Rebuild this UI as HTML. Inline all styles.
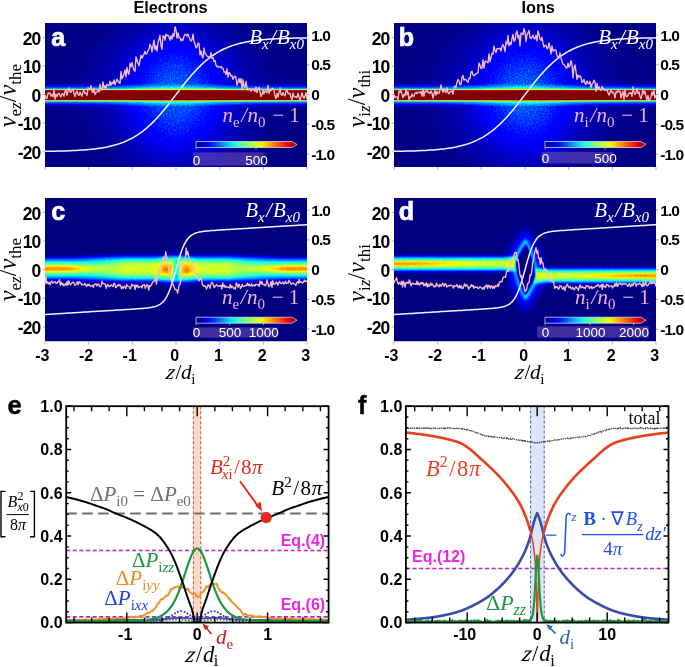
<!DOCTYPE html>
<html><head><meta charset="utf-8"><style>
html,body{margin:0;padding:0;background:#fff;width:685px;height:667px;overflow:hidden}
svg{display:block;will-change:transform}
</style></head><body>
<svg width="685" height="667" viewBox="0 0 685 667">
<defs><linearGradient id="jet" x1="0" x2="1" y1="0" y2="0"><stop offset="0.000" stop-color="#000080"/><stop offset="0.050" stop-color="#0000b9"/><stop offset="0.100" stop-color="#0000f3"/><stop offset="0.150" stop-color="#001aff"/><stop offset="0.200" stop-color="#004dff"/><stop offset="0.250" stop-color="#0080ff"/><stop offset="0.300" stop-color="#00b3ff"/><stop offset="0.350" stop-color="#00e6f7"/><stop offset="0.400" stop-color="#29ffce"/><stop offset="0.450" stop-color="#52ffa5"/><stop offset="0.500" stop-color="#7bff7b"/><stop offset="0.550" stop-color="#a5ff52"/><stop offset="0.600" stop-color="#ceff29"/><stop offset="0.650" stop-color="#f7f600"/><stop offset="0.700" stop-color="#ffc600"/><stop offset="0.750" stop-color="#ff9700"/><stop offset="0.800" stop-color="#ff6800"/><stop offset="0.850" stop-color="#ff3900"/><stop offset="0.900" stop-color="#f30900"/><stop offset="0.950" stop-color="#b90000"/><stop offset="1.000" stop-color="#800000"/></linearGradient>
<linearGradient id="bandA" x1="0" x2="0" y1="0" y2="1"><stop offset="0.000" stop-color="#0002ff"/><stop offset="0.013" stop-color="#000eff"/><stop offset="0.025" stop-color="#0019ff"/><stop offset="0.037" stop-color="#0024ff"/><stop offset="0.050" stop-color="#0030ff"/><stop offset="0.062" stop-color="#003bff"/><stop offset="0.075" stop-color="#0047ff"/><stop offset="0.088" stop-color="#0052ff"/><stop offset="0.100" stop-color="#005eff"/><stop offset="0.112" stop-color="#0069ff"/><stop offset="0.125" stop-color="#0075ff"/><stop offset="0.138" stop-color="#0080ff"/><stop offset="0.150" stop-color="#008cff"/><stop offset="0.162" stop-color="#0097ff"/><stop offset="0.175" stop-color="#00c9ff"/><stop offset="0.188" stop-color="#40ffb6"/><stop offset="0.200" stop-color="#97ff5f"/><stop offset="0.213" stop-color="#efff08"/><stop offset="0.225" stop-color="#ff9b00"/><stop offset="0.238" stop-color="#ff3700"/><stop offset="0.250" stop-color="#b10000"/><stop offset="0.263" stop-color="#800000"/><stop offset="0.275" stop-color="#800000"/><stop offset="0.288" stop-color="#800000"/><stop offset="0.300" stop-color="#800000"/><stop offset="0.312" stop-color="#800000"/><stop offset="0.325" stop-color="#800000"/><stop offset="0.338" stop-color="#800000"/><stop offset="0.350" stop-color="#800000"/><stop offset="0.363" stop-color="#800000"/><stop offset="0.375" stop-color="#800000"/><stop offset="0.388" stop-color="#800000"/><stop offset="0.400" stop-color="#800000"/><stop offset="0.413" stop-color="#800000"/><stop offset="0.425" stop-color="#800000"/><stop offset="0.438" stop-color="#800000"/><stop offset="0.450" stop-color="#800000"/><stop offset="0.463" stop-color="#800000"/><stop offset="0.475" stop-color="#800000"/><stop offset="0.488" stop-color="#800000"/><stop offset="0.500" stop-color="#800000"/><stop offset="0.513" stop-color="#800000"/><stop offset="0.525" stop-color="#800000"/><stop offset="0.537" stop-color="#800000"/><stop offset="0.550" stop-color="#800000"/><stop offset="0.562" stop-color="#800000"/><stop offset="0.575" stop-color="#800000"/><stop offset="0.588" stop-color="#800000"/><stop offset="0.600" stop-color="#800000"/><stop offset="0.613" stop-color="#800000"/><stop offset="0.625" stop-color="#800000"/><stop offset="0.638" stop-color="#800000"/><stop offset="0.650" stop-color="#800000"/><stop offset="0.663" stop-color="#800000"/><stop offset="0.675" stop-color="#800000"/><stop offset="0.688" stop-color="#800000"/><stop offset="0.700" stop-color="#800000"/><stop offset="0.713" stop-color="#800000"/><stop offset="0.725" stop-color="#800000"/><stop offset="0.738" stop-color="#800000"/><stop offset="0.750" stop-color="#b10000"/><stop offset="0.763" stop-color="#ff3700"/><stop offset="0.775" stop-color="#ff9b00"/><stop offset="0.788" stop-color="#efff08"/><stop offset="0.800" stop-color="#97ff5f"/><stop offset="0.812" stop-color="#40ffb6"/><stop offset="0.825" stop-color="#00c9ff"/><stop offset="0.838" stop-color="#0097ff"/><stop offset="0.850" stop-color="#008cff"/><stop offset="0.863" stop-color="#0080ff"/><stop offset="0.875" stop-color="#0075ff"/><stop offset="0.888" stop-color="#0069ff"/><stop offset="0.900" stop-color="#005eff"/><stop offset="0.913" stop-color="#0052ff"/><stop offset="0.925" stop-color="#0047ff"/><stop offset="0.938" stop-color="#003bff"/><stop offset="0.950" stop-color="#0030ff"/><stop offset="0.963" stop-color="#0024ff"/><stop offset="0.975" stop-color="#0019ff"/><stop offset="0.988" stop-color="#000eff"/><stop offset="1.000" stop-color="#0002ff"/></linearGradient>
<linearGradient id="bandC" x1="0" x2="0" y1="0" y2="1"><stop offset="0.000" stop-color="#0000ff" stop-opacity="0.036"/><stop offset="0.017" stop-color="#0000ff" stop-opacity="0.051"/><stop offset="0.033" stop-color="#0000ff" stop-opacity="0.073"/><stop offset="0.050" stop-color="#0000ff" stop-opacity="0.101"/><stop offset="0.067" stop-color="#0000ff" stop-opacity="0.139"/><stop offset="0.083" stop-color="#0000ff" stop-opacity="0.188"/><stop offset="0.100" stop-color="#0000ff" stop-opacity="0.252"/><stop offset="0.117" stop-color="#0000ff" stop-opacity="0.331"/><stop offset="0.133" stop-color="#0000ff" stop-opacity="0.430"/><stop offset="0.150" stop-color="#0000ff" stop-opacity="0.550"/><stop offset="0.167" stop-color="#0000ff" stop-opacity="0.695"/><stop offset="0.183" stop-color="#0000ff" stop-opacity="0.866"/><stop offset="0.200" stop-color="#0000ff"/><stop offset="0.217" stop-color="#0011ff"/><stop offset="0.233" stop-color="#002eff"/><stop offset="0.250" stop-color="#004dff"/><stop offset="0.267" stop-color="#0070ff"/><stop offset="0.283" stop-color="#0094ff"/><stop offset="0.300" stop-color="#00baff"/><stop offset="0.317" stop-color="#00e1fb"/><stop offset="0.333" stop-color="#1bffdb"/><stop offset="0.350" stop-color="#3affbd"/><stop offset="0.367" stop-color="#57ffa0"/><stop offset="0.383" stop-color="#72ff84"/><stop offset="0.400" stop-color="#8bff6c"/><stop offset="0.417" stop-color="#a0ff57"/><stop offset="0.433" stop-color="#b1ff46"/><stop offset="0.450" stop-color="#beff39"/><stop offset="0.467" stop-color="#c7ff30"/><stop offset="0.483" stop-color="#ccff2b"/><stop offset="0.500" stop-color="#ceff29"/><stop offset="0.517" stop-color="#ccff2b"/><stop offset="0.533" stop-color="#c7ff30"/><stop offset="0.550" stop-color="#beff39"/><stop offset="0.567" stop-color="#b1ff46"/><stop offset="0.583" stop-color="#a0ff57"/><stop offset="0.600" stop-color="#8bff6c"/><stop offset="0.617" stop-color="#72ff84"/><stop offset="0.633" stop-color="#57ffa0"/><stop offset="0.650" stop-color="#3affbd"/><stop offset="0.667" stop-color="#1bffdb"/><stop offset="0.683" stop-color="#00e1fb"/><stop offset="0.700" stop-color="#00baff"/><stop offset="0.717" stop-color="#0094ff"/><stop offset="0.733" stop-color="#0070ff"/><stop offset="0.750" stop-color="#004dff"/><stop offset="0.767" stop-color="#002eff"/><stop offset="0.783" stop-color="#0011ff"/><stop offset="0.800" stop-color="#0000ff"/><stop offset="0.817" stop-color="#0000ff" stop-opacity="0.866"/><stop offset="0.833" stop-color="#0000ff" stop-opacity="0.695"/><stop offset="0.850" stop-color="#0000ff" stop-opacity="0.550"/><stop offset="0.867" stop-color="#0000ff" stop-opacity="0.430"/><stop offset="0.883" stop-color="#0000ff" stop-opacity="0.331"/><stop offset="0.900" stop-color="#0000ff" stop-opacity="0.252"/><stop offset="0.917" stop-color="#0000ff" stop-opacity="0.188"/><stop offset="0.933" stop-color="#0000ff" stop-opacity="0.139"/><stop offset="0.950" stop-color="#0000ff" stop-opacity="0.101"/><stop offset="0.967" stop-color="#0000ff" stop-opacity="0.073"/><stop offset="0.983" stop-color="#0000ff" stop-opacity="0.051"/><stop offset="1.000" stop-color="#0000ff" stop-opacity="0.036"/></linearGradient>
<linearGradient id="bandD" x1="0" x2="0" y1="0" y2="1"><stop offset="0.000" stop-color="#0000ff" stop-opacity="0.036"/><stop offset="0.025" stop-color="#0000ff" stop-opacity="0.059"/><stop offset="0.050" stop-color="#0000ff" stop-opacity="0.093"/><stop offset="0.075" stop-color="#0000ff" stop-opacity="0.144"/><stop offset="0.100" stop-color="#0000ff" stop-opacity="0.216"/><stop offset="0.125" stop-color="#0000ff" stop-opacity="0.317"/><stop offset="0.150" stop-color="#0000ff" stop-opacity="0.453"/><stop offset="0.175" stop-color="#0000ff" stop-opacity="0.632"/><stop offset="0.200" stop-color="#0000ff" stop-opacity="0.860"/><stop offset="0.225" stop-color="#0001ff"/><stop offset="0.250" stop-color="#0027ff"/><stop offset="0.275" stop-color="#0053ff"/><stop offset="0.300" stop-color="#0084ff"/><stop offset="0.325" stop-color="#00b8ff"/><stop offset="0.350" stop-color="#07efef"/><stop offset="0.375" stop-color="#32ffc4"/><stop offset="0.400" stop-color="#5aff9d"/><stop offset="0.425" stop-color="#7cff7a"/><stop offset="0.450" stop-color="#97ff60"/><stop offset="0.475" stop-color="#a7ff50"/><stop offset="0.500" stop-color="#adff4a"/><stop offset="0.525" stop-color="#a7ff50"/><stop offset="0.550" stop-color="#97ff60"/><stop offset="0.575" stop-color="#7cff7a"/><stop offset="0.600" stop-color="#5aff9d"/><stop offset="0.625" stop-color="#32ffc4"/><stop offset="0.650" stop-color="#07efef"/><stop offset="0.675" stop-color="#00b8ff"/><stop offset="0.700" stop-color="#0084ff"/><stop offset="0.725" stop-color="#0053ff"/><stop offset="0.750" stop-color="#0027ff"/><stop offset="0.775" stop-color="#0001ff"/><stop offset="0.800" stop-color="#0000ff" stop-opacity="0.860"/><stop offset="0.825" stop-color="#0000ff" stop-opacity="0.632"/><stop offset="0.850" stop-color="#0000ff" stop-opacity="0.453"/><stop offset="0.875" stop-color="#0000ff" stop-opacity="0.317"/><stop offset="0.900" stop-color="#0000ff" stop-opacity="0.216"/><stop offset="0.925" stop-color="#0000ff" stop-opacity="0.144"/><stop offset="0.950" stop-color="#0000ff" stop-opacity="0.093"/><stop offset="0.975" stop-color="#0000ff" stop-opacity="0.059"/><stop offset="1.000" stop-color="#0000ff" stop-opacity="0.036"/></linearGradient>
<linearGradient id="coreC" x1="0" x2="0" y1="0" y2="1"><stop offset="0.000" stop-color="#ceff29" stop-opacity="0.009"/><stop offset="0.042" stop-color="#cfff28" stop-opacity="0.019"/><stop offset="0.083" stop-color="#d0ff27" stop-opacity="0.038"/><stop offset="0.125" stop-color="#d3ff24" stop-opacity="0.070"/><stop offset="0.167" stop-color="#d8ff1f" stop-opacity="0.122"/><stop offset="0.208" stop-color="#e1ff16" stop-opacity="0.200"/><stop offset="0.250" stop-color="#f0fd07" stop-opacity="0.307"/><stop offset="0.292" stop-color="#ffe500" stop-opacity="0.440"/><stop offset="0.333" stop-color="#ffc600" stop-opacity="0.591"/><stop offset="0.375" stop-color="#ffa500" stop-opacity="0.744"/><stop offset="0.417" stop-color="#ff8600" stop-opacity="0.877"/><stop offset="0.458" stop-color="#ff7000" stop-opacity="0.968"/><stop offset="0.500" stop-color="#ff6800" stop-opacity="1.000"/><stop offset="0.542" stop-color="#ff7000" stop-opacity="0.968"/><stop offset="0.583" stop-color="#ff8600" stop-opacity="0.877"/><stop offset="0.625" stop-color="#ffa500" stop-opacity="0.744"/><stop offset="0.667" stop-color="#ffc600" stop-opacity="0.591"/><stop offset="0.708" stop-color="#ffe500" stop-opacity="0.440"/><stop offset="0.750" stop-color="#f0fd07" stop-opacity="0.307"/><stop offset="0.792" stop-color="#e1ff16" stop-opacity="0.200"/><stop offset="0.833" stop-color="#d8ff1f" stop-opacity="0.122"/><stop offset="0.875" stop-color="#d3ff24" stop-opacity="0.070"/><stop offset="0.917" stop-color="#d0ff27" stop-opacity="0.038"/><stop offset="0.958" stop-color="#cfff28" stop-opacity="0.019"/><stop offset="1.000" stop-color="#ceff29" stop-opacity="0.009"/></linearGradient>
<linearGradient id="coreD" x1="0" x2="0" y1="0" y2="1"><stop offset="0.000" stop-color="#ceff29" stop-opacity="0.009"/><stop offset="0.042" stop-color="#ceff28" stop-opacity="0.019"/><stop offset="0.083" stop-color="#cfff27" stop-opacity="0.038"/><stop offset="0.125" stop-color="#d2ff25" stop-opacity="0.070"/><stop offset="0.167" stop-color="#d6ff21" stop-opacity="0.122"/><stop offset="0.208" stop-color="#ddff19" stop-opacity="0.200"/><stop offset="0.250" stop-color="#e9ff0e" stop-opacity="0.307"/><stop offset="0.292" stop-color="#faf200" stop-opacity="0.440"/><stop offset="0.333" stop-color="#ffd900" stop-opacity="0.591"/><stop offset="0.375" stop-color="#ffbf00" stop-opacity="0.744"/><stop offset="0.417" stop-color="#ffa600" stop-opacity="0.877"/><stop offset="0.458" stop-color="#ff9400" stop-opacity="0.968"/><stop offset="0.500" stop-color="#ff8e00" stop-opacity="1.000"/><stop offset="0.542" stop-color="#ff9400" stop-opacity="0.968"/><stop offset="0.583" stop-color="#ffa600" stop-opacity="0.877"/><stop offset="0.625" stop-color="#ffbf00" stop-opacity="0.744"/><stop offset="0.667" stop-color="#ffd900" stop-opacity="0.591"/><stop offset="0.708" stop-color="#faf200" stop-opacity="0.440"/><stop offset="0.750" stop-color="#e9ff0e" stop-opacity="0.307"/><stop offset="0.792" stop-color="#ddff19" stop-opacity="0.200"/><stop offset="0.833" stop-color="#d6ff21" stop-opacity="0.122"/><stop offset="0.875" stop-color="#d2ff25" stop-opacity="0.070"/><stop offset="0.917" stop-color="#cfff27" stop-opacity="0.038"/><stop offset="0.958" stop-color="#ceff28" stop-opacity="0.019"/><stop offset="1.000" stop-color="#ceff29" stop-opacity="0.009"/></linearGradient>
<linearGradient id="edgeG" x1="0" x2="1" y1="0" y2="0"><stop offset="0" stop-color="#fff"/><stop offset="0.12" stop-color="#fff" stop-opacity="0.85"/><stop offset="0.3" stop-color="#fff" stop-opacity="0"/><stop offset="0.7" stop-color="#fff" stop-opacity="0"/><stop offset="0.88" stop-color="#fff" stop-opacity="0.85"/><stop offset="1" stop-color="#fff"/></linearGradient>
<radialGradient id="glow" cx="0.5" cy="0.5" r="0.5"><stop offset="0.000" stop-color="#0066ff"/><stop offset="0.071" stop-color="#0061ff"/><stop offset="0.143" stop-color="#0054ff"/><stop offset="0.214" stop-color="#003fff"/><stop offset="0.286" stop-color="#0026ff"/><stop offset="0.357" stop-color="#000aff"/><stop offset="0.429" stop-color="#0000ff" stop-opacity="0.981"/><stop offset="0.500" stop-color="#0000ff" stop-opacity="0.752"/><stop offset="0.571" stop-color="#0000ff" stop-opacity="0.554"/><stop offset="0.643" stop-color="#0000ff" stop-opacity="0.392"/><stop offset="0.714" stop-color="#0000ff" stop-opacity="0.266"/><stop offset="0.786" stop-color="#0000ff" stop-opacity="0.173"/><stop offset="0.857" stop-color="#0000ff" stop-opacity="0.108"/><stop offset="0.929" stop-color="#0000ff" stop-opacity="0.065"/><stop offset="1.000" stop-color="#0000ff" stop-opacity="0.037"/></radialGradient>
<radialGradient id="blob" cx="0.5" cy="0.5" r="0.5"><stop offset="0.000" stop-color="#ff6800" stop-opacity="1.00"/><stop offset="0.100" stop-color="#ff7d00" stop-opacity="0.99"/><stop offset="0.200" stop-color="#ff9100" stop-opacity="0.97"/><stop offset="0.300" stop-color="#ffa600" stop-opacity="0.93"/><stop offset="0.400" stop-color="#ffbb00" stop-opacity="0.87"/><stop offset="0.500" stop-color="#ffd000" stop-opacity="0.78"/><stop offset="0.600" stop-color="#ffe500" stop-opacity="0.67"/><stop offset="0.700" stop-color="#f3f903" stop-opacity="0.54"/><stop offset="0.800" stop-color="#e1ff15" stop-opacity="0.39"/><stop offset="0.900" stop-color="#cfff27" stop-opacity="0.21"/><stop offset="1.000" stop-color="#bdff3a" stop-opacity="0.00"/></radialGradient>
<radialGradient id="wide" cx="0.5" cy="0.5" r="0.5"><stop offset="0.000" stop-color="#00dbff"/><stop offset="0.083" stop-color="#00d2ff"/><stop offset="0.167" stop-color="#00b7ff"/><stop offset="0.250" stop-color="#008fff"/><stop offset="0.333" stop-color="#005fff"/><stop offset="0.417" stop-color="#002eff"/><stop offset="0.500" stop-color="#0000ff"/><stop offset="0.583" stop-color="#0000ff" stop-opacity="0.792"/><stop offset="0.667" stop-color="#0000ff" stop-opacity="0.522"/><stop offset="0.750" stop-color="#0000ff" stop-opacity="0.326"/><stop offset="0.833" stop-color="#0000ff" stop-opacity="0.192"/><stop offset="0.917" stop-color="#0000ff" stop-opacity="0.107"/><stop offset="1.000" stop-color="#0000ff" stop-opacity="0.057"/></radialGradient>
<filter id="nz" x="0" y="0" width="1" height="1" color-interpolation-filters="sRGB"><feTurbulence type="fractalNoise" baseFrequency="0.6" numOctaves="2" seed="4" result="t"/><feColorMatrix in="t" type="matrix" values="1 0 0 0 0  1 0 0 0 0  1 0 0 0 0  1 0 0 0 0" result="tg"/><feComposite in="SourceGraphic" in2="tg" operator="arithmetic" k1="0.7" k2="0.65" k3="0" k4="0"/></filter>
<filter id="nz2" x="0" y="0" width="1" height="1" color-interpolation-filters="sRGB"><feTurbulence type="fractalNoise" baseFrequency="0.55" numOctaves="2" seed="9" result="t"/><feColorMatrix in="t" type="matrix" values="1 0 0 0 0  1 0 0 0 0  1 0 0 0 0  1 0 0 0 0" result="tg"/><feComposite in="SourceGraphic" in2="tg" operator="arithmetic" k1="0.2" k2="0.9" k3="0" k4="0"/></filter>
<filter id="jetmap" x="0" y="0" width="1" height="1" color-interpolation-filters="sRGB"><feComponentTransfer><feFuncR type="table" tableValues="0.0000 0.0000 0.0000 0.0000 0.0000 0.0000 0.0000 0.0000 0.0000 0.0000 0.0000 0.0000 0.0000 0.0000 0.0000 0.0000 0.0000 0.0000 0.0000 0.0000 0.0000 0.0000 0.0000 0.0000 0.0000 0.0000 0.0000 0.0000 0.0000 0.0000 0.0000 0.0000 0.0000 0.0000 0.0000 0.0000 0.0314 0.0627 0.0980 0.1294 0.1608 0.1922 0.2275 0.2588 0.2902 0.3216 0.3529 0.3882 0.4196 0.4510 0.4824 0.5176 0.5490 0.5804 0.6118 0.6471 0.6784 0.7098 0.7412 0.7725 0.8078 0.8392 0.8706 0.9020 0.9373 0.9686 1.0000 1.0000 1.0000 1.0000 1.0000 1.0000 1.0000 1.0000 1.0000 1.0000 1.0000 1.0000 1.0000 1.0000 1.0000 1.0000 1.0000 1.0000 1.0000 1.0000 1.0000 1.0000 1.0000 1.0000 0.9529 0.9098 0.8627 0.8196 0.7725 0.7255 0.6824 0.6353 0.5922 0.5451 0.5020"/><feFuncG type="table" tableValues="0.0000 0.0000 0.0000 0.0000 0.0000 0.0000 0.0000 0.0000 0.0000 0.0000 0.0000 0.0000 0.0000 0.0196 0.0588 0.0980 0.1412 0.1804 0.2196 0.2588 0.3020 0.3412 0.3804 0.4196 0.4588 0.5020 0.5412 0.5804 0.6196 0.6588 0.6980 0.7412 0.7804 0.8196 0.8588 0.9020 0.9412 0.9804 1.0000 1.0000 1.0000 1.0000 1.0000 1.0000 1.0000 1.0000 1.0000 1.0000 1.0000 1.0000 1.0000 1.0000 1.0000 1.0000 1.0000 1.0000 1.0000 1.0000 1.0000 1.0000 1.0000 1.0000 1.0000 1.0000 1.0000 0.9647 0.9255 0.8902 0.8510 0.8157 0.7765 0.7412 0.7020 0.6667 0.6314 0.5922 0.5569 0.5176 0.4824 0.4431 0.4078 0.3686 0.3333 0.2980 0.2588 0.2235 0.1843 0.1490 0.1098 0.0745 0.0353 0.0000 0.0000 0.0000 0.0000 0.0000 0.0000 0.0000 0.0000 0.0000 0.0000"/><feFuncB type="table" tableValues="0.5020 0.5451 0.5922 0.6353 0.6824 0.7255 0.7725 0.8196 0.8627 0.9098 0.9529 1.0000 1.0000 1.0000 1.0000 1.0000 1.0000 1.0000 1.0000 1.0000 1.0000 1.0000 1.0000 1.0000 1.0000 1.0000 1.0000 1.0000 1.0000 1.0000 1.0000 1.0000 1.0000 1.0000 1.0000 0.9686 0.9373 0.9020 0.8706 0.8392 0.8078 0.7725 0.7412 0.7098 0.6784 0.6471 0.6118 0.5804 0.5490 0.5176 0.4824 0.4510 0.4196 0.3882 0.3529 0.3216 0.2902 0.2588 0.2275 0.1922 0.1608 0.1294 0.0980 0.0627 0.0314 0.0000 0.0000 0.0000 0.0000 0.0000 0.0000 0.0000 0.0000 0.0000 0.0000 0.0000 0.0000 0.0000 0.0000 0.0000 0.0000 0.0000 0.0000 0.0000 0.0000 0.0000 0.0000 0.0000 0.0000 0.0000 0.0000 0.0000 0.0000 0.0000 0.0000 0.0000 0.0000 0.0000 0.0000 0.0000 0.0000"/></feComponentTransfer></filter>
<filter id="bl1" x="-20%" y="-20%" width="140%" height="140%"><feGaussianBlur stdDeviation="1.2"/></filter>
<filter id="bl3" x="-50%" y="-50%" width="200%" height="200%"><feGaussianBlur stdDeviation="3"/></filter>
<filter id="bl5" x="-50%" y="-50%" width="200%" height="200%"><feGaussianBlur stdDeviation="5"/></filter></defs>
<text x="170.5" y="12.8" font-size="16.3" font-weight="bold" text-anchor="middle" font-family="Liberation Sans, sans-serif">Electrons</text>
<text x="538.2" y="13" font-size="16.3" font-weight="bold" text-anchor="middle" font-family="Liberation Sans, sans-serif">Ions</text>
<defs><clipPath id="clipa"><rect x="45" y="23" width="262" height="144"/></clipPath></defs>
<g clip-path="url(#clipa)">
<g filter="url(#jetmap)">
<rect x="45" y="23" width="262" height="144" fill="#000"/>
<linearGradient id="gha" gradientUnits="userSpaceOnUse" x1="45" x2="307" y1="0" y2="0"><stop offset="0.000" stop-color="#fff" stop-opacity="0.005"/><stop offset="0.019" stop-color="#fff" stop-opacity="0.006"/><stop offset="0.038" stop-color="#fff" stop-opacity="0.008"/><stop offset="0.058" stop-color="#fff" stop-opacity="0.009"/><stop offset="0.077" stop-color="#fff" stop-opacity="0.011"/><stop offset="0.096" stop-color="#fff" stop-opacity="0.014"/><stop offset="0.115" stop-color="#fff" stop-opacity="0.017"/><stop offset="0.135" stop-color="#fff" stop-opacity="0.020"/><stop offset="0.154" stop-color="#fff" stop-opacity="0.025"/><stop offset="0.173" stop-color="#fff" stop-opacity="0.030"/><stop offset="0.192" stop-color="#fff" stop-opacity="0.037"/><stop offset="0.212" stop-color="#fff" stop-opacity="0.044"/><stop offset="0.231" stop-color="#fff" stop-opacity="0.053"/><stop offset="0.250" stop-color="#fff" stop-opacity="0.064"/><stop offset="0.269" stop-color="#fff" stop-opacity="0.076"/><stop offset="0.288" stop-color="#fff" stop-opacity="0.091"/><stop offset="0.308" stop-color="#fff" stop-opacity="0.107"/><stop offset="0.327" stop-color="#fff" stop-opacity="0.124"/><stop offset="0.346" stop-color="#fff" stop-opacity="0.144"/><stop offset="0.365" stop-color="#fff" stop-opacity="0.164"/><stop offset="0.385" stop-color="#fff" stop-opacity="0.185"/><stop offset="0.404" stop-color="#fff" stop-opacity="0.206"/><stop offset="0.423" stop-color="#fff" stop-opacity="0.225"/><stop offset="0.442" stop-color="#fff" stop-opacity="0.241"/><stop offset="0.462" stop-color="#fff" stop-opacity="0.254"/><stop offset="0.481" stop-color="#fff" stop-opacity="0.262"/><stop offset="0.500" stop-color="#fff" stop-opacity="0.265"/><stop offset="0.519" stop-color="#fff" stop-opacity="0.262"/><stop offset="0.538" stop-color="#fff" stop-opacity="0.254"/><stop offset="0.558" stop-color="#fff" stop-opacity="0.241"/><stop offset="0.577" stop-color="#fff" stop-opacity="0.225"/><stop offset="0.596" stop-color="#fff" stop-opacity="0.206"/><stop offset="0.615" stop-color="#fff" stop-opacity="0.185"/><stop offset="0.635" stop-color="#fff" stop-opacity="0.164"/><stop offset="0.654" stop-color="#fff" stop-opacity="0.144"/><stop offset="0.673" stop-color="#fff" stop-opacity="0.124"/><stop offset="0.692" stop-color="#fff" stop-opacity="0.107"/><stop offset="0.712" stop-color="#fff" stop-opacity="0.091"/><stop offset="0.731" stop-color="#fff" stop-opacity="0.076"/><stop offset="0.750" stop-color="#fff" stop-opacity="0.064"/><stop offset="0.769" stop-color="#fff" stop-opacity="0.053"/><stop offset="0.788" stop-color="#fff" stop-opacity="0.044"/><stop offset="0.808" stop-color="#fff" stop-opacity="0.037"/><stop offset="0.827" stop-color="#fff" stop-opacity="0.030"/><stop offset="0.846" stop-color="#fff" stop-opacity="0.025"/><stop offset="0.865" stop-color="#fff" stop-opacity="0.020"/><stop offset="0.885" stop-color="#fff" stop-opacity="0.017"/><stop offset="0.904" stop-color="#fff" stop-opacity="0.014"/><stop offset="0.923" stop-color="#fff" stop-opacity="0.011"/><stop offset="0.942" stop-color="#fff" stop-opacity="0.009"/><stop offset="0.962" stop-color="#fff" stop-opacity="0.008"/><stop offset="0.981" stop-color="#fff" stop-opacity="0.006"/><stop offset="1.000" stop-color="#fff" stop-opacity="0.005"/></linearGradient>
<linearGradient id="gmag" gradientUnits="userSpaceOnUse" x1="0" x2="0" y1="23" y2="167"><stop offset="0.000" stop-color="#383838"/><stop offset="0.028" stop-color="#414141"/><stop offset="0.056" stop-color="#4d4d4d"/><stop offset="0.083" stop-color="#595959"/><stop offset="0.111" stop-color="#666666"/><stop offset="0.139" stop-color="#747474"/><stop offset="0.167" stop-color="#828282"/><stop offset="0.194" stop-color="#919191"/><stop offset="0.222" stop-color="#a0a0a0"/><stop offset="0.250" stop-color="#afafaf"/><stop offset="0.278" stop-color="#bdbdbd"/><stop offset="0.306" stop-color="#cbcbcb"/><stop offset="0.333" stop-color="#d8d8d8"/><stop offset="0.361" stop-color="#e3e3e3"/><stop offset="0.389" stop-color="#ededed"/><stop offset="0.417" stop-color="#f5f5f5"/><stop offset="0.444" stop-color="#fbfbfb"/><stop offset="0.472" stop-color="#fefefe"/><stop offset="0.500" stop-color="#ffffff"/><stop offset="0.528" stop-color="#fefefe"/><stop offset="0.556" stop-color="#fafafa"/><stop offset="0.583" stop-color="#f4f4f4"/><stop offset="0.611" stop-color="#ebebeb"/><stop offset="0.639" stop-color="#e1e1e1"/><stop offset="0.667" stop-color="#d6d6d6"/><stop offset="0.694" stop-color="#c9c9c9"/><stop offset="0.722" stop-color="#bbbbbb"/><stop offset="0.750" stop-color="#acacac"/><stop offset="0.778" stop-color="#9d9d9d"/><stop offset="0.806" stop-color="#8e8e8e"/><stop offset="0.833" stop-color="#7f7f7f"/><stop offset="0.861" stop-color="#717171"/><stop offset="0.889" stop-color="#636363"/><stop offset="0.917" stop-color="#565656"/><stop offset="0.944" stop-color="#4a4a4a"/><stop offset="0.972" stop-color="#3f3f3f"/><stop offset="1.000" stop-color="#363636"/></linearGradient>
<mask id="gma" maskUnits="userSpaceOnUse" x="45" y="23" width="262" height="144"><rect x="45" y="23" width="262" height="144" fill="url(#gmag)"/></mask>
<g mask="url(#gma)"><rect x="45" y="23" width="262" height="144" fill="url(#gha)" filter="url(#nz)"/></g>
<linearGradient id="bda" gradientUnits="userSpaceOnUse" x1="0" x2="0" y1="82.6" y2="106.6"><stop offset="0.000" stop-color="#fff" stop-opacity="0.000"/><stop offset="0.010" stop-color="#fff" stop-opacity="0.000"/><stop offset="0.021" stop-color="#fff" stop-opacity="0.000"/><stop offset="0.031" stop-color="#fff" stop-opacity="0.005"/><stop offset="0.042" stop-color="#fff" stop-opacity="0.014"/><stop offset="0.052" stop-color="#fff" stop-opacity="0.023"/><stop offset="0.062" stop-color="#fff" stop-opacity="0.032"/><stop offset="0.073" stop-color="#fff" stop-opacity="0.041"/><stop offset="0.083" stop-color="#fff" stop-opacity="0.050"/><stop offset="0.094" stop-color="#fff" stop-opacity="0.062"/><stop offset="0.104" stop-color="#fff" stop-opacity="0.073"/><stop offset="0.115" stop-color="#fff" stop-opacity="0.085"/><stop offset="0.125" stop-color="#fff" stop-opacity="0.097"/><stop offset="0.135" stop-color="#fff" stop-opacity="0.108"/><stop offset="0.146" stop-color="#fff" stop-opacity="0.120"/><stop offset="0.156" stop-color="#fff" stop-opacity="0.133"/><stop offset="0.167" stop-color="#fff" stop-opacity="0.147"/><stop offset="0.177" stop-color="#fff" stop-opacity="0.160"/><stop offset="0.188" stop-color="#fff" stop-opacity="0.173"/><stop offset="0.198" stop-color="#fff" stop-opacity="0.187"/><stop offset="0.208" stop-color="#fff" stop-opacity="0.200"/><stop offset="0.219" stop-color="#fff" stop-opacity="0.220"/><stop offset="0.229" stop-color="#fff" stop-opacity="0.240"/><stop offset="0.240" stop-color="#fff" stop-opacity="0.260"/><stop offset="0.250" stop-color="#fff" stop-opacity="0.280"/><stop offset="0.260" stop-color="#fff" stop-opacity="0.330"/><stop offset="0.271" stop-color="#fff" stop-opacity="0.380"/><stop offset="0.281" stop-color="#fff" stop-opacity="0.444"/><stop offset="0.292" stop-color="#fff" stop-opacity="0.564"/><stop offset="0.302" stop-color="#fff" stop-opacity="0.682"/><stop offset="0.312" stop-color="#fff" stop-opacity="0.792"/><stop offset="0.323" stop-color="#fff" stop-opacity="0.892"/><stop offset="0.333" stop-color="#fff" stop-opacity="0.952"/><stop offset="0.344" stop-color="#fff" stop-opacity="1.000"/><stop offset="0.354" stop-color="#fff" stop-opacity="1.000"/><stop offset="0.365" stop-color="#fff" stop-opacity="1.000"/><stop offset="0.375" stop-color="#fff" stop-opacity="1.000"/><stop offset="0.385" stop-color="#fff" stop-opacity="1.000"/><stop offset="0.396" stop-color="#fff" stop-opacity="1.000"/><stop offset="0.406" stop-color="#fff" stop-opacity="1.000"/><stop offset="0.417" stop-color="#fff" stop-opacity="1.000"/><stop offset="0.427" stop-color="#fff" stop-opacity="1.000"/><stop offset="0.438" stop-color="#fff" stop-opacity="1.000"/><stop offset="0.448" stop-color="#fff" stop-opacity="1.000"/><stop offset="0.458" stop-color="#fff" stop-opacity="1.000"/><stop offset="0.469" stop-color="#fff" stop-opacity="1.000"/><stop offset="0.479" stop-color="#fff" stop-opacity="1.000"/><stop offset="0.490" stop-color="#fff" stop-opacity="1.000"/><stop offset="0.500" stop-color="#fff" stop-opacity="1.000"/><stop offset="0.510" stop-color="#fff" stop-opacity="1.000"/><stop offset="0.521" stop-color="#fff" stop-opacity="1.000"/><stop offset="0.531" stop-color="#fff" stop-opacity="1.000"/><stop offset="0.542" stop-color="#fff" stop-opacity="1.000"/><stop offset="0.552" stop-color="#fff" stop-opacity="1.000"/><stop offset="0.562" stop-color="#fff" stop-opacity="1.000"/><stop offset="0.573" stop-color="#fff" stop-opacity="1.000"/><stop offset="0.583" stop-color="#fff" stop-opacity="1.000"/><stop offset="0.594" stop-color="#fff" stop-opacity="1.000"/><stop offset="0.604" stop-color="#fff" stop-opacity="1.000"/><stop offset="0.615" stop-color="#fff" stop-opacity="1.000"/><stop offset="0.625" stop-color="#fff" stop-opacity="1.000"/><stop offset="0.635" stop-color="#fff" stop-opacity="1.000"/><stop offset="0.646" stop-color="#fff" stop-opacity="1.000"/><stop offset="0.656" stop-color="#fff" stop-opacity="1.000"/><stop offset="0.667" stop-color="#fff" stop-opacity="1.000"/><stop offset="0.677" stop-color="#fff" stop-opacity="1.000"/><stop offset="0.688" stop-color="#fff" stop-opacity="1.000"/><stop offset="0.698" stop-color="#fff" stop-opacity="1.000"/><stop offset="0.708" stop-color="#fff" stop-opacity="1.000"/><stop offset="0.719" stop-color="#fff" stop-opacity="0.940"/><stop offset="0.729" stop-color="#fff" stop-opacity="0.880"/><stop offset="0.740" stop-color="#fff" stop-opacity="0.770"/><stop offset="0.750" stop-color="#fff" stop-opacity="0.660"/><stop offset="0.760" stop-color="#fff" stop-opacity="0.540"/><stop offset="0.771" stop-color="#fff" stop-opacity="0.420"/><stop offset="0.781" stop-color="#fff" stop-opacity="0.370"/><stop offset="0.792" stop-color="#fff" stop-opacity="0.320"/><stop offset="0.802" stop-color="#fff" stop-opacity="0.276"/><stop offset="0.812" stop-color="#fff" stop-opacity="0.256"/><stop offset="0.823" stop-color="#fff" stop-opacity="0.236"/><stop offset="0.833" stop-color="#fff" stop-opacity="0.216"/><stop offset="0.844" stop-color="#fff" stop-opacity="0.197"/><stop offset="0.854" stop-color="#fff" stop-opacity="0.184"/><stop offset="0.865" stop-color="#fff" stop-opacity="0.171"/><stop offset="0.875" stop-color="#fff" stop-opacity="0.157"/><stop offset="0.885" stop-color="#fff" stop-opacity="0.144"/><stop offset="0.896" stop-color="#fff" stop-opacity="0.131"/><stop offset="0.906" stop-color="#fff" stop-opacity="0.118"/><stop offset="0.917" stop-color="#fff" stop-opacity="0.106"/><stop offset="0.927" stop-color="#fff" stop-opacity="0.094"/><stop offset="0.938" stop-color="#fff" stop-opacity="0.083"/><stop offset="0.948" stop-color="#fff" stop-opacity="0.071"/><stop offset="0.958" stop-color="#fff" stop-opacity="0.059"/><stop offset="0.969" stop-color="#fff" stop-opacity="0.048"/><stop offset="0.979" stop-color="#fff" stop-opacity="0.039"/><stop offset="0.990" stop-color="#fff" stop-opacity="0.030"/><stop offset="1.000" stop-color="#fff" stop-opacity="0.021"/></linearGradient>
<rect x="45" y="82.6" width="262" height="24" fill="url(#bda)"/>
</g>
</g>
<path d="M45,151.3L46,151.3L47,151.3L48,151.3L49,151.3L50,151.2L51,151.2L52,151.2L53,151.2L54,151.2L55,151.2L56,151.1L57,151.1L58,151.1L59,151.1L60,151L61,151L62,151L63,151L64,150.9L65,150.9L66,150.9L67,150.8L68,150.8L69,150.8L70,150.7L71,150.7L72,150.6L73,150.6L74,150.5L75,150.5L76,150.4L77,150.4L78,150.3L79,150.3L80,150.2L81,150.1L82,150.1L83,150L84,149.9L85,149.9L86,149.8L87,149.7L88,149.6L89,149.5L90,149.4L91,149.3L92,149.2L93,149.1L94,149L95,148.9L96,148.8L97,148.6L98,148.5L99,148.3L100,148.2L101,148L102,147.9L103,147.7L104,147.5L105,147.4L106,147.2L107,147L108,146.8L109,146.5L110,146.3L111,146.1L112,145.8L113,145.6L114,145.3L115,145L116,144.7L117,144.4L118,144.1L119,143.8L120,143.5L121,143.1L122,142.7L123,142.4L124,142L125,141.5L126,141.1L127,140.7L128,140.2L129,139.7L130,139.2L131,138.7L132,138.2L133,137.6L134,137.1L135,136.5L136,135.9L137,135.2L138,134.6L139,133.9L140,133.2L141,132.5L142,131.8L143,131L144,130.2L145,129.4L146,128.6L147,127.7L148,126.8L149,125.9L150,125L151,124.1L152,123.1L153,122.1L154,121.1L155,120.1L156,119L157,117.9L158,116.8L159,115.7L160,114.6L161,113.4L162,112.3L163,111.1L164,109.9L165,108.7L166,107.4L167,106.2L168,104.9L169,103.7L170,102.4L171,101.1L172,99.8L173,98.5L174,97.2L175,95.9L176,94.6L177,93.3L178,92L179,90.7L180,89.4L181,88.1L182,86.8L183,85.5L184,84.3L185,83L186,81.8L187,80.5L188,79.3L189,78.1L190,76.9L191,75.8L192,74.6L193,73.5L194,72.4L195,71.3L196,70.2L197,69.1L198,68.1L199,67.1L200,66.1L201,65.1L202,64.2L203,63.3L204,62.4L205,61.5L206,60.6L207,59.8L208,59L209,58.2L210,57.4L211,56.7L212,56L213,55.3L214,54.6L215,54L216,53.3L217,52.7L218,52.1L219,51.6L220,51L221,50.5L222,50L223,49.5L224,49L225,48.5L226,48.1L227,47.7L228,47.2L229,46.8L230,46.5L231,46.1L232,45.7L233,45.4L234,45.1L235,44.8L236,44.5L237,44.2L238,43.9L239,43.6L240,43.4L241,43.1L242,42.9L243,42.7L244,42.4L245,42.2L246,42L247,41.8L248,41.7L249,41.5L250,41.3L251,41.2L252,41L253,40.9L254,40.7L255,40.6L256,40.4L257,40.3L258,40.2L259,40.1L260,40L261,39.9L262,39.8L263,39.7L264,39.6L265,39.5L266,39.4L267,39.3L268,39.3L269,39.2L270,39.1L271,39.1L272,39L273,38.9L274,38.9L275,38.8L276,38.8L277,38.7L278,38.7L279,38.6L280,38.6L281,38.5L282,38.5L283,38.4L284,38.4L285,38.4L286,38.3L287,38.3L288,38.3L289,38.2L290,38.2L291,38.2L292,38.2L293,38.1L294,38.1L295,38.1L296,38.1L297,38L298,38L299,38L300,38L301,38L302,38L303,37.9L304,37.9L305,37.9L306,37.9L307,37.9" fill="none" stroke="#f4f4ff" stroke-width="1.5"/>
<path d="M45,94.6L46,98.7L47,98.3L48,92.9L49,93.6L50,92.9L51,96.2L52,94.3L53,96.8L54,88.7L55,99.3L56,94.1L57,96.5L58,93.9L59,93.2L60,95.8L61,96.8L62,93.6L63,93.8L64,96.3L65,91.4L66,89.4L67,95.3L68,91.9L69,88L70,91.4L71,92.4L72,90.1L73,89.1L74,93.8L75,96.4L76,92.7L77,91.1L78,94.5L79,95.4L80,92.1L81,94.6L82,96.1L83,92L84,90L85,93.5L86,93L87,95.5L88,87.8L89,89.6L90,88.8L91,85.8L92,91.4L93,92.4L94,88.1L95,94.6L96,92.5L97,91.6L98,90.6L99,92L100,84.3L101,90.2L102,89.7L103,81.8L104,88.1L105,85.7L106,88.6L107,84.2L108,85L109,85.7L110,81.2L111,85.4L112,82.5L113,83.9L114,79.9L115,84.6L116,82.3L117,79.1L118,81L119,82.4L120,83.4L121,71.4L122,78.8L123,76.6L124,73.9L125,70L126,76.8L127,67.3L128,72.7L129,74.3L130,63.4L131,66.9L132,62.5L133,66.9L134,70.3L135,71.2L136,56.8L137,60L138,63.5L139,65.7L140,60.5L141,55.3L142,58.1L143,55.9L144,54.2L145,51.3L146,54.4L147,53.1L148,50.7L149,49.2L150,44.3L151,46.4L152,51.8L153,45.7L154,40.1L155,49.7L156,45.8L157,51L158,42.5L159,39.8L160,35.3L161,45.3L162,49.4L163,35.8L164,35.9L165,40.2L166,34.2L167,35.9L168,35.2L169,37L170,40.2L171,35.8L172,39.1L173,33.7L174,36.5L175,26.8L176,29.4L177,38.2L178,32.9L179,37.6L180,37.6L181,40.8L182,39.1L183,40.2L184,36.2L185,34.3L186,34.6L187,36L188,34L189,36.9L190,39.2L191,41.1L192,39.6L193,34.2L194,42L195,43.9L196,47.9L197,46.8L198,43.1L199,43.7L200,54.8L201,51L202,55.9L203,57.9L204,48L205,53.4L206,54.6L207,56L208,56.9L209,56.7L210,57.6L211,52.6L212,58.4L213,57.4L214,61.5L215,60.4L216,65.2L217,66.9L218,66.1L219,67.1L220,67.3L221,66.4L222,68.3L223,68.1L224,72.1L225,71.7L226,74.5L227,68.9L228,77.2L229,72.5L230,73.4L231,76L232,75.6L233,79.2L234,77L235,76.1L236,77.6L237,85.3L238,81.8L239,78.5L240,82.9L241,78.4L242,89.8L243,79.6L244,86.6L245,87.4L246,81.4L247,87.5L248,90.2L249,88.9L250,88.7L251,91.2L252,89.1L253,90L254,88.9L255,91.6L256,86.9L257,92.7L258,88.9L259,87.3L260,92.1L261,96.5L262,94.5L263,90L264,94L265,90.6L266,91.8L267,92.7L268,85.3L269,93.3L270,89.6L271,90.8L272,88.5L273,88.4L274,90.3L275,96L276,98.7L277,93.5L278,97L279,92.9L280,87.8L281,94.3L282,95.3L283,92.6L284,95L285,95.8L286,91.4L287,89.6L288,93.5L289,93.6L290,93.2L291,97.4L292,99.7L293,93L294,96.5L295,97.3L296,96.6L297,97.7L298,93.2L299,96.7L300,100.7L301,97L302,92.6L303,96.4L304,98.4L305,95.7L306,92.8L307,99.3" fill="none" stroke="#f4bccd" stroke-width="1.35" stroke-linejoin="round"/>
<rect x="193.3" y="152.4" width="70.2" height="13.2" fill="#8a5fc0" opacity="0.47"/>
<path d="M196,141.5 h96 l5,3 l-5,3 h-96 z" fill="url(#jet)" stroke="#e8e8f0" stroke-width="0.7"/>
<line x1="196" x2="196" y1="147.5" y2="149.5" stroke="#ddd" stroke-width="0.7"/>
<text x="196.4" y="164.7" font-size="13.5" fill="#fff" text-anchor="middle" font-family="Liberation Sans, sans-serif">0</text>
<line x1="256" x2="256" y1="147.5" y2="149.5" stroke="#ddd" stroke-width="0.7"/>
<text x="256.4" y="164.7" font-size="13.5" fill="#fff" text-anchor="middle" font-family="Liberation Sans, sans-serif">500</text>
<text x="51.3" y="46" font-size="25" font-weight="bold" fill="#fff" stroke="#fff" stroke-width="0.7" font-family="Liberation Sans, sans-serif">a</text>
<text x="249.2" y="44.2" fill="#fff" font-family="Liberation Serif, serif" font-style="italic" font-size="21">B<tspan font-size="15" dy="5">x</tspan><tspan dy="-5" dx="1.5">/</tspan><tspan dx="1">B</tspan><tspan font-size="15" dy="5">x0</tspan></text>
<text x="222.5" y="121.5" fill="#efb0e4" font-family="Liberation Serif, serif" font-size="21"><tspan font-style="italic">n</tspan><tspan font-size="15" dy="5">e</tspan><tspan dy="-5" dx="1.5" font-style="italic">/</tspan><tspan dx="0.5" font-style="italic">n</tspan><tspan font-size="15" dy="5">0</tspan><tspan dy="-5" dx="1.5"> − 1</tspan></text>
<text x="40.4" y="44.5" font-size="17.5" font-weight="bold" letter-spacing="-0.9" text-anchor="end" font-family="Liberation Sans, sans-serif">20</text>
<text x="40.4" y="73.2" font-size="17.5" font-weight="bold" letter-spacing="-0.9" text-anchor="end" font-family="Liberation Sans, sans-serif">10</text>
<text x="40.4" y="101.8" font-size="17.5" font-weight="bold" letter-spacing="-0.9" text-anchor="end" font-family="Liberation Sans, sans-serif">0</text>
<text x="40.4" y="130.4" font-size="17.5" font-weight="bold" letter-spacing="-0.9" text-anchor="end" font-family="Liberation Sans, sans-serif">-10</text>
<text x="40.4" y="159" font-size="17.5" font-weight="bold" letter-spacing="-0.9" text-anchor="end" font-family="Liberation Sans, sans-serif">-20</text>
<text x="311.3" y="40.5" font-size="15.5" font-weight="bold" letter-spacing="-1" font-family="Liberation Sans, sans-serif">1.0</text>
<text x="311.3" y="70.2" font-size="15.5" font-weight="bold" letter-spacing="-1" font-family="Liberation Sans, sans-serif">0.5</text>
<text x="311.3" y="100" font-size="15.5" font-weight="bold" letter-spacing="-1" font-family="Liberation Sans, sans-serif">0</text>
<text x="311.3" y="129.8" font-size="15.5" font-weight="bold" letter-spacing="-1" font-family="Liberation Sans, sans-serif">-0.5</text>
<text x="311.3" y="159.5" font-size="15.5" font-weight="bold" letter-spacing="-1" font-family="Liberation Sans, sans-serif">-1.0</text>
<path d="M45,37.3h-2.5M45,66h-2.5M45,94.6h-2.5M45,123.2h-2.5M45,151.8h-2.5M307,35.1h2.5M307,64.8h2.5M307,94.6h2.5M307,124.3h2.5M307,154.1h2.5M45,167v3M88.7,167v3M132.3,167v3M176,167v3M219.7,167v3M263.4,167v3M307,167v3" stroke="#999" stroke-width="0.8" fill="none"/>
<defs><clipPath id="clipb"><rect x="394" y="23" width="262" height="144"/></clipPath></defs>
<g clip-path="url(#clipb)">
<g filter="url(#jetmap)">
<rect x="394" y="23" width="262" height="144" fill="#000"/>
<linearGradient id="ghb" gradientUnits="userSpaceOnUse" x1="394" x2="656" y1="0" y2="0"><stop offset="0.000" stop-color="#fff" stop-opacity="0.005"/><stop offset="0.019" stop-color="#fff" stop-opacity="0.006"/><stop offset="0.038" stop-color="#fff" stop-opacity="0.008"/><stop offset="0.058" stop-color="#fff" stop-opacity="0.009"/><stop offset="0.077" stop-color="#fff" stop-opacity="0.011"/><stop offset="0.096" stop-color="#fff" stop-opacity="0.014"/><stop offset="0.115" stop-color="#fff" stop-opacity="0.017"/><stop offset="0.135" stop-color="#fff" stop-opacity="0.020"/><stop offset="0.154" stop-color="#fff" stop-opacity="0.025"/><stop offset="0.173" stop-color="#fff" stop-opacity="0.030"/><stop offset="0.192" stop-color="#fff" stop-opacity="0.037"/><stop offset="0.212" stop-color="#fff" stop-opacity="0.044"/><stop offset="0.231" stop-color="#fff" stop-opacity="0.053"/><stop offset="0.250" stop-color="#fff" stop-opacity="0.064"/><stop offset="0.269" stop-color="#fff" stop-opacity="0.076"/><stop offset="0.288" stop-color="#fff" stop-opacity="0.091"/><stop offset="0.308" stop-color="#fff" stop-opacity="0.107"/><stop offset="0.327" stop-color="#fff" stop-opacity="0.124"/><stop offset="0.346" stop-color="#fff" stop-opacity="0.144"/><stop offset="0.365" stop-color="#fff" stop-opacity="0.164"/><stop offset="0.385" stop-color="#fff" stop-opacity="0.185"/><stop offset="0.404" stop-color="#fff" stop-opacity="0.206"/><stop offset="0.423" stop-color="#fff" stop-opacity="0.225"/><stop offset="0.442" stop-color="#fff" stop-opacity="0.241"/><stop offset="0.462" stop-color="#fff" stop-opacity="0.254"/><stop offset="0.481" stop-color="#fff" stop-opacity="0.262"/><stop offset="0.500" stop-color="#fff" stop-opacity="0.265"/><stop offset="0.519" stop-color="#fff" stop-opacity="0.262"/><stop offset="0.538" stop-color="#fff" stop-opacity="0.254"/><stop offset="0.558" stop-color="#fff" stop-opacity="0.241"/><stop offset="0.577" stop-color="#fff" stop-opacity="0.225"/><stop offset="0.596" stop-color="#fff" stop-opacity="0.206"/><stop offset="0.615" stop-color="#fff" stop-opacity="0.185"/><stop offset="0.635" stop-color="#fff" stop-opacity="0.164"/><stop offset="0.654" stop-color="#fff" stop-opacity="0.144"/><stop offset="0.673" stop-color="#fff" stop-opacity="0.124"/><stop offset="0.692" stop-color="#fff" stop-opacity="0.107"/><stop offset="0.712" stop-color="#fff" stop-opacity="0.091"/><stop offset="0.731" stop-color="#fff" stop-opacity="0.076"/><stop offset="0.750" stop-color="#fff" stop-opacity="0.064"/><stop offset="0.769" stop-color="#fff" stop-opacity="0.053"/><stop offset="0.788" stop-color="#fff" stop-opacity="0.044"/><stop offset="0.808" stop-color="#fff" stop-opacity="0.037"/><stop offset="0.827" stop-color="#fff" stop-opacity="0.030"/><stop offset="0.846" stop-color="#fff" stop-opacity="0.025"/><stop offset="0.865" stop-color="#fff" stop-opacity="0.020"/><stop offset="0.885" stop-color="#fff" stop-opacity="0.017"/><stop offset="0.904" stop-color="#fff" stop-opacity="0.014"/><stop offset="0.923" stop-color="#fff" stop-opacity="0.011"/><stop offset="0.942" stop-color="#fff" stop-opacity="0.009"/><stop offset="0.962" stop-color="#fff" stop-opacity="0.008"/><stop offset="0.981" stop-color="#fff" stop-opacity="0.006"/><stop offset="1.000" stop-color="#fff" stop-opacity="0.005"/></linearGradient>
<linearGradient id="gmbg" gradientUnits="userSpaceOnUse" x1="0" x2="0" y1="23" y2="167"><stop offset="0.000" stop-color="#383838"/><stop offset="0.028" stop-color="#414141"/><stop offset="0.056" stop-color="#4d4d4d"/><stop offset="0.083" stop-color="#595959"/><stop offset="0.111" stop-color="#666666"/><stop offset="0.139" stop-color="#747474"/><stop offset="0.167" stop-color="#828282"/><stop offset="0.194" stop-color="#919191"/><stop offset="0.222" stop-color="#a0a0a0"/><stop offset="0.250" stop-color="#afafaf"/><stop offset="0.278" stop-color="#bdbdbd"/><stop offset="0.306" stop-color="#cbcbcb"/><stop offset="0.333" stop-color="#d8d8d8"/><stop offset="0.361" stop-color="#e3e3e3"/><stop offset="0.389" stop-color="#ededed"/><stop offset="0.417" stop-color="#f5f5f5"/><stop offset="0.444" stop-color="#fbfbfb"/><stop offset="0.472" stop-color="#fefefe"/><stop offset="0.500" stop-color="#ffffff"/><stop offset="0.528" stop-color="#fefefe"/><stop offset="0.556" stop-color="#fafafa"/><stop offset="0.583" stop-color="#f4f4f4"/><stop offset="0.611" stop-color="#ebebeb"/><stop offset="0.639" stop-color="#e1e1e1"/><stop offset="0.667" stop-color="#d6d6d6"/><stop offset="0.694" stop-color="#c9c9c9"/><stop offset="0.722" stop-color="#bbbbbb"/><stop offset="0.750" stop-color="#acacac"/><stop offset="0.778" stop-color="#9d9d9d"/><stop offset="0.806" stop-color="#8e8e8e"/><stop offset="0.833" stop-color="#7f7f7f"/><stop offset="0.861" stop-color="#717171"/><stop offset="0.889" stop-color="#636363"/><stop offset="0.917" stop-color="#565656"/><stop offset="0.944" stop-color="#4a4a4a"/><stop offset="0.972" stop-color="#3f3f3f"/><stop offset="1.000" stop-color="#363636"/></linearGradient>
<mask id="gmb" maskUnits="userSpaceOnUse" x="394" y="23" width="262" height="144"><rect x="394" y="23" width="262" height="144" fill="url(#gmbg)"/></mask>
<g mask="url(#gmb)"><rect x="394" y="23" width="262" height="144" fill="url(#ghb)" filter="url(#nz)"/></g>
<linearGradient id="bdb" gradientUnits="userSpaceOnUse" x1="0" x2="0" y1="82.6" y2="106.6"><stop offset="0.000" stop-color="#fff" stop-opacity="0.000"/><stop offset="0.010" stop-color="#fff" stop-opacity="0.000"/><stop offset="0.021" stop-color="#fff" stop-opacity="0.000"/><stop offset="0.031" stop-color="#fff" stop-opacity="0.005"/><stop offset="0.042" stop-color="#fff" stop-opacity="0.014"/><stop offset="0.052" stop-color="#fff" stop-opacity="0.023"/><stop offset="0.062" stop-color="#fff" stop-opacity="0.032"/><stop offset="0.073" stop-color="#fff" stop-opacity="0.041"/><stop offset="0.083" stop-color="#fff" stop-opacity="0.050"/><stop offset="0.094" stop-color="#fff" stop-opacity="0.062"/><stop offset="0.104" stop-color="#fff" stop-opacity="0.073"/><stop offset="0.115" stop-color="#fff" stop-opacity="0.085"/><stop offset="0.125" stop-color="#fff" stop-opacity="0.097"/><stop offset="0.135" stop-color="#fff" stop-opacity="0.108"/><stop offset="0.146" stop-color="#fff" stop-opacity="0.120"/><stop offset="0.156" stop-color="#fff" stop-opacity="0.133"/><stop offset="0.167" stop-color="#fff" stop-opacity="0.147"/><stop offset="0.177" stop-color="#fff" stop-opacity="0.160"/><stop offset="0.188" stop-color="#fff" stop-opacity="0.173"/><stop offset="0.198" stop-color="#fff" stop-opacity="0.187"/><stop offset="0.208" stop-color="#fff" stop-opacity="0.200"/><stop offset="0.219" stop-color="#fff" stop-opacity="0.220"/><stop offset="0.229" stop-color="#fff" stop-opacity="0.240"/><stop offset="0.240" stop-color="#fff" stop-opacity="0.260"/><stop offset="0.250" stop-color="#fff" stop-opacity="0.280"/><stop offset="0.260" stop-color="#fff" stop-opacity="0.330"/><stop offset="0.271" stop-color="#fff" stop-opacity="0.380"/><stop offset="0.281" stop-color="#fff" stop-opacity="0.444"/><stop offset="0.292" stop-color="#fff" stop-opacity="0.564"/><stop offset="0.302" stop-color="#fff" stop-opacity="0.682"/><stop offset="0.312" stop-color="#fff" stop-opacity="0.792"/><stop offset="0.323" stop-color="#fff" stop-opacity="0.892"/><stop offset="0.333" stop-color="#fff" stop-opacity="0.952"/><stop offset="0.344" stop-color="#fff" stop-opacity="1.000"/><stop offset="0.354" stop-color="#fff" stop-opacity="1.000"/><stop offset="0.365" stop-color="#fff" stop-opacity="1.000"/><stop offset="0.375" stop-color="#fff" stop-opacity="1.000"/><stop offset="0.385" stop-color="#fff" stop-opacity="1.000"/><stop offset="0.396" stop-color="#fff" stop-opacity="1.000"/><stop offset="0.406" stop-color="#fff" stop-opacity="1.000"/><stop offset="0.417" stop-color="#fff" stop-opacity="1.000"/><stop offset="0.427" stop-color="#fff" stop-opacity="1.000"/><stop offset="0.438" stop-color="#fff" stop-opacity="1.000"/><stop offset="0.448" stop-color="#fff" stop-opacity="1.000"/><stop offset="0.458" stop-color="#fff" stop-opacity="1.000"/><stop offset="0.469" stop-color="#fff" stop-opacity="1.000"/><stop offset="0.479" stop-color="#fff" stop-opacity="1.000"/><stop offset="0.490" stop-color="#fff" stop-opacity="1.000"/><stop offset="0.500" stop-color="#fff" stop-opacity="1.000"/><stop offset="0.510" stop-color="#fff" stop-opacity="1.000"/><stop offset="0.521" stop-color="#fff" stop-opacity="1.000"/><stop offset="0.531" stop-color="#fff" stop-opacity="1.000"/><stop offset="0.542" stop-color="#fff" stop-opacity="1.000"/><stop offset="0.552" stop-color="#fff" stop-opacity="1.000"/><stop offset="0.562" stop-color="#fff" stop-opacity="1.000"/><stop offset="0.573" stop-color="#fff" stop-opacity="1.000"/><stop offset="0.583" stop-color="#fff" stop-opacity="1.000"/><stop offset="0.594" stop-color="#fff" stop-opacity="1.000"/><stop offset="0.604" stop-color="#fff" stop-opacity="1.000"/><stop offset="0.615" stop-color="#fff" stop-opacity="1.000"/><stop offset="0.625" stop-color="#fff" stop-opacity="1.000"/><stop offset="0.635" stop-color="#fff" stop-opacity="1.000"/><stop offset="0.646" stop-color="#fff" stop-opacity="1.000"/><stop offset="0.656" stop-color="#fff" stop-opacity="1.000"/><stop offset="0.667" stop-color="#fff" stop-opacity="1.000"/><stop offset="0.677" stop-color="#fff" stop-opacity="1.000"/><stop offset="0.688" stop-color="#fff" stop-opacity="1.000"/><stop offset="0.698" stop-color="#fff" stop-opacity="1.000"/><stop offset="0.708" stop-color="#fff" stop-opacity="1.000"/><stop offset="0.719" stop-color="#fff" stop-opacity="0.940"/><stop offset="0.729" stop-color="#fff" stop-opacity="0.880"/><stop offset="0.740" stop-color="#fff" stop-opacity="0.770"/><stop offset="0.750" stop-color="#fff" stop-opacity="0.660"/><stop offset="0.760" stop-color="#fff" stop-opacity="0.540"/><stop offset="0.771" stop-color="#fff" stop-opacity="0.420"/><stop offset="0.781" stop-color="#fff" stop-opacity="0.370"/><stop offset="0.792" stop-color="#fff" stop-opacity="0.320"/><stop offset="0.802" stop-color="#fff" stop-opacity="0.276"/><stop offset="0.812" stop-color="#fff" stop-opacity="0.256"/><stop offset="0.823" stop-color="#fff" stop-opacity="0.236"/><stop offset="0.833" stop-color="#fff" stop-opacity="0.216"/><stop offset="0.844" stop-color="#fff" stop-opacity="0.197"/><stop offset="0.854" stop-color="#fff" stop-opacity="0.184"/><stop offset="0.865" stop-color="#fff" stop-opacity="0.171"/><stop offset="0.875" stop-color="#fff" stop-opacity="0.157"/><stop offset="0.885" stop-color="#fff" stop-opacity="0.144"/><stop offset="0.896" stop-color="#fff" stop-opacity="0.131"/><stop offset="0.906" stop-color="#fff" stop-opacity="0.118"/><stop offset="0.917" stop-color="#fff" stop-opacity="0.106"/><stop offset="0.927" stop-color="#fff" stop-opacity="0.094"/><stop offset="0.938" stop-color="#fff" stop-opacity="0.083"/><stop offset="0.948" stop-color="#fff" stop-opacity="0.071"/><stop offset="0.958" stop-color="#fff" stop-opacity="0.059"/><stop offset="0.969" stop-color="#fff" stop-opacity="0.048"/><stop offset="0.979" stop-color="#fff" stop-opacity="0.039"/><stop offset="0.990" stop-color="#fff" stop-opacity="0.030"/><stop offset="1.000" stop-color="#fff" stop-opacity="0.021"/></linearGradient>
<rect x="394" y="82.6" width="262" height="24" fill="url(#bdb)"/>
</g>
</g>
<path d="M394,151.3L395,151.3L396,151.3L397,151.3L398,151.3L399,151.2L400,151.2L401,151.2L402,151.2L403,151.2L404,151.2L405,151.1L406,151.1L407,151.1L408,151.1L409,151L410,151L411,151L412,151L413,150.9L414,150.9L415,150.9L416,150.8L417,150.8L418,150.8L419,150.7L420,150.7L421,150.6L422,150.6L423,150.5L424,150.5L425,150.4L426,150.4L427,150.3L428,150.3L429,150.2L430,150.1L431,150.1L432,150L433,149.9L434,149.9L435,149.8L436,149.7L437,149.6L438,149.5L439,149.4L440,149.3L441,149.2L442,149.1L443,149L444,148.9L445,148.8L446,148.6L447,148.5L448,148.3L449,148.2L450,148L451,147.9L452,147.7L453,147.5L454,147.4L455,147.2L456,147L457,146.8L458,146.5L459,146.3L460,146.1L461,145.8L462,145.6L463,145.3L464,145L465,144.7L466,144.4L467,144.1L468,143.8L469,143.5L470,143.1L471,142.7L472,142.4L473,142L474,141.5L475,141.1L476,140.7L477,140.2L478,139.7L479,139.2L480,138.7L481,138.2L482,137.6L483,137.1L484,136.5L485,135.9L486,135.2L487,134.6L488,133.9L489,133.2L490,132.5L491,131.8L492,131L493,130.2L494,129.4L495,128.6L496,127.7L497,126.8L498,125.9L499,125L500,124.1L501,123.1L502,122.1L503,121.1L504,120.1L505,119L506,117.9L507,116.8L508,115.7L509,114.6L510,113.4L511,112.3L512,111.1L513,109.9L514,108.7L515,107.4L516,106.2L517,104.9L518,103.7L519,102.4L520,101.1L521,99.8L522,98.5L523,97.2L524,95.9L525,94.6L526,93.3L527,92L528,90.7L529,89.4L530,88.1L531,86.8L532,85.5L533,84.3L534,83L535,81.8L536,80.5L537,79.3L538,78.1L539,76.9L540,75.8L541,74.6L542,73.5L543,72.4L544,71.3L545,70.2L546,69.1L547,68.1L548,67.1L549,66.1L550,65.1L551,64.2L552,63.3L553,62.4L554,61.5L555,60.6L556,59.8L557,59L558,58.2L559,57.4L560,56.7L561,56L562,55.3L563,54.6L564,54L565,53.3L566,52.7L567,52.1L568,51.6L569,51L570,50.5L571,50L572,49.5L573,49L574,48.5L575,48.1L576,47.7L577,47.2L578,46.8L579,46.5L580,46.1L581,45.7L582,45.4L583,45.1L584,44.8L585,44.5L586,44.2L587,43.9L588,43.6L589,43.4L590,43.1L591,42.9L592,42.7L593,42.4L594,42.2L595,42L596,41.8L597,41.7L598,41.5L599,41.3L600,41.2L601,41L602,40.9L603,40.7L604,40.6L605,40.4L606,40.3L607,40.2L608,40.1L609,40L610,39.9L611,39.8L612,39.7L613,39.6L614,39.5L615,39.4L616,39.3L617,39.3L618,39.2L619,39.1L620,39.1L621,39L622,38.9L623,38.9L624,38.8L625,38.8L626,38.7L627,38.7L628,38.6L629,38.6L630,38.5L631,38.5L632,38.4L633,38.4L634,38.4L635,38.3L636,38.3L637,38.3L638,38.2L639,38.2L640,38.2L641,38.2L642,38.1L643,38.1L644,38.1L645,38.1L646,38L647,38L648,38L649,38L650,38L651,38L652,37.9L653,37.9L654,37.9L655,37.9L656,37.9" fill="none" stroke="#f4f4ff" stroke-width="1.5"/>
<path d="M394,94.5L395,97.8L396,96.8L397,96.8L398,99.5L399,90.8L400,92.5L401,90.4L402,94.1L403,97.5L404,94.4L405,95.9L406,88.5L407,94.8L408,91.5L409,99.8L410,97L411,97.2L412,94L413,96.1L414,96.2L415,93L416,92.5L417,93.7L418,92.1L419,92.1L420,93L421,91.5L422,96.1L423,88.7L424,96.1L425,91.5L426,91.7L427,89.1L428,92.7L429,92.3L430,93.5L431,91.1L432,93L433,98.2L434,93.7L435,90.4L436,95L437,91.4L438,93.5L439,93.4L440,90L441,84.9L442,89.6L443,92.2L444,89L445,91.3L446,92.7L447,87.6L448,92.8L449,93.7L450,91.7L451,91.5L452,90.9L453,94.2L454,87.1L455,86.1L456,87.5L457,82.2L458,79.6L459,81.2L460,84.7L461,84.4L462,77.3L463,75.5L464,80L465,79.7L466,79.5L467,81.2L468,82.3L469,78.2L470,78.7L471,72.2L472,71.1L473,75L474,75.6L475,75L476,73.7L477,73.4L478,72.6L479,62.9L480,65.4L481,68.6L482,68.1L483,59.8L484,68.2L485,61.5L486,61.2L487,62L488,62.7L489,53.9L490,61.6L491,57.3L492,53.2L493,54L494,46L495,50.6L496,52.6L497,48.4L498,48.8L499,48.6L500,48.3L501,51.1L502,46.3L503,44.5L504,46.7L505,51.7L506,41.7L507,44.2L508,35.5L509,46L510,42.7L511,44.7L512,38.7L513,34.4L514,41.3L515,40.3L516,33.6L517,30.9L518,38L519,35.3L520,45.9L521,33.1L522,33.3L523,34.8L524,28.6L525,31.6L526,41.5L527,34.7L528,32.9L529,30.5L530,37.9L531,38.5L532,37.2L533,35.1L534,38.2L535,38.9L536,35.3L537,40.8L538,30.8L539,34.6L540,39L541,40.4L542,37.1L543,43.5L544,47L545,45.5L546,45.5L547,48.6L548,47.9L549,43L550,47.4L551,53.9L552,45.8L553,51.2L554,50.6L555,49.7L556,50.3L557,55.3L558,57.1L559,58.1L560,52.8L561,58L562,61.3L563,64.4L564,64.4L565,66L566,67.9L567,67.9L568,63.2L569,67.2L570,65.5L571,60.7L572,64.1L573,77.9L574,67.8L575,64.9L576,71.4L577,79.4L578,74.9L579,77.3L580,75.8L581,77.2L582,82.4L583,81.6L584,79.4L585,83.3L586,84.5L587,80.9L588,83.2L589,83.7L590,81.3L591,87.8L592,84L593,83.1L594,80.2L595,82L596,91.4L597,83.3L598,88.8L599,86.7L600,89.8L601,90.5L602,86.5L603,88.4L604,89.9L605,90.3L606,90.1L607,89.5L608,92.7L609,95.1L610,92.9L611,89.1L612,92.9L613,92L614,93.5L615,98L616,91.7L617,92.5L618,89.9L619,91.9L620,91.2L621,98.1L622,94.1L623,91.5L624,99.4L625,89.3L626,96.2L627,96.8L628,95.5L629,93L630,93.4L631,92.8L632,96.4L633,86.8L634,92.5L635,94.6L636,92.3L637,88.5L638,93.5L639,91.9L640,96.8L641,98.7L642,94.6L643,88.4L644,93.8L645,91.5L646,96.5L647,99.7L648,95.4L649,100.8L650,99.2L651,96.7L652,91.8L653,95.2L654,90.4L655,98.1L656,95.3" fill="none" stroke="#f4bccd" stroke-width="1.35" stroke-linejoin="round"/>
<rect x="541.4" y="151.8" width="72" height="11.7" fill="#8a5fc0" opacity="0.47"/>
<path d="M545,141.5 h96 l5,3 l-5,3 h-96 z" fill="url(#jet)" stroke="#e8e8f0" stroke-width="0.7"/>
<line x1="545" x2="545" y1="147.5" y2="149.5" stroke="#ddd" stroke-width="0.7"/>
<text x="545.4" y="162.6" font-size="13.5" fill="#fff" text-anchor="middle" font-family="Liberation Sans, sans-serif">0</text>
<line x1="605" x2="605" y1="147.5" y2="149.5" stroke="#ddd" stroke-width="0.7"/>
<text x="605.4" y="162.6" font-size="13.5" fill="#fff" text-anchor="middle" font-family="Liberation Sans, sans-serif">500</text>
<text x="398.8" y="46" font-size="25" font-weight="bold" fill="#fff" stroke="#fff" stroke-width="0.7" font-family="Liberation Sans, sans-serif">b</text>
<text x="598.2" y="44.2" fill="#fff" font-family="Liberation Serif, serif" font-style="italic" font-size="21">B<tspan font-size="15" dy="5">x</tspan><tspan dy="-5" dx="1.5">/</tspan><tspan dx="1">B</tspan><tspan font-size="15" dy="5">x0</tspan></text>
<text x="574" y="121.5" fill="#efb0e4" font-family="Liberation Serif, serif" font-size="21"><tspan font-style="italic">n</tspan><tspan font-size="15" dy="5">i</tspan><tspan dy="-5" dx="1.5" font-style="italic">/</tspan><tspan dx="0.5" font-style="italic">n</tspan><tspan font-size="15" dy="5">0</tspan><tspan dy="-5" dx="1.5"> − 1</tspan></text>
<text x="389.4" y="44.5" font-size="17.5" font-weight="bold" letter-spacing="-0.9" text-anchor="end" font-family="Liberation Sans, sans-serif">20</text>
<text x="389.4" y="73.2" font-size="17.5" font-weight="bold" letter-spacing="-0.9" text-anchor="end" font-family="Liberation Sans, sans-serif">10</text>
<text x="389.4" y="101.8" font-size="17.5" font-weight="bold" letter-spacing="-0.9" text-anchor="end" font-family="Liberation Sans, sans-serif">0</text>
<text x="389.4" y="130.4" font-size="17.5" font-weight="bold" letter-spacing="-0.9" text-anchor="end" font-family="Liberation Sans, sans-serif">-10</text>
<text x="389.4" y="159" font-size="17.5" font-weight="bold" letter-spacing="-0.9" text-anchor="end" font-family="Liberation Sans, sans-serif">-20</text>
<text x="660.3" y="40.5" font-size="15.5" font-weight="bold" letter-spacing="-1" font-family="Liberation Sans, sans-serif">1.0</text>
<text x="660.3" y="70.2" font-size="15.5" font-weight="bold" letter-spacing="-1" font-family="Liberation Sans, sans-serif">0.5</text>
<text x="660.3" y="100" font-size="15.5" font-weight="bold" letter-spacing="-1" font-family="Liberation Sans, sans-serif">0</text>
<text x="660.3" y="129.8" font-size="15.5" font-weight="bold" letter-spacing="-1" font-family="Liberation Sans, sans-serif">-0.5</text>
<text x="660.3" y="159.5" font-size="15.5" font-weight="bold" letter-spacing="-1" font-family="Liberation Sans, sans-serif">-1.0</text>
<path d="M394,37.3h-2.5M394,66h-2.5M394,94.6h-2.5M394,123.2h-2.5M394,151.8h-2.5M656,35.1h2.5M656,64.8h2.5M656,94.6h2.5M656,124.3h2.5M656,154.1h2.5M394,167v3M437.7,167v3M481.3,167v3M525,167v3M568.7,167v3M612.4,167v3M656,167v3" stroke="#999" stroke-width="0.8" fill="none"/>
<defs><clipPath id="clipc"><rect x="45" y="198" width="262" height="143.5"/></clipPath></defs>
<g clip-path="url(#clipc)">
<g filter="url(#jetmap)">
<rect x="45" y="198" width="262" height="143.5" fill="#000"/>
<radialGradient id="wdc"><stop offset="0" stop-color="#fff" stop-opacity="0.26"/><stop offset="0.5" stop-color="#fff" stop-opacity="0.15"/><stop offset="1" stop-color="#fff" stop-opacity="0"/></radialGradient>
<ellipse cx="176" cy="269.6" rx="27" ry="20" fill="url(#wdc)"/>
<linearGradient id="bdc" gradientUnits="userSpaceOnUse" x1="0" x2="0" y1="248.8" y2="288.8"><stop offset="0.000" stop-color="#fff" stop-opacity="0.000"/><stop offset="0.013" stop-color="#fff" stop-opacity="0.000"/><stop offset="0.025" stop-color="#fff" stop-opacity="0.000"/><stop offset="0.038" stop-color="#fff" stop-opacity="0.000"/><stop offset="0.050" stop-color="#fff" stop-opacity="0.000"/><stop offset="0.062" stop-color="#fff" stop-opacity="0.000"/><stop offset="0.075" stop-color="#fff" stop-opacity="0.000"/><stop offset="0.088" stop-color="#fff" stop-opacity="0.000"/><stop offset="0.100" stop-color="#fff" stop-opacity="0.000"/><stop offset="0.113" stop-color="#fff" stop-opacity="0.000"/><stop offset="0.125" stop-color="#fff" stop-opacity="0.023"/><stop offset="0.138" stop-color="#fff" stop-opacity="0.047"/><stop offset="0.150" stop-color="#fff" stop-opacity="0.070"/><stop offset="0.163" stop-color="#fff" stop-opacity="0.100"/><stop offset="0.175" stop-color="#fff" stop-opacity="0.130"/><stop offset="0.188" stop-color="#fff" stop-opacity="0.160"/><stop offset="0.200" stop-color="#fff" stop-opacity="0.197"/><stop offset="0.213" stop-color="#fff" stop-opacity="0.233"/><stop offset="0.225" stop-color="#fff" stop-opacity="0.270"/><stop offset="0.238" stop-color="#fff" stop-opacity="0.303"/><stop offset="0.250" stop-color="#fff" stop-opacity="0.337"/><stop offset="0.263" stop-color="#fff" stop-opacity="0.370"/><stop offset="0.275" stop-color="#fff" stop-opacity="0.396"/><stop offset="0.288" stop-color="#fff" stop-opacity="0.422"/><stop offset="0.300" stop-color="#fff" stop-opacity="0.448"/><stop offset="0.312" stop-color="#fff" stop-opacity="0.474"/><stop offset="0.325" stop-color="#fff" stop-opacity="0.500"/><stop offset="0.338" stop-color="#fff" stop-opacity="0.527"/><stop offset="0.350" stop-color="#fff" stop-opacity="0.553"/><stop offset="0.363" stop-color="#fff" stop-opacity="0.580"/><stop offset="0.375" stop-color="#fff" stop-opacity="0.590"/><stop offset="0.388" stop-color="#fff" stop-opacity="0.600"/><stop offset="0.400" stop-color="#fff" stop-opacity="0.610"/><stop offset="0.413" stop-color="#fff" stop-opacity="0.620"/><stop offset="0.425" stop-color="#fff" stop-opacity="0.630"/><stop offset="0.438" stop-color="#fff" stop-opacity="0.632"/><stop offset="0.450" stop-color="#fff" stop-opacity="0.633"/><stop offset="0.463" stop-color="#fff" stop-opacity="0.635"/><stop offset="0.475" stop-color="#fff" stop-opacity="0.637"/><stop offset="0.488" stop-color="#fff" stop-opacity="0.638"/><stop offset="0.500" stop-color="#fff" stop-opacity="0.640"/><stop offset="0.513" stop-color="#fff" stop-opacity="0.638"/><stop offset="0.525" stop-color="#fff" stop-opacity="0.637"/><stop offset="0.537" stop-color="#fff" stop-opacity="0.635"/><stop offset="0.550" stop-color="#fff" stop-opacity="0.633"/><stop offset="0.562" stop-color="#fff" stop-opacity="0.632"/><stop offset="0.575" stop-color="#fff" stop-opacity="0.630"/><stop offset="0.588" stop-color="#fff" stop-opacity="0.620"/><stop offset="0.600" stop-color="#fff" stop-opacity="0.610"/><stop offset="0.613" stop-color="#fff" stop-opacity="0.600"/><stop offset="0.625" stop-color="#fff" stop-opacity="0.590"/><stop offset="0.638" stop-color="#fff" stop-opacity="0.580"/><stop offset="0.650" stop-color="#fff" stop-opacity="0.553"/><stop offset="0.663" stop-color="#fff" stop-opacity="0.527"/><stop offset="0.675" stop-color="#fff" stop-opacity="0.500"/><stop offset="0.688" stop-color="#fff" stop-opacity="0.474"/><stop offset="0.700" stop-color="#fff" stop-opacity="0.448"/><stop offset="0.713" stop-color="#fff" stop-opacity="0.422"/><stop offset="0.725" stop-color="#fff" stop-opacity="0.396"/><stop offset="0.738" stop-color="#fff" stop-opacity="0.370"/><stop offset="0.750" stop-color="#fff" stop-opacity="0.337"/><stop offset="0.763" stop-color="#fff" stop-opacity="0.303"/><stop offset="0.775" stop-color="#fff" stop-opacity="0.270"/><stop offset="0.788" stop-color="#fff" stop-opacity="0.233"/><stop offset="0.800" stop-color="#fff" stop-opacity="0.197"/><stop offset="0.812" stop-color="#fff" stop-opacity="0.160"/><stop offset="0.825" stop-color="#fff" stop-opacity="0.130"/><stop offset="0.838" stop-color="#fff" stop-opacity="0.100"/><stop offset="0.850" stop-color="#fff" stop-opacity="0.070"/><stop offset="0.863" stop-color="#fff" stop-opacity="0.047"/><stop offset="0.875" stop-color="#fff" stop-opacity="0.023"/><stop offset="0.888" stop-color="#fff" stop-opacity="0.000"/><stop offset="0.900" stop-color="#fff" stop-opacity="0.000"/><stop offset="0.913" stop-color="#fff" stop-opacity="0.000"/><stop offset="0.925" stop-color="#fff" stop-opacity="0.000"/><stop offset="0.938" stop-color="#fff" stop-opacity="0.000"/><stop offset="0.950" stop-color="#fff" stop-opacity="0.000"/><stop offset="0.963" stop-color="#fff" stop-opacity="0.000"/><stop offset="0.975" stop-color="#fff" stop-opacity="0.000"/><stop offset="0.988" stop-color="#fff" stop-opacity="0.000"/><stop offset="1.000" stop-color="#fff" stop-opacity="0.000"/></linearGradient>
<linearGradient id="bnc" gradientUnits="userSpaceOnUse" x1="0" x2="0" y1="248.8" y2="288.8"><stop offset="0.000" stop-color="#fff" stop-opacity="0.000"/><stop offset="0.013" stop-color="#fff" stop-opacity="0.000"/><stop offset="0.025" stop-color="#fff" stop-opacity="0.000"/><stop offset="0.038" stop-color="#fff" stop-opacity="0.000"/><stop offset="0.050" stop-color="#fff" stop-opacity="0.000"/><stop offset="0.062" stop-color="#fff" stop-opacity="0.000"/><stop offset="0.075" stop-color="#fff" stop-opacity="0.000"/><stop offset="0.088" stop-color="#fff" stop-opacity="0.000"/><stop offset="0.100" stop-color="#fff" stop-opacity="0.000"/><stop offset="0.113" stop-color="#fff" stop-opacity="0.000"/><stop offset="0.125" stop-color="#fff" stop-opacity="0.000"/><stop offset="0.138" stop-color="#fff" stop-opacity="0.000"/><stop offset="0.150" stop-color="#fff" stop-opacity="0.000"/><stop offset="0.163" stop-color="#fff" stop-opacity="0.013"/><stop offset="0.175" stop-color="#fff" stop-opacity="0.027"/><stop offset="0.188" stop-color="#fff" stop-opacity="0.040"/><stop offset="0.200" stop-color="#fff" stop-opacity="0.067"/><stop offset="0.213" stop-color="#fff" stop-opacity="0.093"/><stop offset="0.225" stop-color="#fff" stop-opacity="0.120"/><stop offset="0.238" stop-color="#fff" stop-opacity="0.160"/><stop offset="0.250" stop-color="#fff" stop-opacity="0.200"/><stop offset="0.263" stop-color="#fff" stop-opacity="0.227"/><stop offset="0.275" stop-color="#fff" stop-opacity="0.253"/><stop offset="0.288" stop-color="#fff" stop-opacity="0.280"/><stop offset="0.300" stop-color="#fff" stop-opacity="0.310"/><stop offset="0.312" stop-color="#fff" stop-opacity="0.340"/><stop offset="0.325" stop-color="#fff" stop-opacity="0.370"/><stop offset="0.338" stop-color="#fff" stop-opacity="0.397"/><stop offset="0.350" stop-color="#fff" stop-opacity="0.425"/><stop offset="0.363" stop-color="#fff" stop-opacity="0.453"/><stop offset="0.375" stop-color="#fff" stop-opacity="0.480"/><stop offset="0.388" stop-color="#fff" stop-opacity="0.513"/><stop offset="0.400" stop-color="#fff" stop-opacity="0.547"/><stop offset="0.413" stop-color="#fff" stop-opacity="0.580"/><stop offset="0.425" stop-color="#fff" stop-opacity="0.593"/><stop offset="0.438" stop-color="#fff" stop-opacity="0.607"/><stop offset="0.450" stop-color="#fff" stop-opacity="0.620"/><stop offset="0.463" stop-color="#fff" stop-opacity="0.625"/><stop offset="0.475" stop-color="#fff" stop-opacity="0.630"/><stop offset="0.488" stop-color="#fff" stop-opacity="0.635"/><stop offset="0.500" stop-color="#fff" stop-opacity="0.640"/><stop offset="0.513" stop-color="#fff" stop-opacity="0.635"/><stop offset="0.525" stop-color="#fff" stop-opacity="0.630"/><stop offset="0.537" stop-color="#fff" stop-opacity="0.625"/><stop offset="0.550" stop-color="#fff" stop-opacity="0.620"/><stop offset="0.562" stop-color="#fff" stop-opacity="0.607"/><stop offset="0.575" stop-color="#fff" stop-opacity="0.593"/><stop offset="0.588" stop-color="#fff" stop-opacity="0.580"/><stop offset="0.600" stop-color="#fff" stop-opacity="0.547"/><stop offset="0.613" stop-color="#fff" stop-opacity="0.513"/><stop offset="0.625" stop-color="#fff" stop-opacity="0.480"/><stop offset="0.638" stop-color="#fff" stop-opacity="0.453"/><stop offset="0.650" stop-color="#fff" stop-opacity="0.425"/><stop offset="0.663" stop-color="#fff" stop-opacity="0.397"/><stop offset="0.675" stop-color="#fff" stop-opacity="0.370"/><stop offset="0.688" stop-color="#fff" stop-opacity="0.340"/><stop offset="0.700" stop-color="#fff" stop-opacity="0.310"/><stop offset="0.713" stop-color="#fff" stop-opacity="0.280"/><stop offset="0.725" stop-color="#fff" stop-opacity="0.253"/><stop offset="0.738" stop-color="#fff" stop-opacity="0.227"/><stop offset="0.750" stop-color="#fff" stop-opacity="0.200"/><stop offset="0.763" stop-color="#fff" stop-opacity="0.160"/><stop offset="0.775" stop-color="#fff" stop-opacity="0.120"/><stop offset="0.788" stop-color="#fff" stop-opacity="0.093"/><stop offset="0.800" stop-color="#fff" stop-opacity="0.067"/><stop offset="0.812" stop-color="#fff" stop-opacity="0.040"/><stop offset="0.825" stop-color="#fff" stop-opacity="0.027"/><stop offset="0.838" stop-color="#fff" stop-opacity="0.013"/><stop offset="0.850" stop-color="#fff" stop-opacity="0.000"/><stop offset="0.863" stop-color="#fff" stop-opacity="0.000"/><stop offset="0.875" stop-color="#fff" stop-opacity="0.000"/><stop offset="0.888" stop-color="#fff" stop-opacity="0.000"/><stop offset="0.900" stop-color="#fff" stop-opacity="0.000"/><stop offset="0.913" stop-color="#fff" stop-opacity="0.000"/><stop offset="0.925" stop-color="#fff" stop-opacity="0.000"/><stop offset="0.938" stop-color="#fff" stop-opacity="0.000"/><stop offset="0.950" stop-color="#fff" stop-opacity="0.000"/><stop offset="0.963" stop-color="#fff" stop-opacity="0.000"/><stop offset="0.975" stop-color="#fff" stop-opacity="0.000"/><stop offset="0.988" stop-color="#fff" stop-opacity="0.000"/><stop offset="1.000" stop-color="#fff" stop-opacity="0.000"/></linearGradient>
<linearGradient id="emcg" gradientUnits="userSpaceOnUse" x1="45" x2="307" y1="0" y2="0"><stop offset="0.000" stop-color="#ffffff"/><stop offset="0.025" stop-color="#ffffff"/><stop offset="0.050" stop-color="#ffffff"/><stop offset="0.075" stop-color="#ffffff"/><stop offset="0.100" stop-color="#ebebeb"/><stop offset="0.125" stop-color="#cecece"/><stop offset="0.150" stop-color="#b1b1b1"/><stop offset="0.175" stop-color="#939393"/><stop offset="0.200" stop-color="#767676"/><stop offset="0.225" stop-color="#585858"/><stop offset="0.250" stop-color="#3b3b3b"/><stop offset="0.275" stop-color="#1d1d1d"/><stop offset="0.300" stop-color="#000000"/><stop offset="0.325" stop-color="#000000"/><stop offset="0.350" stop-color="#000000"/><stop offset="0.375" stop-color="#000000"/><stop offset="0.400" stop-color="#000000"/><stop offset="0.425" stop-color="#000000"/><stop offset="0.450" stop-color="#000000"/><stop offset="0.475" stop-color="#000000"/><stop offset="0.500" stop-color="#000000"/><stop offset="0.525" stop-color="#000000"/><stop offset="0.550" stop-color="#000000"/><stop offset="0.575" stop-color="#000000"/><stop offset="0.600" stop-color="#000000"/><stop offset="0.625" stop-color="#000000"/><stop offset="0.650" stop-color="#000000"/><stop offset="0.675" stop-color="#000000"/><stop offset="0.700" stop-color="#000000"/><stop offset="0.725" stop-color="#1d1d1d"/><stop offset="0.750" stop-color="#3b3b3b"/><stop offset="0.775" stop-color="#585858"/><stop offset="0.800" stop-color="#767676"/><stop offset="0.825" stop-color="#939393"/><stop offset="0.850" stop-color="#b1b1b1"/><stop offset="0.875" stop-color="#cecece"/><stop offset="0.900" stop-color="#ebebeb"/><stop offset="0.925" stop-color="#ffffff"/><stop offset="0.950" stop-color="#ffffff"/><stop offset="0.975" stop-color="#ffffff"/><stop offset="1.000" stop-color="#ffffff"/></linearGradient>
<mask id="emc" maskUnits="userSpaceOnUse" x="45" y="198" width="262" height="143.5"><rect x="45" y="198" width="262" height="143.5" fill="url(#emcg)"/></mask>
<linearGradient id="imcg" gradientUnits="userSpaceOnUse" x1="45" x2="307" y1="0" y2="0"><stop offset="0.000" stop-color="#000000"/><stop offset="0.025" stop-color="#000000"/><stop offset="0.050" stop-color="#000000"/><stop offset="0.075" stop-color="#000000"/><stop offset="0.100" stop-color="#141414"/><stop offset="0.125" stop-color="#313131"/><stop offset="0.150" stop-color="#4e4e4e"/><stop offset="0.175" stop-color="#6c6c6c"/><stop offset="0.200" stop-color="#898989"/><stop offset="0.225" stop-color="#a7a7a7"/><stop offset="0.250" stop-color="#c4c4c4"/><stop offset="0.275" stop-color="#e2e2e2"/><stop offset="0.300" stop-color="#ffffff"/><stop offset="0.325" stop-color="#ffffff"/><stop offset="0.350" stop-color="#ffffff"/><stop offset="0.375" stop-color="#ffffff"/><stop offset="0.400" stop-color="#ffffff"/><stop offset="0.425" stop-color="#ffffff"/><stop offset="0.450" stop-color="#ffffff"/><stop offset="0.475" stop-color="#ffffff"/><stop offset="0.500" stop-color="#ffffff"/><stop offset="0.525" stop-color="#ffffff"/><stop offset="0.550" stop-color="#ffffff"/><stop offset="0.575" stop-color="#ffffff"/><stop offset="0.600" stop-color="#ffffff"/><stop offset="0.625" stop-color="#ffffff"/><stop offset="0.650" stop-color="#ffffff"/><stop offset="0.675" stop-color="#ffffff"/><stop offset="0.700" stop-color="#ffffff"/><stop offset="0.725" stop-color="#e2e2e2"/><stop offset="0.750" stop-color="#c4c4c4"/><stop offset="0.775" stop-color="#a7a7a7"/><stop offset="0.800" stop-color="#898989"/><stop offset="0.825" stop-color="#6c6c6c"/><stop offset="0.850" stop-color="#4e4e4e"/><stop offset="0.875" stop-color="#313131"/><stop offset="0.900" stop-color="#141414"/><stop offset="0.925" stop-color="#000000"/><stop offset="0.950" stop-color="#000000"/><stop offset="0.975" stop-color="#000000"/><stop offset="1.000" stop-color="#000000"/></linearGradient>
<mask id="imc" maskUnits="userSpaceOnUse" x="45" y="198" width="262" height="143.5"><rect x="45" y="198" width="262" height="143.5" fill="url(#imcg)"/></mask>
<g filter="url(#nz2)"><rect x="45" y="248.8" width="262" height="40" fill="url(#bdc)" mask="url(#imc)"/><rect x="45" y="248.8" width="262" height="40" fill="url(#bnc)" mask="url(#emc)"/></g>
<linearGradient id="crc" gradientUnits="userSpaceOnUse" x1="0" x2="0" y1="260.8" y2="276.8"><stop offset="0.000" stop-color="#fff" stop-opacity="0.000"/><stop offset="0.031" stop-color="#fff" stop-opacity="0.001"/><stop offset="0.062" stop-color="#fff" stop-opacity="0.002"/><stop offset="0.094" stop-color="#fff" stop-opacity="0.004"/><stop offset="0.125" stop-color="#fff" stop-opacity="0.007"/><stop offset="0.156" stop-color="#fff" stop-opacity="0.014"/><stop offset="0.188" stop-color="#fff" stop-opacity="0.025"/><stop offset="0.219" stop-color="#fff" stop-opacity="0.042"/><stop offset="0.250" stop-color="#fff" stop-opacity="0.068"/><stop offset="0.281" stop-color="#fff" stop-opacity="0.103"/><stop offset="0.312" stop-color="#fff" stop-opacity="0.147"/><stop offset="0.344" stop-color="#fff" stop-opacity="0.200"/><stop offset="0.375" stop-color="#fff" stop-opacity="0.256"/><stop offset="0.406" stop-color="#fff" stop-opacity="0.312"/><stop offset="0.438" stop-color="#fff" stop-opacity="0.358"/><stop offset="0.469" stop-color="#fff" stop-opacity="0.389"/><stop offset="0.500" stop-color="#fff" stop-opacity="0.400"/><stop offset="0.531" stop-color="#fff" stop-opacity="0.389"/><stop offset="0.562" stop-color="#fff" stop-opacity="0.358"/><stop offset="0.594" stop-color="#fff" stop-opacity="0.312"/><stop offset="0.625" stop-color="#fff" stop-opacity="0.256"/><stop offset="0.656" stop-color="#fff" stop-opacity="0.200"/><stop offset="0.688" stop-color="#fff" stop-opacity="0.147"/><stop offset="0.719" stop-color="#fff" stop-opacity="0.103"/><stop offset="0.750" stop-color="#fff" stop-opacity="0.068"/><stop offset="0.781" stop-color="#fff" stop-opacity="0.042"/><stop offset="0.812" stop-color="#fff" stop-opacity="0.025"/><stop offset="0.844" stop-color="#fff" stop-opacity="0.014"/><stop offset="0.875" stop-color="#fff" stop-opacity="0.007"/><stop offset="0.906" stop-color="#fff" stop-opacity="0.004"/><stop offset="0.938" stop-color="#fff" stop-opacity="0.002"/><stop offset="0.969" stop-color="#fff" stop-opacity="0.001"/><stop offset="1.000" stop-color="#fff" stop-opacity="0.000"/></linearGradient>
<rect x="45" y="260.8" width="262" height="16" fill="url(#crc)" mask="url(#emc)"/>
<ellipse cx="176.3" cy="269.6" rx="3.5" ry="10" fill="#000" opacity="0.42" filter="url(#bl1)"/>
<radialGradient id="bbc"><stop offset="0" stop-color="#fff" stop-opacity="0.40"/><stop offset="0.2" stop-color="#fff" stop-opacity="0.30"/><stop offset="0.45" stop-color="#fff" stop-opacity="0.14"/><stop offset="0.75" stop-color="#fff" stop-opacity="0.07"/><stop offset="1" stop-color="#fff" stop-opacity="0"/></radialGradient>
<ellipse cx="165.6" cy="269.2" rx="8.5" ry="9" fill="url(#bbc)"/>
<ellipse cx="186.9" cy="270" rx="8.5" ry="9" fill="url(#bbc)"/>
</g>
</g>
<path d="M45,314.5L46,314.5L47,314.4L48,314.3L49,314.3L50,314.2L51,314.2L52,314.1L53,314L54,314L55,313.9L56,313.8L57,313.8L58,313.7L59,313.7L60,313.6L61,313.5L62,313.5L63,313.4L64,313.4L65,313.3L66,313.2L67,313.2L68,313.1L69,313.1L70,313L71,312.9L72,312.9L73,312.8L74,312.7L75,312.7L76,312.6L77,312.6L78,312.5L79,312.4L80,312.4L81,312.3L82,312.3L83,312.2L84,312.1L85,312.1L86,312L87,311.9L88,311.9L89,311.8L90,311.8L91,311.7L92,311.6L93,311.6L94,311.5L95,311.5L96,311.4L97,311.3L98,311.3L99,311.2L100,311.1L101,311.1L102,311L103,311L104,310.9L105,310.8L106,310.8L107,310.7L108,310.7L109,310.6L110,310.5L111,310.5L112,310.4L113,310.4L114,310.3L115,310.2L116,310.2L117,310.1L118,310L119,310L120,309.9L121,309.9L122,309.8L123,309.7L124,309.7L125,309.6L126,309.6L127,309.5L128,309.4L129,309.4L130,309.3L131,309.2L132,309.2L133,309.1L134,309L135,309L136,308.9L137,308.8L138,308.8L139,308.7L140,308.6L141,308.6L142,308.5L143,308.4L144,308.3L145,308.2L146,308.1L147,308L148,307.9L149,307.8L150,307.6L151,307.5L152,307.3L153,307.1L154,306.8L155,306.6L156,306.2L157,305.9L158,305.4L159,304.9L160,304.3L161,303.6L162,302.8L163,301.9L164,300.7L165,299.4L166,297.9L167,296.2L168,294.2L169,291.9L170,289.4L171,286.6L172,283.5L173,280.3L174,276.8L175,273.2L176,269.6L177,266L178,262.4L179,258.9L180,255.7L181,252.6L182,249.8L183,247.3L184,245L185,243L186,241.3L187,239.8L188,238.5L189,237.3L190,236.4L191,235.6L192,234.9L193,234.3L194,233.8L195,233.3L196,233L197,232.6L198,232.4L199,232.1L200,231.9L201,231.7L202,231.6L203,231.4L204,231.3L205,231.2L206,231.1L207,231L208,230.9L209,230.8L210,230.7L211,230.6L212,230.6L213,230.5L214,230.4L215,230.4L216,230.3L217,230.2L218,230.2L219,230.1L220,230L221,230L222,229.9L223,229.8L224,229.8L225,229.7L226,229.6L227,229.6L228,229.5L229,229.5L230,229.4L231,229.3L232,229.3L233,229.2L234,229.2L235,229.1L236,229L237,229L238,228.9L239,228.8L240,228.8L241,228.7L242,228.7L243,228.6L244,228.5L245,228.5L246,228.4L247,228.4L248,228.3L249,228.2L250,228.2L251,228.1L252,228.1L253,228L254,227.9L255,227.9L256,227.8L257,227.7L258,227.7L259,227.6L260,227.6L261,227.5L262,227.4L263,227.4L264,227.3L265,227.3L266,227.2L267,227.1L268,227.1L269,227L270,226.9L271,226.9L272,226.8L273,226.8L274,226.7L275,226.6L276,226.6L277,226.5L278,226.5L279,226.4L280,226.3L281,226.3L282,226.2L283,226.1L284,226.1L285,226L286,226L287,225.9L288,225.8L289,225.8L290,225.7L291,225.7L292,225.6L293,225.5L294,225.5L295,225.4L296,225.4L297,225.3L298,225.2L299,225.2L300,225.1L301,225L302,225L303,224.9L304,224.9L305,224.8L306,224.7L307,224.7" fill="none" stroke="#f4f4ff" stroke-width="1.5"/>
<path d="M45,284.4L45.9,276.6L46.7,283.2L47.6,281.8L48.4,283.9L49.3,282.4L50.1,284.8L51,282L51.8,281.1L52.7,283L53.5,282.8L54.4,281.6L55.2,281.8L56.1,283.4L56.9,283.4L57.8,281.6L58.6,281.8L59.5,279.6L60.3,285.2L61.2,282.2L62,284.8L62.9,283.4L63.7,285.8L64.6,285.3L65.4,283.4L66.3,285.3L67.1,281.5L68,285L68.8,280.8L69.7,283.7L70.5,284.9L71.4,283.6L72.2,282.8L73.1,282.1L73.9,282.9L74.8,285.2L75.6,285L76.5,283.2L77.3,281.8L78.2,284.8L79,281.6L79.9,283L80.7,282.8L81.6,285.1L82.4,284.4L83.3,284.8L84.1,284.6L85,283.2L85.8,285.1L86.7,286.5L87.5,284.3L88.4,285.4L89.2,284.3L90.1,286.1L90.9,285.6L91.8,286L92.6,285.2L93.5,287.3L94.3,284.3L95.2,284.3L96,284L96.9,285.9L97.7,284.1L98.6,284.1L99.4,286.2L100.3,286.9L101.1,286.1L102,281.2L102.8,283.9L103.7,283.7L104.5,283.6L105.4,284.9L106.2,288.3L107.1,285.1L107.9,284.5L108.8,286.7L109.6,285.8L110.5,286L111.3,284.8L112.2,285.9L113,286.6L113.9,283.1L114.7,283.6L115.6,287.7L116.4,287.4L117.3,285.4L118.1,284.7L119,286L119.8,284.5L120.7,285.9L121.5,288.9L122.4,286.7L123.2,288.3L124.1,286.2L124.9,287.1L125.8,288.6L126.6,284.5L127.5,286L128.3,286.3L129.2,286.9L130,288.8L130.9,287.5L131.7,284.2L132.6,286L133.4,285.1L134.3,285.1L135.1,289.5L136,284.8L136.8,286.8L137.7,285.3L138.5,287.7L139.4,286.9L140.2,286.6L141.1,286.2L141.9,288L142.8,284.9L143.6,285.2L144.5,284.6L145.3,288.3L146.2,285.9L147,284.7L147.9,285.6L148.7,290L149.6,285.5L150.4,286.3L151.3,284.9L152.1,283.4L153,281.6L153.8,281.4L154.7,280.6L155.5,276.8L156.4,284L157.2,278.8L158.1,275L158.9,271.9L159.8,268.3L160.6,269.2L161.5,264.5L162.3,263.4L163.2,257L164,258.3L164.9,259.4L165.7,251.8L166.6,256.7L167.4,259.4L168.3,266L169.1,270.3L170,272.8L170.8,276.2L171.7,282L172.5,283.5L173.4,284.3L174.2,287.8L175.1,289.6L175.9,289.5L176.8,289.8L177.6,293.2L178.5,288.9L179.3,284.5L180.2,284.5L181,275.7L181.9,268L182.7,265L183.6,261.6L184.4,261.3L185.3,259L186.1,248L187,254.8L187.8,251.4L188.7,256.6L189.5,259L190.4,260.8L191.2,261.8L192.1,264.1L192.9,263.4L193.8,268.1L194.6,271.3L195.5,273.1L196.3,278L197.2,277.1L198,278.2L198.9,280.9L199.7,279.7L200.6,278.3L201.4,278L202.3,284.8L203.1,284.8L204,286.4L204.8,285.7L205.7,286.8L206.5,289.1L207.4,286.8L208.2,284.6L209.1,285.7L209.9,288.4L210.8,284.7L211.6,282.5L212.5,282.9L213.3,284.4L214.2,287.6L215,286.5L215.9,285.3L216.7,284.5L217.6,286.2L218.4,286.2L219.3,285.6L220.1,286.1L221,285.3L221.8,289.2L222.7,282.9L223.5,286.7L224.4,285L225.2,287.6L226.1,286.2L226.9,287.1L227.8,287.3L228.6,286.9L229.5,288L230.3,284.4L231.2,287.8L232,286L232.9,286.9L233.7,288.6L234.6,287.9L235.4,289.1L236.3,282.7L237.1,284.6L238,287.4L238.8,284.2L239.7,285.6L240.5,288.4L241.4,287.1L242.2,284.3L243.1,286.4L243.9,286.6L244.8,285.7L245.6,285.4L246.5,285.7L247.3,283.2L248.2,285.6L249,283.9L249.9,285.9L250.7,285.9L251.6,283.8L252.4,286.1L253.3,285.6L254.1,285L255,286.1L255.8,284.4L256.7,284.4L257.5,284.9L258.4,284.7L259.2,286.5L260.1,281L260.9,284.1L261.8,281.5L262.6,283.7L263.5,284.8L264.3,284.4L265.2,285.8L266,284.8L266.9,280L267.7,282.4L268.6,286.5L269.4,286.5L270.3,284.2L271.1,281.6L272,287.3L272.8,280.6L273.7,284.3L274.5,283.7L275.4,284.1L276.2,281.8L277.1,283L277.9,285.2L278.8,282.8L279.6,281.3L280.5,283.4L281.3,283.5L282.2,283.1L283,282L283.9,284.1L284.7,283L285.6,281.3L286.4,283.4L287.3,283L288.1,283.2L289,280.3L289.8,281.7L290.7,283.6L291.5,284.3L292.4,283.3L293.2,283L294.1,283.8L294.9,284.2L295.8,285.4L296.6,283.3L297.5,281.6L298.3,283.3L299.2,279.4L300,282.5L300.9,281.7L301.7,282.3L302.6,283.1L303.4,282.3L304.3,279.9L305.1,281.6L306,280.8L306.8,282.1" fill="none" stroke="#f4bccd" stroke-width="1.35" stroke-linejoin="round"/>
<rect x="193.3" y="327.4" width="83.7" height="10.2" fill="#8a5fc0" opacity="0.47"/>
<path d="M196,317.2 h96 l5,3 l-5,3 h-96 z" fill="url(#jet)" stroke="#e8e8f0" stroke-width="0.7"/>
<line x1="196" x2="196" y1="323.2" y2="325.2" stroke="#ddd" stroke-width="0.7"/>
<text x="196.4" y="336.7" font-size="13.5" fill="#fff" text-anchor="middle" font-family="Liberation Sans, sans-serif">0</text>
<line x1="229.6" x2="229.6" y1="323.2" y2="325.2" stroke="#ddd" stroke-width="0.7"/>
<text x="230" y="336.7" font-size="13.5" fill="#fff" text-anchor="middle" font-family="Liberation Sans, sans-serif">500</text>
<line x1="263.4" x2="263.4" y1="323.2" y2="325.2" stroke="#ddd" stroke-width="0.7"/>
<text x="263.8" y="336.7" font-size="13.5" fill="#fff" text-anchor="middle" font-family="Liberation Sans, sans-serif">1000</text>
<text x="51.3" y="220" font-size="25" font-weight="bold" fill="#fff" stroke="#fff" stroke-width="0.7" font-family="Liberation Sans, sans-serif">c</text>
<text x="245.2" y="216.8" fill="#fff" font-family="Liberation Serif, serif" font-style="italic" font-size="21">B<tspan font-size="15" dy="5">x</tspan><tspan dy="-5" dx="1.5">/</tspan><tspan dx="1">B</tspan><tspan font-size="15" dy="5">x0</tspan></text>
<text x="222" y="303.8" fill="#efb0e4" font-family="Liberation Serif, serif" font-size="21"><tspan font-style="italic">n</tspan><tspan font-size="15" dy="5">e</tspan><tspan dy="-5" dx="1.5" font-style="italic">/</tspan><tspan dx="0.5" font-style="italic">n</tspan><tspan font-size="15" dy="5">0</tspan><tspan dy="-5" dx="1.5"> − 1</tspan></text>
<text x="40.4" y="219.6" font-size="17.5" font-weight="bold" letter-spacing="-0.9" text-anchor="end" font-family="Liberation Sans, sans-serif">20</text>
<text x="40.4" y="248.2" font-size="17.5" font-weight="bold" letter-spacing="-0.9" text-anchor="end" font-family="Liberation Sans, sans-serif">10</text>
<text x="40.4" y="276.8" font-size="17.5" font-weight="bold" letter-spacing="-0.9" text-anchor="end" font-family="Liberation Sans, sans-serif">0</text>
<text x="40.4" y="305.4" font-size="17.5" font-weight="bold" letter-spacing="-0.9" text-anchor="end" font-family="Liberation Sans, sans-serif">-10</text>
<text x="40.4" y="334.1" font-size="17.5" font-weight="bold" letter-spacing="-0.9" text-anchor="end" font-family="Liberation Sans, sans-serif">-20</text>
<text x="311.3" y="215.5" font-size="15.5" font-weight="bold" letter-spacing="-1" font-family="Liberation Sans, sans-serif">1.0</text>
<text x="311.3" y="245.3" font-size="15.5" font-weight="bold" letter-spacing="-1" font-family="Liberation Sans, sans-serif">0.5</text>
<text x="311.3" y="275" font-size="15.5" font-weight="bold" letter-spacing="-1" font-family="Liberation Sans, sans-serif">0</text>
<text x="311.3" y="304.8" font-size="15.5" font-weight="bold" letter-spacing="-1" font-family="Liberation Sans, sans-serif">-0.5</text>
<text x="311.3" y="334.5" font-size="15.5" font-weight="bold" letter-spacing="-1" font-family="Liberation Sans, sans-serif">-1.0</text>
<path d="M45,212.4h-2.5M45,241h-2.5M45,269.6h-2.5M45,298.2h-2.5M45,326.9h-2.5M307,210.1h2.5M307,239.9h2.5M307,269.6h2.5M307,299.4h2.5M307,329.1h2.5M45,341.5v3M88.7,341.5v3M132.3,341.5v3M176,341.5v3M219.7,341.5v3M263.4,341.5v3M307,341.5v3" stroke="#999" stroke-width="0.8" fill="none"/>
<defs><clipPath id="clipd"><rect x="394" y="198" width="262" height="143.5"/></clipPath></defs>
<g clip-path="url(#clipd)">
<g filter="url(#jetmap)">
<rect x="394" y="198" width="262" height="143.5" fill="#000"/>
<path d="M525.5,241.6 C522,247.6 516,255.6 515,261.6 C513.8,268.6 519.5,287.6 525.5,297.6 C529,291.6 535,283.6 536,277.6 C537.2,270.6 531.5,251.6 525.5,241.6Z" fill="none" stroke="#fff" stroke-width="16" opacity="0.12" filter="url(#bl5)"/>
<path d="M525.5,241.6 C522,247.6 516,255.6 515,261.6 C513.8,268.6 519.5,287.6 525.5,297.6 C529,291.6 535,283.6 536,277.6 C537.2,270.6 531.5,251.6 525.5,241.6Z" fill="none" stroke="#fff" stroke-width="7" opacity="0.1" filter="url(#bl3)"/>
<linearGradient id="bld" gradientUnits="userSpaceOnUse" x1="0" x2="0" y1="251.8" y2="275.8"><stop offset="0.000" stop-color="#fff" stop-opacity="0.000"/><stop offset="0.021" stop-color="#fff" stop-opacity="0.004"/><stop offset="0.042" stop-color="#fff" stop-opacity="0.008"/><stop offset="0.062" stop-color="#fff" stop-opacity="0.012"/><stop offset="0.083" stop-color="#fff" stop-opacity="0.016"/><stop offset="0.104" stop-color="#fff" stop-opacity="0.020"/><stop offset="0.125" stop-color="#fff" stop-opacity="0.045"/><stop offset="0.146" stop-color="#fff" stop-opacity="0.070"/><stop offset="0.167" stop-color="#fff" stop-opacity="0.110"/><stop offset="0.188" stop-color="#fff" stop-opacity="0.150"/><stop offset="0.208" stop-color="#fff" stop-opacity="0.200"/><stop offset="0.229" stop-color="#fff" stop-opacity="0.250"/><stop offset="0.250" stop-color="#fff" stop-opacity="0.300"/><stop offset="0.271" stop-color="#fff" stop-opacity="0.350"/><stop offset="0.292" stop-color="#fff" stop-opacity="0.385"/><stop offset="0.312" stop-color="#fff" stop-opacity="0.420"/><stop offset="0.333" stop-color="#fff" stop-opacity="0.460"/><stop offset="0.354" stop-color="#fff" stop-opacity="0.500"/><stop offset="0.375" stop-color="#fff" stop-opacity="0.540"/><stop offset="0.396" stop-color="#fff" stop-opacity="0.580"/><stop offset="0.417" stop-color="#fff" stop-opacity="0.600"/><stop offset="0.438" stop-color="#fff" stop-opacity="0.620"/><stop offset="0.458" stop-color="#fff" stop-opacity="0.623"/><stop offset="0.479" stop-color="#fff" stop-opacity="0.627"/><stop offset="0.500" stop-color="#fff" stop-opacity="0.630"/><stop offset="0.521" stop-color="#fff" stop-opacity="0.627"/><stop offset="0.542" stop-color="#fff" stop-opacity="0.623"/><stop offset="0.562" stop-color="#fff" stop-opacity="0.620"/><stop offset="0.583" stop-color="#fff" stop-opacity="0.600"/><stop offset="0.604" stop-color="#fff" stop-opacity="0.580"/><stop offset="0.625" stop-color="#fff" stop-opacity="0.540"/><stop offset="0.646" stop-color="#fff" stop-opacity="0.500"/><stop offset="0.667" stop-color="#fff" stop-opacity="0.460"/><stop offset="0.688" stop-color="#fff" stop-opacity="0.420"/><stop offset="0.708" stop-color="#fff" stop-opacity="0.385"/><stop offset="0.729" stop-color="#fff" stop-opacity="0.350"/><stop offset="0.750" stop-color="#fff" stop-opacity="0.300"/><stop offset="0.771" stop-color="#fff" stop-opacity="0.250"/><stop offset="0.792" stop-color="#fff" stop-opacity="0.200"/><stop offset="0.812" stop-color="#fff" stop-opacity="0.150"/><stop offset="0.833" stop-color="#fff" stop-opacity="0.110"/><stop offset="0.854" stop-color="#fff" stop-opacity="0.070"/><stop offset="0.875" stop-color="#fff" stop-opacity="0.045"/><stop offset="0.896" stop-color="#fff" stop-opacity="0.020"/><stop offset="0.917" stop-color="#fff" stop-opacity="0.016"/><stop offset="0.938" stop-color="#fff" stop-opacity="0.012"/><stop offset="0.958" stop-color="#fff" stop-opacity="0.008"/><stop offset="0.979" stop-color="#fff" stop-opacity="0.004"/><stop offset="1.000" stop-color="#fff" stop-opacity="0.000"/></linearGradient>
<linearGradient id="brd" gradientUnits="userSpaceOnUse" x1="0" x2="0" y1="263.8" y2="287.8"><stop offset="0.000" stop-color="#fff" stop-opacity="0.000"/><stop offset="0.021" stop-color="#fff" stop-opacity="0.004"/><stop offset="0.042" stop-color="#fff" stop-opacity="0.008"/><stop offset="0.062" stop-color="#fff" stop-opacity="0.012"/><stop offset="0.083" stop-color="#fff" stop-opacity="0.016"/><stop offset="0.104" stop-color="#fff" stop-opacity="0.020"/><stop offset="0.125" stop-color="#fff" stop-opacity="0.045"/><stop offset="0.146" stop-color="#fff" stop-opacity="0.070"/><stop offset="0.167" stop-color="#fff" stop-opacity="0.110"/><stop offset="0.188" stop-color="#fff" stop-opacity="0.150"/><stop offset="0.208" stop-color="#fff" stop-opacity="0.200"/><stop offset="0.229" stop-color="#fff" stop-opacity="0.250"/><stop offset="0.250" stop-color="#fff" stop-opacity="0.300"/><stop offset="0.271" stop-color="#fff" stop-opacity="0.350"/><stop offset="0.292" stop-color="#fff" stop-opacity="0.385"/><stop offset="0.312" stop-color="#fff" stop-opacity="0.420"/><stop offset="0.333" stop-color="#fff" stop-opacity="0.460"/><stop offset="0.354" stop-color="#fff" stop-opacity="0.500"/><stop offset="0.375" stop-color="#fff" stop-opacity="0.540"/><stop offset="0.396" stop-color="#fff" stop-opacity="0.580"/><stop offset="0.417" stop-color="#fff" stop-opacity="0.600"/><stop offset="0.438" stop-color="#fff" stop-opacity="0.620"/><stop offset="0.458" stop-color="#fff" stop-opacity="0.623"/><stop offset="0.479" stop-color="#fff" stop-opacity="0.627"/><stop offset="0.500" stop-color="#fff" stop-opacity="0.630"/><stop offset="0.521" stop-color="#fff" stop-opacity="0.627"/><stop offset="0.542" stop-color="#fff" stop-opacity="0.623"/><stop offset="0.562" stop-color="#fff" stop-opacity="0.620"/><stop offset="0.583" stop-color="#fff" stop-opacity="0.600"/><stop offset="0.604" stop-color="#fff" stop-opacity="0.580"/><stop offset="0.625" stop-color="#fff" stop-opacity="0.540"/><stop offset="0.646" stop-color="#fff" stop-opacity="0.500"/><stop offset="0.667" stop-color="#fff" stop-opacity="0.460"/><stop offset="0.688" stop-color="#fff" stop-opacity="0.420"/><stop offset="0.708" stop-color="#fff" stop-opacity="0.385"/><stop offset="0.729" stop-color="#fff" stop-opacity="0.350"/><stop offset="0.750" stop-color="#fff" stop-opacity="0.300"/><stop offset="0.771" stop-color="#fff" stop-opacity="0.250"/><stop offset="0.792" stop-color="#fff" stop-opacity="0.200"/><stop offset="0.812" stop-color="#fff" stop-opacity="0.150"/><stop offset="0.833" stop-color="#fff" stop-opacity="0.110"/><stop offset="0.854" stop-color="#fff" stop-opacity="0.070"/><stop offset="0.875" stop-color="#fff" stop-opacity="0.045"/><stop offset="0.896" stop-color="#fff" stop-opacity="0.020"/><stop offset="0.917" stop-color="#fff" stop-opacity="0.016"/><stop offset="0.938" stop-color="#fff" stop-opacity="0.012"/><stop offset="0.958" stop-color="#fff" stop-opacity="0.008"/><stop offset="0.979" stop-color="#fff" stop-opacity="0.004"/><stop offset="1.000" stop-color="#fff" stop-opacity="0.000"/></linearGradient>
<rect x="394" y="251.8" width="131" height="24" fill="url(#bld)" filter="url(#nz2)"/>
<rect x="525" y="263.8" width="131" height="24" fill="url(#brd)" filter="url(#nz2)"/>
<linearGradient id="cld" gradientUnits="userSpaceOnUse" x1="0" x2="0" y1="257.8" y2="269.8"><stop offset="0.000" stop-color="#fff" stop-opacity="0.002"/><stop offset="0.042" stop-color="#fff" stop-opacity="0.004"/><stop offset="0.083" stop-color="#fff" stop-opacity="0.009"/><stop offset="0.125" stop-color="#fff" stop-opacity="0.019"/><stop offset="0.167" stop-color="#fff" stop-opacity="0.036"/><stop offset="0.208" stop-color="#fff" stop-opacity="0.062"/><stop offset="0.250" stop-color="#fff" stop-opacity="0.100"/><stop offset="0.292" stop-color="#fff" stop-opacity="0.151"/><stop offset="0.333" stop-color="#fff" stop-opacity="0.210"/><stop offset="0.375" stop-color="#fff" stop-opacity="0.272"/><stop offset="0.417" stop-color="#fff" stop-opacity="0.328"/><stop offset="0.458" stop-color="#fff" stop-opacity="0.366"/><stop offset="0.500" stop-color="#fff" stop-opacity="0.380"/><stop offset="0.542" stop-color="#fff" stop-opacity="0.366"/><stop offset="0.583" stop-color="#fff" stop-opacity="0.328"/><stop offset="0.625" stop-color="#fff" stop-opacity="0.272"/><stop offset="0.667" stop-color="#fff" stop-opacity="0.210"/><stop offset="0.708" stop-color="#fff" stop-opacity="0.151"/><stop offset="0.750" stop-color="#fff" stop-opacity="0.100"/><stop offset="0.792" stop-color="#fff" stop-opacity="0.062"/><stop offset="0.833" stop-color="#fff" stop-opacity="0.036"/><stop offset="0.875" stop-color="#fff" stop-opacity="0.019"/><stop offset="0.917" stop-color="#fff" stop-opacity="0.009"/><stop offset="0.958" stop-color="#fff" stop-opacity="0.004"/><stop offset="1.000" stop-color="#fff" stop-opacity="0.002"/></linearGradient>
<linearGradient id="crd" gradientUnits="userSpaceOnUse" x1="0" x2="0" y1="269.8" y2="281.8"><stop offset="0.000" stop-color="#fff" stop-opacity="0.002"/><stop offset="0.042" stop-color="#fff" stop-opacity="0.004"/><stop offset="0.083" stop-color="#fff" stop-opacity="0.009"/><stop offset="0.125" stop-color="#fff" stop-opacity="0.019"/><stop offset="0.167" stop-color="#fff" stop-opacity="0.036"/><stop offset="0.208" stop-color="#fff" stop-opacity="0.062"/><stop offset="0.250" stop-color="#fff" stop-opacity="0.100"/><stop offset="0.292" stop-color="#fff" stop-opacity="0.151"/><stop offset="0.333" stop-color="#fff" stop-opacity="0.210"/><stop offset="0.375" stop-color="#fff" stop-opacity="0.272"/><stop offset="0.417" stop-color="#fff" stop-opacity="0.328"/><stop offset="0.458" stop-color="#fff" stop-opacity="0.366"/><stop offset="0.500" stop-color="#fff" stop-opacity="0.380"/><stop offset="0.542" stop-color="#fff" stop-opacity="0.366"/><stop offset="0.583" stop-color="#fff" stop-opacity="0.328"/><stop offset="0.625" stop-color="#fff" stop-opacity="0.272"/><stop offset="0.667" stop-color="#fff" stop-opacity="0.210"/><stop offset="0.708" stop-color="#fff" stop-opacity="0.151"/><stop offset="0.750" stop-color="#fff" stop-opacity="0.100"/><stop offset="0.792" stop-color="#fff" stop-opacity="0.062"/><stop offset="0.833" stop-color="#fff" stop-opacity="0.036"/><stop offset="0.875" stop-color="#fff" stop-opacity="0.019"/><stop offset="0.917" stop-color="#fff" stop-opacity="0.009"/><stop offset="0.958" stop-color="#fff" stop-opacity="0.004"/><stop offset="1.000" stop-color="#fff" stop-opacity="0.002"/></linearGradient>
<linearGradient id="emdg" gradientUnits="userSpaceOnUse" x1="394" x2="656" y1="0" y2="0"><stop offset="0.000" stop-color="#ffffff"/><stop offset="0.025" stop-color="#ffffff"/><stop offset="0.050" stop-color="#ffffff"/><stop offset="0.075" stop-color="#f7f7f7"/><stop offset="0.100" stop-color="#dfdfdf"/><stop offset="0.125" stop-color="#c7c7c7"/><stop offset="0.150" stop-color="#afafaf"/><stop offset="0.175" stop-color="#979797"/><stop offset="0.200" stop-color="#7f7f7f"/><stop offset="0.225" stop-color="#686868"/><stop offset="0.250" stop-color="#505050"/><stop offset="0.275" stop-color="#383838"/><stop offset="0.300" stop-color="#202020"/><stop offset="0.325" stop-color="#080808"/><stop offset="0.350" stop-color="#000000"/><stop offset="0.375" stop-color="#000000"/><stop offset="0.400" stop-color="#000000"/><stop offset="0.425" stop-color="#000000"/><stop offset="0.450" stop-color="#000000"/><stop offset="0.475" stop-color="#000000"/><stop offset="0.500" stop-color="#000000"/><stop offset="0.525" stop-color="#000000"/><stop offset="0.550" stop-color="#000000"/><stop offset="0.575" stop-color="#000000"/><stop offset="0.600" stop-color="#000000"/><stop offset="0.625" stop-color="#000000"/><stop offset="0.650" stop-color="#000000"/><stop offset="0.675" stop-color="#080808"/><stop offset="0.700" stop-color="#202020"/><stop offset="0.725" stop-color="#383838"/><stop offset="0.750" stop-color="#505050"/><stop offset="0.775" stop-color="#686868"/><stop offset="0.800" stop-color="#7f7f7f"/><stop offset="0.825" stop-color="#979797"/><stop offset="0.850" stop-color="#afafaf"/><stop offset="0.875" stop-color="#c7c7c7"/><stop offset="0.900" stop-color="#dfdfdf"/><stop offset="0.925" stop-color="#f7f7f7"/><stop offset="0.950" stop-color="#ffffff"/><stop offset="0.975" stop-color="#ffffff"/><stop offset="1.000" stop-color="#ffffff"/></linearGradient>
<mask id="emd" maskUnits="userSpaceOnUse" x="394" y="198" width="262" height="143.5"><rect x="394" y="198" width="262" height="143.5" fill="url(#emdg)"/></mask>
<g mask="url(#emd)"><rect x="394" y="257.8" width="131" height="12" fill="url(#cld)"/><rect x="525" y="269.8" width="131" height="12" fill="url(#crd)"/></g>
<path d="M525.5,241.6 C522,247.6 516,255.6 515,261.6 C513.8,268.6 519.5,287.6 525.5,297.6 C529,291.6 535,283.6 536,277.6 C537.2,270.6 531.5,251.6 525.5,241.6Z" fill="#000" filter="url(#bl1)"/>
<path d="M525.5,241.6 C522,247.6 516,255.6 515,261.6 C513.8,268.6 519.5,287.6 525.5,297.6 C529,291.6 535,283.6 536,277.6 C537.2,270.6 531.5,251.6 525.5,241.6Z" fill="none" stroke="#fff" stroke-width="3" opacity="0.17" filter="url(#bl1)"/>
<path d="M525.5,241.6 C522,247.6 516,255.6 515,261.6M525.5,297.6 C529,291.6 535,283.6 536,277.6" fill="none" stroke="#fff" stroke-width="1.5" opacity="0.24" filter="url(#bl1)"/>
<path d="M515,261.6 C513.8,268.6 519.5,287.6 525.5,297.6M536,277.6 C537.2,270.6 531.5,251.6 525.5,241.6" fill="none" stroke="#fff" stroke-width="1.2" opacity="0.1" filter="url(#bl1)"/>
</g>
</g>
<path d="M394,314.5L395,314.5L396,314.4L397,314.3L398,314.3L399,314.2L400,314.2L401,314.1L402,314L403,314L404,313.9L405,313.8L406,313.8L407,313.7L408,313.7L409,313.6L410,313.5L411,313.5L412,313.4L413,313.4L414,313.3L415,313.2L416,313.2L417,313.1L418,313.1L419,313L420,312.9L421,312.9L422,312.8L423,312.7L424,312.7L425,312.6L426,312.6L427,312.5L428,312.4L429,312.4L430,312.3L431,312.3L432,312.2L433,312.1L434,312.1L435,312L436,311.9L437,311.9L438,311.8L439,311.8L440,311.7L441,311.6L442,311.6L443,311.5L444,311.5L445,311.4L446,311.3L447,311.3L448,311.2L449,311.1L450,311.1L451,311L452,311L453,310.9L454,310.8L455,310.8L456,310.7L457,310.7L458,310.6L459,310.5L460,310.5L461,310.4L462,310.4L463,310.3L464,310.2L465,310.2L466,310.1L467,310L468,310L469,309.9L470,309.9L471,309.8L472,309.7L473,309.7L474,309.6L475,309.6L476,309.5L477,309.4L478,309.4L479,309.3L480,309.2L481,309.2L482,309.1L483,309L484,309L485,308.9L486,308.8L487,308.8L488,308.7L489,308.6L490,308.6L491,308.5L492,308.4L493,308.3L494,308.2L495,308.1L496,308L497,307.9L498,307.8L499,307.6L500,307.5L501,307.3L502,307.1L503,306.8L504,306.6L505,306.2L506,305.9L507,305.4L508,304.9L509,304.3L510,303.6L511,302.8L512,301.9L513,300.7L514,299.4L515,297.9L516,296.2L517,294.2L518,291.9L519,289.4L520,286.6L521,283.5L522,280.3L523,276.8L524,273.2L525,269.6L526,266L527,262.4L528,258.9L529,255.7L530,252.6L531,249.8L532,247.3L533,245L534,243L535,241.3L536,239.8L537,238.5L538,237.3L539,236.4L540,235.6L541,234.9L542,234.3L543,233.8L544,233.3L545,233L546,232.6L547,232.4L548,232.1L549,231.9L550,231.7L551,231.6L552,231.4L553,231.3L554,231.2L555,231.1L556,231L557,230.9L558,230.8L559,230.7L560,230.6L561,230.6L562,230.5L563,230.4L564,230.4L565,230.3L566,230.2L567,230.2L568,230.1L569,230L570,230L571,229.9L572,229.8L573,229.8L574,229.7L575,229.6L576,229.6L577,229.5L578,229.5L579,229.4L580,229.3L581,229.3L582,229.2L583,229.2L584,229.1L585,229L586,229L587,228.9L588,228.8L589,228.8L590,228.7L591,228.7L592,228.6L593,228.5L594,228.5L595,228.4L596,228.4L597,228.3L598,228.2L599,228.2L600,228.1L601,228.1L602,228L603,227.9L604,227.9L605,227.8L606,227.7L607,227.7L608,227.6L609,227.6L610,227.5L611,227.4L612,227.4L613,227.3L614,227.3L615,227.2L616,227.1L617,227.1L618,227L619,226.9L620,226.9L621,226.8L622,226.8L623,226.7L624,226.6L625,226.6L626,226.5L627,226.5L628,226.4L629,226.3L630,226.3L631,226.2L632,226.1L633,226.1L634,226L635,226L636,225.9L637,225.8L638,225.8L639,225.7L640,225.7L641,225.6L642,225.5L643,225.5L644,225.4L645,225.4L646,225.3L647,225.2L648,225.2L649,225.1L650,225L651,225L652,224.9L653,224.9L654,224.8L655,224.7L656,224.7" fill="none" stroke="#f4f4ff" stroke-width="1.5"/>
<path d="M394,283.2L394.9,280.6L395.7,279.7L396.6,277.6L397.4,281.8L398.3,284.4L399.1,282.5L400,283.3L400.8,284.2L401.7,281.2L402.5,286.9L403.4,281.3L404.2,283.4L405.1,287.2L405.9,282.7L406.8,283.1L407.6,282.2L408.5,283.6L409.3,279.8L410.2,282.2L411,285.9L411.9,283.6L412.7,283L413.6,284L414.4,284.1L415.3,283.8L416.1,284.5L417,281.1L417.8,284.6L418.7,282.7L419.5,285.1L420.4,283.9L421.2,282.4L422.1,283.9L422.9,282.5L423.8,285.7L424.6,284.1L425.5,285.6L426.3,282.6L427.2,286.9L428,283.9L428.9,286.6L429.7,285.8L430.6,282.9L431.4,285.1L432.3,283.9L433.1,285.4L434,287L434.8,285.9L435.7,286.6L436.5,283.2L437.4,285.4L438.2,285.7L439.1,286.8L439.9,284.3L440.8,286.1L441.6,286L442.5,283.1L443.3,283.9L444.2,286.2L445,283.8L445.9,283.8L446.7,287L447.6,286.2L448.4,285.4L449.3,286L450.1,285.3L451,285.2L451.8,285.3L452.7,286.7L453.5,288.1L454.4,285.5L455.2,286.2L456.1,286L456.9,284.5L457.8,286.8L458.6,287.8L459.5,285.3L460.3,287.9L461.2,285.8L462,288.5L462.9,288.6L463.7,286.3L464.6,283.9L465.4,286.4L466.3,284.9L467.1,285.1L468,286.8L468.8,289.2L469.7,287.1L470.5,287L471.4,284.6L472.2,286.5L473.1,285.3L473.9,288.2L474.8,286.6L475.6,287.3L476.5,287.3L477.3,287L478.2,288.7L479,288L479.9,286.8L480.7,287.5L481.6,288L482.4,289.2L483.3,287.4L484.1,289.3L485,286.2L485.8,286.7L486.7,284.8L487.5,288.3L488.4,285.5L489.2,285.4L490.1,288.2L490.9,286.2L491.8,285.8L492.6,288.3L493.5,286.6L494.3,288.2L495.2,285.7L496,286.7L496.9,286.5L497.7,284.3L498.6,286.3L499.4,282.2L500.3,281.8L501.1,281.5L502,281.8L502.8,278.4L503.7,276.9L504.5,276.9L505.4,277.4L506.2,273.2L507.1,270.4L507.9,271.3L508.8,270.9L509.6,266.2L510.5,264.9L511.3,258.3L512.2,259.7L513,257.3L513.9,256L514.7,252.7L515.6,252.5L516.4,252.7L517.3,260.4L518.1,259.8L519,266.2L519.8,273.5L520.7,277.1L521.5,275.6L522.4,282.8L523.2,284.3L524.1,287L524.9,291.6L525.8,290.1L526.6,290L527.5,283.8L528.3,283.3L529.2,281.8L530,274.9L530.9,275.5L531.7,272.1L532.6,262.9L533.4,260.3L534.3,254.3L535.1,250.9L536,247.7L536.8,253.2L537.7,250.6L538.5,258.3L539.4,258L540.2,264.4L541.1,257.7L541.9,263L542.8,262.6L543.6,266.9L544.5,270L545.3,269L546.2,269.5L547,270.5L547.9,275.5L548.7,278.8L549.6,280L550.4,279.5L551.3,279.4L552.1,281.8L553,281.5L553.8,282.9L554.7,288.4L555.5,286.5L556.4,287.4L557.2,286.5L558.1,288.9L558.9,289.1L559.8,285.8L560.6,286.5L561.5,286L562.3,289L563.2,288.9L564,286.7L564.9,290.6L565.7,287.2L566.6,285.3L567.4,284.1L568.3,287L569.1,287.7L570,286.4L570.8,287.8L571.7,289.1L572.5,287.2L573.4,288.6L574.2,289.9L575.1,288.1L575.9,286.5L576.8,288.1L577.6,288.2L578.5,290.6L579.3,286.7L580.2,284.9L581,287.7L581.9,287.6L582.7,286.5L583.6,287.9L584.4,287.5L585.3,288.7L586.1,285.6L587,285.7L587.8,286.7L588.7,285.9L589.5,288.5L590.4,287.4L591.2,286.5L592.1,288.7L592.9,287.1L593.8,287.8L594.6,287.5L595.5,286L596.3,286L597.2,286.1L598,284.4L598.9,285.5L599.7,287.2L600.6,286.3L601.4,284.4L602.3,289.3L603.1,284.1L604,286.6L604.8,286.7L605.7,287.5L606.5,284.2L607.4,285.4L608.2,285.1L609.1,287L609.9,285.8L610.8,285.8L611.6,286L612.5,288.1L613.3,286.1L614.2,286.4L615,283.5L615.9,286L616.7,283L617.6,286.3L618.4,285L619.3,283.4L620.1,283L621,284.5L621.8,284.8L622.7,283.7L623.5,284L624.4,284L625.2,283.6L626.1,284.1L626.9,284.8L627.8,286.3L628.6,285.3L629.5,283.4L630.3,286.7L631.2,286L632,283.7L632.9,285.7L633.7,283.2L634.6,282.8L635.4,282.8L636.3,286.4L637.1,284.1L638,284.3L638.8,283.9L639.7,283.1L640.5,284.5L641.4,284.7L642.2,286.7L643.1,282.3L643.9,286L644.8,284.6L645.6,280.8L646.5,285L647.3,285.9L648.2,285.1L649,283.7L649.9,283.5L650.7,280.1L651.6,283.7L652.4,283.4L653.3,281.6L654.1,283.3L655,281.9L655.8,286.5" fill="none" stroke="#f4bccd" stroke-width="1.35" stroke-linejoin="round"/>
<rect x="537.2" y="326.3" width="111.4" height="11.3" fill="#8a5fc0" opacity="0.47"/>
<path d="M545,317.2 h96 l5,3 l-5,3 h-96 z" fill="url(#jet)" stroke="#e8e8f0" stroke-width="0.7"/>
<line x1="545" x2="545" y1="323.2" y2="325.2" stroke="#ddd" stroke-width="0.7"/>
<text x="545.4" y="336.7" font-size="13.5" fill="#fff" text-anchor="middle" font-family="Liberation Sans, sans-serif">0</text>
<line x1="590" x2="590" y1="323.2" y2="325.2" stroke="#ddd" stroke-width="0.7"/>
<text x="590.4" y="336.7" font-size="13.5" fill="#fff" text-anchor="middle" font-family="Liberation Sans, sans-serif">1000</text>
<line x1="633.7" x2="633.7" y1="323.2" y2="325.2" stroke="#ddd" stroke-width="0.7"/>
<text x="634.1" y="336.7" font-size="13.5" fill="#fff" text-anchor="middle" font-family="Liberation Sans, sans-serif">2000</text>
<text x="398.8" y="220" font-size="25" font-weight="bold" fill="#fff" stroke="#fff" stroke-width="0.7" font-family="Liberation Sans, sans-serif">d</text>
<text x="594.2" y="216.8" fill="#fff" font-family="Liberation Serif, serif" font-style="italic" font-size="21">B<tspan font-size="15" dy="5">x</tspan><tspan dy="-5" dx="1.5">/</tspan><tspan dx="1">B</tspan><tspan font-size="15" dy="5">x0</tspan></text>
<text x="575" y="303.8" fill="#efb0e4" font-family="Liberation Serif, serif" font-size="21"><tspan font-style="italic">n</tspan><tspan font-size="15" dy="5">i</tspan><tspan dy="-5" dx="1.5" font-style="italic">/</tspan><tspan dx="0.5" font-style="italic">n</tspan><tspan font-size="15" dy="5">0</tspan><tspan dy="-5" dx="1.5"> − 1</tspan></text>
<text x="389.4" y="219.6" font-size="17.5" font-weight="bold" letter-spacing="-0.9" text-anchor="end" font-family="Liberation Sans, sans-serif">20</text>
<text x="389.4" y="248.2" font-size="17.5" font-weight="bold" letter-spacing="-0.9" text-anchor="end" font-family="Liberation Sans, sans-serif">10</text>
<text x="389.4" y="276.8" font-size="17.5" font-weight="bold" letter-spacing="-0.9" text-anchor="end" font-family="Liberation Sans, sans-serif">0</text>
<text x="389.4" y="305.4" font-size="17.5" font-weight="bold" letter-spacing="-0.9" text-anchor="end" font-family="Liberation Sans, sans-serif">-10</text>
<text x="389.4" y="334.1" font-size="17.5" font-weight="bold" letter-spacing="-0.9" text-anchor="end" font-family="Liberation Sans, sans-serif">-20</text>
<text x="660.3" y="215.5" font-size="15.5" font-weight="bold" letter-spacing="-1" font-family="Liberation Sans, sans-serif">1.0</text>
<text x="660.3" y="245.3" font-size="15.5" font-weight="bold" letter-spacing="-1" font-family="Liberation Sans, sans-serif">0.5</text>
<text x="660.3" y="275" font-size="15.5" font-weight="bold" letter-spacing="-1" font-family="Liberation Sans, sans-serif">0</text>
<text x="660.3" y="304.8" font-size="15.5" font-weight="bold" letter-spacing="-1" font-family="Liberation Sans, sans-serif">-0.5</text>
<text x="660.3" y="334.5" font-size="15.5" font-weight="bold" letter-spacing="-1" font-family="Liberation Sans, sans-serif">-1.0</text>
<path d="M394,212.4h-2.5M394,241h-2.5M394,269.6h-2.5M394,298.2h-2.5M394,326.9h-2.5M656,210.1h2.5M656,239.9h2.5M656,269.6h2.5M656,299.4h2.5M656,329.1h2.5M394,341.5v3M437.7,341.5v3M481.3,341.5v3M525,341.5v3M568.7,341.5v3M612.4,341.5v3M656,341.5v3" stroke="#999" stroke-width="0.8" fill="none"/>
<defs><clipPath id="clipe"><rect x="66.2" y="406.2" width="262.40000000000003" height="216.40000000000003"/></clipPath><clipPath id="clipf"><rect x="405.9" y="405.5" width="262.6" height="217"/></clipPath></defs>
<g clip-path="url(#clipe)">
<rect x="193.2" y="406.2" width="7.8" height="216.40000000000003" fill="#fcd8c6"/>
<path d="M193.4,406.2V622.6M200.8,406.2V622.6" stroke="#e03a2a" stroke-width="0.9" stroke-dasharray="3,2" fill="none"/>
<path d="M66.2,513.6H328.6" stroke="#707070" stroke-width="2" stroke-dasharray="10.5,5.5" fill="none"/>
<path d="M66.2,550.5H328.6" stroke="#c21fc4" stroke-width="1.7" stroke-dasharray="4,2.6" fill="none"/>
<path d="M66.2,616.8H328.6" stroke="#c21fc4" stroke-width="1.7" stroke-dasharray="4,2.6" fill="none"/>
<path d="M63.4,621.3L64.1,621.3L64.8,621.3L65.6,621.3L66.3,621.3L67,621.3L67.7,621.3L68.4,621.3L69.1,621.3L69.8,621.3L70.5,621.3L71.2,621.3L71.9,621.3L72.6,621.3L73.3,621.3L74,621.3L74.7,621.3L75.4,621.3L76.1,621.3L76.8,621.3L77.5,621.3L78.2,621.3L78.9,621.3L79.6,621.3L80.3,621.3L81,621.3L81.7,621.3L82.4,621.3L83.2,621.3L83.9,621.3L84.6,621.3L85.3,621.3L86,621.3L86.7,621.3L87.4,621.3L88.1,621.3L88.8,621.3L89.5,621.3L90.2,621.3L90.9,621.3L91.6,621.3L92.3,621.3L93,621.3L93.7,621.3L94.4,621.3L95.1,621.3L95.8,621.3L96.5,621.3L97.2,621.3L97.9,621.3L98.6,621.3L99.3,621.3L100,621.3L100.8,621.3L101.5,621.3L102.2,621.3L102.9,621.3L103.6,621.3L104.3,621.3L105,621.3L105.7,621.3L106.4,621.3L107.1,621.3L107.8,621.3L108.5,621.3L109.2,621.3L109.9,621.3L110.6,621.3L111.3,621.3L112,621.3L112.7,621.3L113.4,621.3L114.1,621.3L114.8,621.3L115.5,621.3L116.2,621.3L116.9,621.3L117.6,621.3L118.4,621.3L119.1,621.3L119.8,621.3L120.5,621.3L121.2,621.3L121.9,621.3L122.6,621.3L123.3,621.3L124,621.3L124.7,621.3L125.4,621.3L126.1,621.3L126.8,621.3L127.5,621.3L128.2,621.3L128.9,621.3L129.6,621.3L130.3,621.3L131,621.3L131.7,621.3L132.4,621.3L133.1,621.3L133.8,621.3L134.5,621.3L135.2,621.3L136,621.3L136.7,621.3L137.4,621.3L138.1,621.3L138.8,621.3L139.5,621.3L140.2,621.3L140.9,621.3L141.6,621.3L142.3,621.3L143,621.3L143.7,621.3L144.4,621.3L145.1,621.3L145.8,621.3L146.5,621.3L147.2,621.3L147.9,621.3L148.6,621.2L149.3,621.2L150,621.2L150.7,621.2L151.4,621.2L152.1,621.2L152.8,621.1L153.6,621.1L154.3,621.1L155,621L155.7,621L156.4,620.9L157.1,620.9L157.8,620.8L158.5,620.8L159.2,620.7L159.9,620.6L160.6,620.5L161.3,620.4L162,620.3L162.7,620.2L163.4,620.1L164.1,620L164.8,619.9L165.5,619.8L166.2,619.7L166.9,619.6L167.6,619.5L168.3,619.4L169,619.3L169.7,619.2L170.4,619.1L171.2,619L171.9,618.9L172.6,618.9L173.3,618.8L174,618.8L174.7,618.7L175.4,618.7L176.1,618.7L176.8,618.7L177.5,618.7L178.2,618.8L178.9,618.8L179.6,618.9L180.3,618.9L181,619L181.7,619.1L182.4,619.2L183.1,619.3L183.8,619.4L184.5,619.5L185.2,619.6L185.9,619.7L186.6,619.8L187.3,619.9L188,620L188.8,620.1L189.5,620.2L190.2,620.3L190.9,620.4L191.6,620.5L192.3,620.6L193,620.7L193.7,620.8L194.4,620.8L195.1,620.9L195.8,620.9L196.5,621L197.2,621L197.9,621L198.6,620.9L199.3,620.9L200,620.8L200.7,620.8L201.4,620.7L202.1,620.6L202.8,620.5L203.5,620.4L204.2,620.3L204.9,620.2L205.6,620.1L206.4,620L207.1,619.9L207.8,619.8L208.5,619.7L209.2,619.6L209.9,619.5L210.6,619.4L211.3,619.3L212,619.2L212.7,619.1L213.4,619L214.1,618.9L214.8,618.9L215.5,618.8L216.2,618.8L216.9,618.7L217.6,618.7L218.3,618.7L219,618.7L219.7,618.7L220.4,618.8L221.1,618.8L221.8,618.9L222.5,618.9L223.2,619L224,619.1L224.7,619.2L225.4,619.3L226.1,619.4L226.8,619.5L227.5,619.6L228.2,619.7L228.9,619.8L229.6,619.9L230.3,620L231,620.1L231.7,620.2L232.4,620.3L233.1,620.4L233.8,620.5L234.5,620.6L235.2,620.7L235.9,620.8L236.6,620.8L237.3,620.9L238,620.9L238.7,621L239.4,621L240.1,621.1L240.8,621.1L241.6,621.1L242.3,621.2L243,621.2L243.7,621.2L244.4,621.2L245.1,621.2L245.8,621.2L246.5,621.3L247.2,621.3L247.9,621.3L248.6,621.3L249.3,621.3L250,621.3L250.7,621.3L251.4,621.3L252.1,621.3L252.8,621.3L253.5,621.3L254.2,621.3L254.9,621.3L255.6,621.3L256.3,621.3L257,621.3L257.7,621.3L258.4,621.3L259.2,621.3L259.9,621.3L260.6,621.3L261.3,621.3L262,621.3L262.7,621.3L263.4,621.3L264.1,621.3L264.8,621.3L265.5,621.3L266.2,621.3L266.9,621.3L267.6,621.3L268.3,621.3L269,621.3L269.7,621.3L270.4,621.3L271.1,621.3L271.8,621.3L272.5,621.3L273.2,621.3L273.9,621.3L274.6,621.3L275.3,621.3L276,621.3L276.8,621.3L277.5,621.3L278.2,621.3L278.9,621.3L279.6,621.3L280.3,621.3L281,621.3L281.7,621.3L282.4,621.3L283.1,621.3L283.8,621.3L284.5,621.3L285.2,621.3L285.9,621.3L286.6,621.3L287.3,621.3L288,621.3L288.7,621.3L289.4,621.3L290.1,621.3L290.8,621.3L291.5,621.3L292.2,621.3L292.9,621.3L293.6,621.3L294.4,621.3L295.1,621.3L295.8,621.3L296.5,621.3L297.2,621.3L297.9,621.3L298.6,621.3L299.3,621.3L300,621.3L300.7,621.3L301.4,621.3L302.1,621.3L302.8,621.3L303.5,621.3L304.2,621.3L304.9,621.3L305.6,621.3L306.3,621.3L307,621.3L307.7,621.3L308.4,621.3L309.1,621.3L309.8,621.3L310.5,621.3L311.2,621.3L312,621.3L312.7,621.3L313.4,621.3L314.1,621.3L314.8,621.3L315.5,621.3L316.2,621.3L316.9,621.3L317.6,621.3L318.3,621.3L319,621.3L319.7,621.3L320.4,621.3L321.1,621.3L321.8,621.3L322.5,621.3L323.2,621.3L323.9,621.3L324.6,621.3L325.3,621.3L326,621.3L326.7,621.3L327.4,621.3L328.1,621.3L328.8,621.3L329.6,621.3L330.3,621.3L331,621.3" fill="none" stroke="#e8922a" stroke-width="1.6" stroke-dasharray="1.6,1.6" stroke-linejoin="round"/>
<path d="M63.4,621.7L64.1,621.7L64.8,621.7L65.6,621.7L66.3,621.7L67,621.7L67.7,621.7L68.4,621.7L69.1,621.7L69.8,621.7L70.5,621.7L71.2,621.7L71.9,621.7L72.6,621.7L73.3,621.7L74,621.7L74.7,621.7L75.4,621.7L76.1,621.7L76.8,621.7L77.5,621.7L78.2,621.7L78.9,621.7L79.6,621.7L80.3,621.7L81,621.7L81.7,621.7L82.4,621.7L83.2,621.7L83.9,621.7L84.6,621.7L85.3,621.7L86,621.7L86.7,621.7L87.4,621.7L88.1,621.7L88.8,621.7L89.5,621.7L90.2,621.7L90.9,621.7L91.6,621.7L92.3,621.7L93,621.7L93.7,621.7L94.4,621.7L95.1,621.7L95.8,621.7L96.5,621.7L97.2,621.7L97.9,621.7L98.6,621.7L99.3,621.7L100,621.7L100.8,621.7L101.5,621.7L102.2,621.7L102.9,621.7L103.6,621.7L104.3,621.7L105,621.7L105.7,621.7L106.4,621.7L107.1,621.7L107.8,621.7L108.5,621.7L109.2,621.7L109.9,621.7L110.6,621.7L111.3,621.7L112,621.7L112.7,621.7L113.4,621.7L114.1,621.7L114.8,621.7L115.5,621.7L116.2,621.7L116.9,621.7L117.6,621.7L118.4,621.7L119.1,621.7L119.8,621.7L120.5,621.7L121.2,621.7L121.9,621.7L122.6,621.7L123.3,621.7L124,621.7L124.7,621.7L125.4,621.7L126.1,621.7L126.8,621.7L127.5,621.7L128.2,621.7L128.9,621.7L129.6,621.7L130.3,621.7L131,621.7L131.7,621.7L132.4,621.7L133.1,621.7L133.8,621.7L134.5,621.7L135.2,621.7L136,621.7L136.7,621.7L137.4,621.7L138.1,621.7L138.8,621.7L139.5,621.7L140.2,621.7L140.9,621.7L141.6,621.7L142.3,621.7L143,621.7L143.7,621.7L144.4,621.7L145.1,621.7L145.8,621.7L146.5,621.7L147.2,621.7L147.9,621.7L148.6,621.7L149.3,621.7L150,621.7L150.7,621.6L151.4,621.6L152.1,621.6L152.8,621.6L153.6,621.6L154.3,621.5L155,621.5L155.7,621.5L156.4,621.4L157.1,621.4L157.8,621.3L158.5,621.3L159.2,621.2L159.9,621.2L160.6,621.1L161.3,621L162,620.9L162.7,620.9L163.4,620.8L164.1,620.7L164.8,620.6L165.5,620.5L166.2,620.4L166.9,620.3L167.6,620.2L168.3,620.1L169,620L169.7,620L170.4,619.9L171.2,619.8L171.9,619.8L172.6,619.7L173.3,619.7L174,619.6L174.7,619.6L175.4,619.6L176.1,619.6L176.8,619.6L177.5,619.6L178.2,619.6L178.9,619.7L179.6,619.7L180.3,619.8L181,619.8L181.7,619.9L182.4,620L183.1,620L183.8,620.1L184.5,620.2L185.2,620.3L185.9,620.4L186.6,620.5L187.3,620.6L188,620.7L188.8,620.8L189.5,620.9L190.2,620.9L190.9,621L191.6,621.1L192.3,621.2L193,621.2L193.7,621.3L194.4,621.3L195.1,621.4L195.8,621.4L196.5,621.5L197.2,621.5L197.9,621.5L198.6,621.4L199.3,621.4L200,621.3L200.7,621.3L201.4,621.2L202.1,621.2L202.8,621.1L203.5,621L204.2,620.9L204.9,620.9L205.6,620.8L206.4,620.7L207.1,620.6L207.8,620.5L208.5,620.4L209.2,620.3L209.9,620.2L210.6,620.1L211.3,620L212,620L212.7,619.9L213.4,619.8L214.1,619.8L214.8,619.7L215.5,619.7L216.2,619.6L216.9,619.6L217.6,619.6L218.3,619.6L219,619.6L219.7,619.6L220.4,619.6L221.1,619.7L221.8,619.7L222.5,619.8L223.2,619.8L224,619.9L224.7,620L225.4,620L226.1,620.1L226.8,620.2L227.5,620.3L228.2,620.4L228.9,620.5L229.6,620.6L230.3,620.7L231,620.8L231.7,620.9L232.4,620.9L233.1,621L233.8,621.1L234.5,621.2L235.2,621.2L235.9,621.3L236.6,621.3L237.3,621.4L238,621.4L238.7,621.5L239.4,621.5L240.1,621.5L240.8,621.6L241.6,621.6L242.3,621.6L243,621.6L243.7,621.6L244.4,621.7L245.1,621.7L245.8,621.7L246.5,621.7L247.2,621.7L247.9,621.7L248.6,621.7L249.3,621.7L250,621.7L250.7,621.7L251.4,621.7L252.1,621.7L252.8,621.7L253.5,621.7L254.2,621.7L254.9,621.7L255.6,621.7L256.3,621.7L257,621.7L257.7,621.7L258.4,621.7L259.2,621.7L259.9,621.7L260.6,621.7L261.3,621.7L262,621.7L262.7,621.7L263.4,621.7L264.1,621.7L264.8,621.7L265.5,621.7L266.2,621.7L266.9,621.7L267.6,621.7L268.3,621.7L269,621.7L269.7,621.7L270.4,621.7L271.1,621.7L271.8,621.7L272.5,621.7L273.2,621.7L273.9,621.7L274.6,621.7L275.3,621.7L276,621.7L276.8,621.7L277.5,621.7L278.2,621.7L278.9,621.7L279.6,621.7L280.3,621.7L281,621.7L281.7,621.7L282.4,621.7L283.1,621.7L283.8,621.7L284.5,621.7L285.2,621.7L285.9,621.7L286.6,621.7L287.3,621.7L288,621.7L288.7,621.7L289.4,621.7L290.1,621.7L290.8,621.7L291.5,621.7L292.2,621.7L292.9,621.7L293.6,621.7L294.4,621.7L295.1,621.7L295.8,621.7L296.5,621.7L297.2,621.7L297.9,621.7L298.6,621.7L299.3,621.7L300,621.7L300.7,621.7L301.4,621.7L302.1,621.7L302.8,621.7L303.5,621.7L304.2,621.7L304.9,621.7L305.6,621.7L306.3,621.7L307,621.7L307.7,621.7L308.4,621.7L309.1,621.7L309.8,621.7L310.5,621.7L311.2,621.7L312,621.7L312.7,621.7L313.4,621.7L314.1,621.7L314.8,621.7L315.5,621.7L316.2,621.7L316.9,621.7L317.6,621.7L318.3,621.7L319,621.7L319.7,621.7L320.4,621.7L321.1,621.7L321.8,621.7L322.5,621.7L323.2,621.7L323.9,621.7L324.6,621.7L325.3,621.7L326,621.7L326.7,621.7L327.4,621.7L328.1,621.7L328.8,621.7L329.6,621.7L330.3,621.7L331,621.7" fill="none" stroke="#1a9a3a" stroke-width="1.6" stroke-dasharray="1.6,1.6" stroke-linejoin="round"/>
<path d="M63.4,620L64.1,620L64.8,620L65.6,620L66.3,620L67,620L67.7,620L68.4,620L69.1,620L69.8,620L70.5,620L71.2,620L71.9,620L72.6,620L73.3,620L74,620L74.7,620L75.4,620L76.1,620L76.8,620L77.5,620L78.2,620L78.9,620L79.6,620L80.3,620L81,620L81.7,620L82.4,620L83.2,620L83.9,620L84.6,620L85.3,620L86,620L86.7,620L87.4,620L88.1,620L88.8,620L89.5,620L90.2,620L90.9,620L91.6,620L92.3,620L93,620L93.7,620L94.4,620L95.1,620L95.8,620L96.5,620L97.2,620L97.9,620L98.6,620L99.3,620L100,620L100.8,620L101.5,620L102.2,620L102.9,620L103.6,620L104.3,620L105,620L105.7,620L106.4,620L107.1,620L107.8,620L108.5,620L109.2,620L109.9,620L110.6,620L111.3,620L112,620L112.7,620L113.4,620L114.1,620L114.8,620L115.5,620L116.2,620L116.9,620L117.6,620L118.4,620L119.1,620L119.8,620L120.5,620L121.2,620L121.9,620L122.6,620L123.3,620L124,620L124.7,620L125.4,620L126.1,620L126.8,620L127.5,620L128.2,620L128.9,620L129.6,620L130.3,620L131,620L131.7,620L132.4,620L133.1,620L133.8,620L134.5,620L135.2,620L136,620L136.7,620L137.4,620L138.1,620L138.8,620L139.5,620L140.2,620L140.9,620L141.6,620L142.3,620L143,620L143.7,620L144.4,620L145.1,620L145.8,619.9L146.5,619.9L147.2,619.9L147.9,619.9L148.6,619.9L149.3,619.9L150,619.9L150.7,619.9L151.4,619.8L152.1,619.8L152.8,619.8L153.6,619.8L154.3,619.7L155,619.7L155.7,619.7L156.4,619.6L157.1,619.6L157.8,619.5L158.5,619.5L159.2,619.4L159.9,619.4L160.6,619.3L161.3,619.3L162,619.2L162.7,619.1L163.4,619.1L164.1,619L164.8,618.9L165.5,618.9L166.2,618.8L166.9,618.7L167.6,618.6L168.3,618.6L169,618.5L169.7,618.4L170.4,618.4L171.2,618.3L171.9,618.2L172.6,618.2L173.3,618.1L174,618L174.7,618L175.4,618L176.1,617.9L176.8,617.9L177.5,617.9L178.2,617.9L178.9,617.8L179.6,617.8L180.3,617.8L181,617.9L181.7,617.9L182.4,617.9L183.1,617.9L183.8,618L184.5,618L185.2,618L185.9,618.1L186.6,618.2L187.3,618.2L188,618.3L188.8,618.4L189.5,618.4L190.2,618.5L190.9,618.6L191.6,618.6L192.3,618.7L193,618.8L193.7,618.9L194.4,618.9L195.1,619L195.8,619.1L196.5,619.1L197.2,619.2L197.9,619.1L198.6,619.1L199.3,619L200,618.9L200.7,618.9L201.4,618.8L202.1,618.7L202.8,618.6L203.5,618.6L204.2,618.5L204.9,618.4L205.6,618.4L206.4,618.3L207.1,618.2L207.8,618.2L208.5,618.1L209.2,618L209.9,618L210.6,618L211.3,617.9L212,617.9L212.7,617.9L213.4,617.9L214.1,617.8L214.8,617.8L215.5,617.8L216.2,617.9L216.9,617.9L217.6,617.9L218.3,617.9L219,618L219.7,618L220.4,618L221.1,618.1L221.8,618.2L222.5,618.2L223.2,618.3L224,618.4L224.7,618.4L225.4,618.5L226.1,618.6L226.8,618.6L227.5,618.7L228.2,618.8L228.9,618.9L229.6,618.9L230.3,619L231,619.1L231.7,619.1L232.4,619.2L233.1,619.3L233.8,619.3L234.5,619.4L235.2,619.4L235.9,619.5L236.6,619.5L237.3,619.6L238,619.6L238.7,619.7L239.4,619.7L240.1,619.7L240.8,619.8L241.6,619.8L242.3,619.8L243,619.8L243.7,619.9L244.4,619.9L245.1,619.9L245.8,619.9L246.5,619.9L247.2,619.9L247.9,619.9L248.6,619.9L249.3,620L250,620L250.7,620L251.4,620L252.1,620L252.8,620L253.5,620L254.2,620L254.9,620L255.6,620L256.3,620L257,620L257.7,620L258.4,620L259.2,620L259.9,620L260.6,620L261.3,620L262,620L262.7,620L263.4,620L264.1,620L264.8,620L265.5,620L266.2,620L266.9,620L267.6,620L268.3,620L269,620L269.7,620L270.4,620L271.1,620L271.8,620L272.5,620L273.2,620L273.9,620L274.6,620L275.3,620L276,620L276.8,620L277.5,620L278.2,620L278.9,620L279.6,620L280.3,620L281,620L281.7,620L282.4,620L283.1,620L283.8,620L284.5,620L285.2,620L285.9,620L286.6,620L287.3,620L288,620L288.7,620L289.4,620L290.1,620L290.8,620L291.5,620L292.2,620L292.9,620L293.6,620L294.4,620L295.1,620L295.8,620L296.5,620L297.2,620L297.9,620L298.6,620L299.3,620L300,620L300.7,620L301.4,620L302.1,620L302.8,620L303.5,620L304.2,620L304.9,620L305.6,620L306.3,620L307,620L307.7,620L308.4,620L309.1,620L309.8,620L310.5,620L311.2,620L312,620L312.7,620L313.4,620L314.1,620L314.8,620L315.5,620L316.2,620L316.9,620L317.6,620L318.3,620L319,620L319.7,620L320.4,620L321.1,620L321.8,620L322.5,620L323.2,620L323.9,620L324.6,620L325.3,620L326,620L326.7,620L327.4,620L328.1,620L328.8,620L329.6,620L330.3,620L331,620" fill="none" stroke="#3a4fb0" stroke-width="1.8" stroke-linejoin="round"/>
<path d="M63.4,620.4L64.1,620.4L64.8,620.4L65.6,620.4L66.3,620.4L67,620.4L67.7,620.4L68.4,620.4L69.1,620.4L69.8,620.4L70.5,620.4L71.2,620.4L71.9,620.4L72.6,620.4L73.3,620.4L74,620.4L74.7,620.4L75.4,620.4L76.1,620.4L76.8,620.4L77.5,620.4L78.2,620.4L78.9,620.4L79.6,620.4L80.3,620.4L81,620.4L81.7,620.4L82.4,620.4L83.2,620.4L83.9,620.4L84.6,620.4L85.3,620.4L86,620.4L86.7,620.4L87.4,620.4L88.1,620.4L88.8,620.4L89.5,620.4L90.2,620.4L90.9,620.4L91.6,620.4L92.3,620.4L93,620.4L93.7,620.4L94.4,620.4L95.1,620.4L95.8,620.4L96.5,620.4L97.2,620.4L97.9,620.4L98.6,620.4L99.3,620.4L100,620.4L100.8,620.4L101.5,620.4L102.2,620.4L102.9,620.4L103.6,620.4L104.3,620.4L105,620.4L105.7,620.4L106.4,620.4L107.1,620.4L107.8,620.4L108.5,620.4L109.2,620.4L109.9,620.4L110.6,620.4L111.3,620.4L112,620.4L112.7,620.4L113.4,620.4L114.1,620.4L114.8,620.4L115.5,620.4L116.2,620.4L116.9,620.4L117.6,620.4L118.4,620.4L119.1,620.4L119.8,620.4L120.5,620.4L121.2,620.4L121.9,620.4L122.6,620.4L123.3,620.4L124,620.4L124.7,620.4L125.4,620.4L126.1,620.4L126.8,620.4L127.5,620.4L128.2,620.4L128.9,620.4L129.6,620.4L130.3,620.4L131,620.4L131.7,620.4L132.4,620.4L133.1,620.4L133.8,620.4L134.5,620.4L135.2,620.4L136,620.4L136.7,620.4L137.4,620.4L138.1,620.4L138.8,620.4L139.5,620.4L140.2,620.4L140.9,620.4L141.6,620.4L142.3,620.4L143,620.4L143.7,620.4L144.4,620.4L145.1,620.4L145.8,620.4L146.5,620.4L147.2,620.4L147.9,620.4L148.6,620.4L149.3,620.4L150,620.4L150.7,620.4L151.4,620.4L152.1,620.4L152.8,620.4L153.6,620.4L154.3,620.4L155,620.4L155.7,620.3L156.4,620.3L157.1,620.3L157.8,620.2L158.5,620.2L159.2,620.1L159.9,620L160.6,619.9L161.3,619.8L162,619.7L162.7,619.5L163.4,619.4L164.1,619.2L164.8,618.9L165.5,618.7L166.2,618.4L166.9,618.1L167.6,617.8L168.3,617.4L169,617L169.7,616.6L170.4,616.2L171.2,615.7L171.9,615.3L172.6,614.8L173.3,614.3L174,613.9L174.7,613.4L175.4,613L176.1,612.6L176.8,612.2L177.5,611.9L178.2,611.6L178.9,611.4L179.6,611.3L180.3,611.2L181,611.1L181.7,611.2L182.4,611.3L183.1,611.4L183.8,611.6L184.5,611.9L185.2,612.2L185.9,612.6L186.6,613L187.3,613.4L188,613.9L188.8,614.3L189.5,614.8L190.2,615.3L190.9,615.7L191.6,616.2L192.3,616.6L193,617L193.7,617.4L194.4,617.8L195.1,618.1L195.8,618.4L196.5,618.7L197.2,618.9L197.9,618.7L198.6,618.4L199.3,618.1L200,617.8L200.7,617.4L201.4,617L202.1,616.6L202.8,616.2L203.5,615.7L204.2,615.3L204.9,614.8L205.6,614.3L206.4,613.9L207.1,613.4L207.8,613L208.5,612.6L209.2,612.2L209.9,611.9L210.6,611.6L211.3,611.4L212,611.3L212.7,611.2L213.4,611.1L214.1,611.2L214.8,611.3L215.5,611.4L216.2,611.6L216.9,611.9L217.6,612.2L218.3,612.6L219,613L219.7,613.4L220.4,613.9L221.1,614.3L221.8,614.8L222.5,615.3L223.2,615.7L224,616.2L224.7,616.6L225.4,617L226.1,617.4L226.8,617.8L227.5,618.1L228.2,618.4L228.9,618.7L229.6,618.9L230.3,619.2L231,619.4L231.7,619.5L232.4,619.7L233.1,619.8L233.8,619.9L234.5,620L235.2,620.1L235.9,620.2L236.6,620.2L237.3,620.3L238,620.3L238.7,620.3L239.4,620.4L240.1,620.4L240.8,620.4L241.6,620.4L242.3,620.4L243,620.4L243.7,620.4L244.4,620.4L245.1,620.4L245.8,620.4L246.5,620.4L247.2,620.4L247.9,620.4L248.6,620.4L249.3,620.4L250,620.4L250.7,620.4L251.4,620.4L252.1,620.4L252.8,620.4L253.5,620.4L254.2,620.4L254.9,620.4L255.6,620.4L256.3,620.4L257,620.4L257.7,620.4L258.4,620.4L259.2,620.4L259.9,620.4L260.6,620.4L261.3,620.4L262,620.4L262.7,620.4L263.4,620.4L264.1,620.4L264.8,620.4L265.5,620.4L266.2,620.4L266.9,620.4L267.6,620.4L268.3,620.4L269,620.4L269.7,620.4L270.4,620.4L271.1,620.4L271.8,620.4L272.5,620.4L273.2,620.4L273.9,620.4L274.6,620.4L275.3,620.4L276,620.4L276.8,620.4L277.5,620.4L278.2,620.4L278.9,620.4L279.6,620.4L280.3,620.4L281,620.4L281.7,620.4L282.4,620.4L283.1,620.4L283.8,620.4L284.5,620.4L285.2,620.4L285.9,620.4L286.6,620.4L287.3,620.4L288,620.4L288.7,620.4L289.4,620.4L290.1,620.4L290.8,620.4L291.5,620.4L292.2,620.4L292.9,620.4L293.6,620.4L294.4,620.4L295.1,620.4L295.8,620.4L296.5,620.4L297.2,620.4L297.9,620.4L298.6,620.4L299.3,620.4L300,620.4L300.7,620.4L301.4,620.4L302.1,620.4L302.8,620.4L303.5,620.4L304.2,620.4L304.9,620.4L305.6,620.4L306.3,620.4L307,620.4L307.7,620.4L308.4,620.4L309.1,620.4L309.8,620.4L310.5,620.4L311.2,620.4L312,620.4L312.7,620.4L313.4,620.4L314.1,620.4L314.8,620.4L315.5,620.4L316.2,620.4L316.9,620.4L317.6,620.4L318.3,620.4L319,620.4L319.7,620.4L320.4,620.4L321.1,620.4L321.8,620.4L322.5,620.4L323.2,620.4L323.9,620.4L324.6,620.4L325.3,620.4L326,620.4L326.7,620.4L327.4,620.4L328.1,620.4L328.8,620.4L329.6,620.4L330.3,620.4L331,620.4" fill="none" stroke="#2a3fd0" stroke-width="1.8" stroke-dasharray="1.8,1.6" stroke-linejoin="round"/>
<path d="M63.4,620.9L65.1,621.1L66.8,620.6L68.5,620.3L70.2,620L71.9,620.3L73.5,620.5L75.2,620.5L76.9,619.9L78.6,619.5L80.3,619.9L81.9,620.4L83.6,620.2L85.3,619.2L87,619.6L88.7,620.3L90.4,619.6L92,619.9L93.7,619.6L95.4,619.5L97.1,619.5L98.8,618.9L100.5,619.1L102.1,619.2L103.8,618.7L105.5,618.4L107.2,619.3L108.9,618.7L110.6,618.9L112.2,618.5L113.9,618.8L115.6,618.2L117.3,618.2L119,618.2L120.6,618.4L122.3,618L124,618.2L125.7,618.2L127.4,617.4L129.1,617.9L130.7,616.7L132.4,616.7L134.1,617.8L135.8,616.6L137.5,617L139.2,616.2L140.8,615.8L142.5,616.3L144.2,614.9L145.9,614.2L147.6,612.8L149.2,613.2L150.9,611.2L152.6,611L154.3,608.7L156,607.1L157.7,603.6L159.3,602.6L161,599.3L162.7,599.2L164.4,597.4L166.1,595.7L167.8,595.5L169.4,592.8L171.1,588.9L172.8,589L174.5,587.1L176.2,587.1L177.9,586.3L179.5,587.6L181.2,587.5L182.9,587.3L184.6,588L186.3,589.8L187.9,588.4L189.6,592L191.3,593.1L193,594.4L194.7,593.2L196.4,595.9L198,597.2L199.7,596.5L201.4,592.8L203.1,592L204.8,590L206.5,586.1L208.1,587.1L209.8,584.8L211.5,583.6L213.2,583.8L214.9,583.9L216.5,583.5L218.2,587.7L219.9,590.4L221.6,592.6L223.3,592.3L225,594.1L226.6,595.2L228.3,597.7L230,599.5L231.7,601.6L233.4,603.3L235.1,604.7L236.7,606.9L238.4,608.6L240.1,609.6L241.8,612.4L243.5,614.9L245.2,613.9L246.8,614.9L248.5,615.9L250.2,615.2L251.9,615.8L253.6,616.3L255.2,616.5L256.9,616.8L258.6,616.5L260.3,616.2L262,617.1L263.7,617L265.3,616.6L267,618.1L268.7,617.7L270.4,618.1L272.1,618.6L273.8,618.8L275.4,618.5L277.1,618.4L278.8,618.9L280.5,618.7L282.2,618.5L283.8,618.8L285.5,618.6L287.2,618.8L288.9,618.8L290.6,618.4L292.3,618.9L293.9,619.1L295.6,618.9L297.3,619.5L299,619.4L300.7,619L302.4,619L304,618.7L305.7,619.3L307.4,619.9L309.1,618.6L310.8,619L312.5,619.8L314.1,619L315.8,619.5L317.5,620.2L319.2,619.7L320.9,619.8L322.5,619L324.2,620L325.9,619.8L327.6,619.8L329.3,619.9L331,620.1" fill="none" stroke="#f0922a" stroke-width="2" stroke-linejoin="round"/>
<path d="M63.4,620.9L64.1,620.9L64.8,620.9L65.6,620.9L66.3,620.9L67,620.9L67.7,620.9L68.4,620.9L69.1,620.9L69.8,620.9L70.5,620.9L71.2,620.9L71.9,620.9L72.6,620.9L73.3,620.9L74,620.9L74.7,620.9L75.4,620.9L76.1,620.9L76.8,620.9L77.5,620.9L78.2,620.9L78.9,620.9L79.6,620.9L80.3,620.9L81,620.9L81.7,620.9L82.4,620.9L83.2,620.9L83.9,620.9L84.6,620.9L85.3,620.9L86,620.9L86.7,620.9L87.4,620.9L88.1,620.9L88.8,620.9L89.5,620.9L90.2,620.9L90.9,620.9L91.6,620.9L92.3,620.9L93,620.9L93.7,620.9L94.4,620.9L95.1,620.9L95.8,620.9L96.5,620.9L97.2,620.9L97.9,620.9L98.6,620.9L99.3,620.9L100,620.9L100.8,620.9L101.5,620.9L102.2,620.9L102.9,620.9L103.6,620.9L104.3,620.9L105,620.9L105.7,620.9L106.4,620.9L107.1,620.9L107.8,620.9L108.5,620.9L109.2,620.9L109.9,620.9L110.6,620.9L111.3,620.8L112,620.8L112.7,620.8L113.4,620.8L114.1,620.8L114.8,620.8L115.5,620.8L116.2,620.8L116.9,620.8L117.6,620.8L118.4,620.8L119.1,620.8L119.8,620.8L120.5,620.8L121.2,620.8L121.9,620.8L122.6,620.8L123.3,620.8L124,620.8L124.7,620.8L125.4,620.8L126.1,620.8L126.8,620.8L127.5,620.7L128.2,620.7L128.9,620.7L129.6,620.7L130.3,620.7L131,620.7L131.7,620.7L132.4,620.7L133.1,620.6L133.8,620.6L134.5,620.6L135.2,620.6L136,620.6L136.7,620.5L137.4,620.5L138.1,620.5L138.8,620.4L139.5,620.4L140.2,620.4L140.9,620.3L141.6,620.3L142.3,620.2L143,620.2L143.7,620.1L144.4,620.1L145.1,620L145.8,619.9L146.5,619.9L147.2,619.8L147.9,619.7L148.6,619.6L149.3,619.5L150,619.4L150.7,619.2L151.4,619.1L152.1,619L152.8,618.8L153.6,618.7L154.3,618.5L155,618.3L155.7,618.1L156.4,617.9L157.1,617.6L157.8,617.4L158.5,617.1L159.2,616.8L159.9,616.5L160.6,616.1L161.3,615.7L162,615.3L162.7,614.9L163.4,614.4L164.1,614L164.8,613.4L165.5,612.8L166.2,612.2L166.9,611.6L167.6,610.9L168.3,610.1L169,609.3L169.7,608.4L170.4,607.5L171.2,606.6L171.9,605.5L172.6,604.4L173.3,603.3L174,602L174.7,600.7L175.4,599.3L176.1,597.9L176.8,596.3L177.5,594.7L178.2,593.1L178.9,591.3L179.6,589.5L180.3,587.6L181,585.7L181.7,583.7L182.4,581.6L183.1,579.5L183.8,577.4L184.5,575.2L185.2,573L185.9,570.8L186.6,568.6L187.3,566.5L188,564.4L188.8,562.3L189.5,560.4L190.2,558.5L190.9,556.7L191.6,555.1L192.3,553.6L193,552.2L193.7,551.1L194.4,550.1L195.1,549.4L195.8,548.8L196.5,548.5L197.2,548.4L197.9,548.5L198.6,548.8L199.3,549.4L200,550.1L200.7,551.1L201.4,552.2L202.1,553.6L202.8,555.1L203.5,556.7L204.2,558.5L204.9,560.4L205.6,562.3L206.4,564.4L207.1,566.5L207.8,568.6L208.5,570.8L209.2,573L209.9,575.2L210.6,577.4L211.3,579.5L212,581.6L212.7,583.7L213.4,585.7L214.1,587.6L214.8,589.5L215.5,591.3L216.2,593.1L216.9,594.7L217.6,596.3L218.3,597.9L219,599.3L219.7,600.7L220.4,602L221.1,603.3L221.8,604.4L222.5,605.5L223.2,606.6L224,607.5L224.7,608.4L225.4,609.3L226.1,610.1L226.8,610.9L227.5,611.6L228.2,612.2L228.9,612.8L229.6,613.4L230.3,614L231,614.4L231.7,614.9L232.4,615.3L233.1,615.7L233.8,616.1L234.5,616.5L235.2,616.8L235.9,617.1L236.6,617.4L237.3,617.6L238,617.9L238.7,618.1L239.4,618.3L240.1,618.5L240.8,618.7L241.6,618.8L242.3,619L243,619.1L243.7,619.2L244.4,619.4L245.1,619.5L245.8,619.6L246.5,619.7L247.2,619.8L247.9,619.9L248.6,619.9L249.3,620L250,620.1L250.7,620.1L251.4,620.2L252.1,620.2L252.8,620.3L253.5,620.3L254.2,620.4L254.9,620.4L255.6,620.4L256.3,620.5L257,620.5L257.7,620.5L258.4,620.6L259.2,620.6L259.9,620.6L260.6,620.6L261.3,620.6L262,620.7L262.7,620.7L263.4,620.7L264.1,620.7L264.8,620.7L265.5,620.7L266.2,620.7L266.9,620.7L267.6,620.8L268.3,620.8L269,620.8L269.7,620.8L270.4,620.8L271.1,620.8L271.8,620.8L272.5,620.8L273.2,620.8L273.9,620.8L274.6,620.8L275.3,620.8L276,620.8L276.8,620.8L277.5,620.8L278.2,620.8L278.9,620.8L279.6,620.8L280.3,620.8L281,620.8L281.7,620.8L282.4,620.8L283.1,620.8L283.8,620.9L284.5,620.9L285.2,620.9L285.9,620.9L286.6,620.9L287.3,620.9L288,620.9L288.7,620.9L289.4,620.9L290.1,620.9L290.8,620.9L291.5,620.9L292.2,620.9L292.9,620.9L293.6,620.9L294.4,620.9L295.1,620.9L295.8,620.9L296.5,620.9L297.2,620.9L297.9,620.9L298.6,620.9L299.3,620.9L300,620.9L300.7,620.9L301.4,620.9L302.1,620.9L302.8,620.9L303.5,620.9L304.2,620.9L304.9,620.9L305.6,620.9L306.3,620.9L307,620.9L307.7,620.9L308.4,620.9L309.1,620.9L309.8,620.9L310.5,620.9L311.2,620.9L312,620.9L312.7,620.9L313.4,620.9L314.1,620.9L314.8,620.9L315.5,620.9L316.2,620.9L316.9,620.9L317.6,620.9L318.3,620.9L319,620.9L319.7,620.9L320.4,620.9L321.1,620.9L321.8,620.9L322.5,620.9L323.2,620.9L323.9,620.9L324.6,620.9L325.3,620.9L326,620.9L326.7,620.9L327.4,620.9L328.1,620.9L328.8,620.9L329.6,620.9L330.3,620.9L331,620.9" fill="none" stroke="#1a9a3a" stroke-width="2.2" stroke-linejoin="round"/>
<path d="M63.4,496.7L64.1,496.8L64.8,496.9L65.4,497L66.1,497.1L66.7,497.2L67.4,497.3L68,497.5L68.7,497.6L69.4,497.7L70,497.9L70.7,498L71.3,498.2L72,498.3L72.7,498.5L73.3,498.7L74,498.8L74.6,499L75.3,499.2L75.9,499.3L76.6,499.5L77.3,499.7L77.9,499.9L78.6,500L79.2,500.2L79.9,500.4L80.5,500.6L81.2,500.8L81.9,501L82.5,501.2L83.2,501.3L83.8,501.5L84.5,501.7L85.2,501.9L85.8,502.1L86.5,502.3L87.1,502.5L87.8,502.7L88.4,503L89.1,503.2L89.8,503.4L90.4,503.6L91.1,503.9L91.7,504.1L92.4,504.3L93.1,504.6L93.7,504.8L94.4,505L95,505.3L95.7,505.5L96.3,505.7L97,505.9L97.7,506.2L98.3,506.4L99,506.6L99.6,506.8L100.3,507L100.9,507.3L101.6,507.5L102.3,507.7L102.9,507.9L103.6,508.2L104.2,508.4L104.9,508.6L105.6,508.9L106.2,509.1L106.9,509.4L107.5,509.7L108.2,510L108.8,510.2L109.5,510.5L110.2,510.9L110.8,511.2L111.5,511.5L112.1,511.8L112.8,512.1L113.4,512.4L114.1,512.7L114.8,513L115.4,513.3L116.1,513.5L116.7,513.8L117.4,514.1L118.1,514.3L118.7,514.6L119.4,514.9L120,515.1L120.7,515.4L121.3,515.6L122,515.9L122.7,516.1L123.3,516.4L124,516.6L124.6,516.9L125.3,517.2L126,517.4L126.6,517.7L127.3,518L127.9,518.3L128.6,518.6L129.2,518.8L129.9,519.1L130.6,519.4L131.2,519.7L131.9,520L132.5,520.3L133.2,520.6L133.8,520.9L134.5,521.2L135.2,521.5L135.8,521.9L136.5,522.2L137.1,522.5L137.8,522.8L138.5,523.1L139.1,523.5L139.8,523.8L140.4,524.1L141.1,524.5L141.7,524.8L142.4,525.1L143.1,525.5L143.7,525.8L144.4,526.2L145,526.6L145.7,526.9L146.3,527.3L147,527.7L147.7,528L148.3,528.4L149,528.8L149.6,529.2L150.3,529.5L151,529.9L151.6,530.3L152.3,530.8L152.9,531.2L153.6,531.6L154.2,532.1L154.9,532.6L155.6,533.1L156.2,533.6L156.9,534.2L157.5,534.8L158.2,535.4L158.9,536.1L159.5,536.8L160.2,537.5L160.8,538.2L161.5,539L162.1,539.8L162.8,540.7L163.5,541.5L164.1,542.4L164.8,543.3L165.4,544.3L166.1,545.2L166.7,546.2L167.4,547.2L168.1,548.3L168.7,549.3L169.4,550.4L170,551.6L170.7,552.8L171.4,554.1L172,555.4L172.7,556.8L173.3,558.2L174,559.7L174.6,561.2L175.3,562.7L176,564.3L176.6,565.9L177.3,567.6L177.9,569.3L178.6,571.1L179.2,573L179.9,574.8L180.6,576.7L181.2,578.6L181.9,580.5L182.5,582.3L183.2,584.2L183.9,586.2L184.5,588.1L185.2,590.1L185.8,592L186.5,594L187.1,596L187.8,598L188.5,600L189.1,601.8L189.8,603.5L190.4,605.2L191.1,607L191.8,609L192.4,611.3L193.1,614L193.7,617.2L194.4,622.6L194.4,622.6L200,622.6L200,622.6L200.7,617.2L201.3,614L202,611.3L202.6,609L203.3,607L204,605.2L204.6,603.5L205.3,601.8L205.9,600L206.6,598L207.3,596L207.9,594L208.6,592L209.2,590.1L209.9,588.1L210.5,586.2L211.2,584.2L211.9,582.3L212.5,580.5L213.2,578.6L213.8,576.7L214.5,574.8L215.2,573L215.8,571.1L216.5,569.3L217.1,567.6L217.8,565.9L218.4,564.3L219.1,562.7L219.8,561.2L220.4,559.7L221.1,558.2L221.7,556.8L222.4,555.4L223,554.1L223.7,552.8L224.4,551.6L225,550.4L225.7,549.3L226.3,548.3L227,547.2L227.7,546.2L228.3,545.2L229,544.3L229.6,543.3L230.3,542.4L230.9,541.5L231.6,540.7L232.3,539.8L232.9,539L233.6,538.2L234.2,537.5L234.9,536.8L235.5,536.1L236.2,535.4L236.9,534.8L237.5,534.2L238.2,533.6L238.8,533.1L239.5,532.6L240.2,532.1L240.8,531.6L241.5,531.2L242.1,530.8L242.8,530.3L243.4,529.9L244.1,529.5L244.8,529.2L245.4,528.8L246.1,528.4L246.7,528L247.4,527.7L248.1,527.3L248.7,526.9L249.4,526.6L250,526.2L250.7,525.8L251.3,525.5L252,525.1L252.7,524.8L253.3,524.5L254,524.1L254.6,523.8L255.3,523.5L255.9,523.1L256.6,522.8L257.3,522.5L257.9,522.2L258.6,521.9L259.2,521.5L259.9,521.2L260.6,520.9L261.2,520.6L261.9,520.3L262.5,520L263.2,519.7L263.8,519.4L264.5,519.1L265.2,518.8L265.8,518.6L266.5,518.3L267.1,518L267.8,517.7L268.4,517.4L269.1,517.2L269.8,516.9L270.4,516.6L271.1,516.4L271.7,516.1L272.4,515.9L273.1,515.6L273.7,515.4L274.4,515.1L275,514.9L275.7,514.6L276.3,514.3L277,514.1L277.7,513.8L278.3,513.5L279,513.3L279.6,513L280.3,512.7L281,512.4L281.6,512.1L282.3,511.8L282.9,511.5L283.6,511.2L284.2,510.9L284.9,510.5L285.6,510.2L286.2,510L286.9,509.7L287.5,509.4L288.2,509.1L288.8,508.9L289.5,508.6L290.2,508.4L290.8,508.2L291.5,507.9L292.1,507.7L292.8,507.5L293.5,507.3L294.1,507L294.8,506.8L295.4,506.6L296.1,506.4L296.7,506.2L297.4,505.9L298.1,505.7L298.7,505.5L299.4,505.3L300,505L300.7,504.8L301.3,504.6L302,504.3L302.7,504.1L303.3,503.9L304,503.6L304.6,503.4L305.3,503.2L306,503L306.6,502.7L307.3,502.5L307.9,502.3L308.6,502.1L309.2,501.9L309.9,501.7L310.6,501.5L311.2,501.3L311.9,501.2L312.5,501L313.2,500.8L313.9,500.6L314.5,500.4L315.2,500.2L315.8,500L316.5,499.9L317.1,499.7L317.8,499.5L318.5,499.3L319.1,499.2L319.8,499L320.4,498.8L321.1,498.7L321.7,498.5L322.4,498.3L323.1,498.2L323.7,498L324.4,497.9L325,497.7L325.7,497.6L326.4,497.5L327,497.3L327.7,497.2L328.3,497.1L329,497L329.6,496.9L330.3,496.8L331,496.7" fill="none" stroke="#000" stroke-width="2" stroke-linejoin="round"/>
</g>
<circle cx="266.2" cy="517.6" r="5.6" fill="#e8261c"/>
<path d="M240,481.3L258.5,506.8" stroke="#e8261c" stroke-width="1.8"/>
<path d="M262,511.5L255,505.5L260.5,501.5Z" fill="#e8261c"/>
<path d="M66.2,622.6h5M328.6,622.6h-5M66.2,611.8h2.5M328.6,611.8h-2.5M66.2,601h2.5M328.6,601h-2.5M66.2,590.1h2.5M328.6,590.1h-2.5M66.2,579.3h5M328.6,579.3h-5M66.2,568.5h2.5M328.6,568.5h-2.5M66.2,557.7h2.5M328.6,557.7h-2.5M66.2,546.9h2.5M328.6,546.9h-2.5M66.2,536h5M328.6,536h-5M66.2,525.2h2.5M328.6,525.2h-2.5M66.2,514.4h2.5M328.6,514.4h-2.5M66.2,503.6h2.5M328.6,503.6h-2.5M66.2,492.8h5M328.6,492.8h-5M66.2,481.9h2.5M328.6,481.9h-2.5M66.2,471.1h2.5M328.6,471.1h-2.5M66.2,460.3h2.5M328.6,460.3h-2.5M66.2,449.5h5M328.6,449.5h-5M66.2,438.7h2.5M328.6,438.7h-2.5M66.2,427.8h2.5M328.6,427.8h-2.5M66.2,417h2.5M328.6,417h-2.5M66.2,406.2h5M328.6,406.2h-5M74,406.2v5M74,622.6v-5M91.6,406.2v5M91.6,622.6v-5M109.2,406.2v5M109.2,622.6v-5M126.8,406.2v10M126.8,622.6v-10M144.4,406.2v5M144.4,622.6v-5M162,406.2v5M162,622.6v-5M179.6,406.2v5M179.6,622.6v-5M197.2,406.2v10M197.2,622.6v-10M214.8,406.2v5M214.8,622.6v-5M232.4,406.2v5M232.4,622.6v-5M250,406.2v5M250,622.6v-5M267.6,406.2v10M267.6,622.6v-10M285.2,406.2v5M285.2,622.6v-5M302.8,406.2v5M302.8,622.6v-5M320.4,406.2v5M320.4,622.6v-5" stroke="#000" stroke-width="1.4" fill="none"/>
<rect x="66.2" y="406.2" width="262.4" height="216.4" fill="none" stroke="#000" stroke-width="1.8"/>
<text x="62.6" y="628.4" font-size="16" font-weight="bold" text-anchor="end" font-family="Liberation Sans, sans-serif">0.0</text>
<text x="62.6" y="585.1" font-size="16" font-weight="bold" text-anchor="end" font-family="Liberation Sans, sans-serif">0.2</text>
<text x="62.6" y="541.8" font-size="16" font-weight="bold" text-anchor="end" font-family="Liberation Sans, sans-serif">0.4</text>
<text x="62.6" y="498.6" font-size="16" font-weight="bold" text-anchor="end" font-family="Liberation Sans, sans-serif">0.6</text>
<text x="62.6" y="455.3" font-size="16" font-weight="bold" text-anchor="end" font-family="Liberation Sans, sans-serif">0.8</text>
<text x="62.6" y="412" font-size="16" font-weight="bold" text-anchor="end" font-family="Liberation Sans, sans-serif">1.0</text>
<text x="125.2" y="640" font-size="16" font-weight="bold" text-anchor="middle" font-family="Liberation Sans, sans-serif">-1</text>
<text x="197.2" y="640" font-size="16" font-weight="bold" text-anchor="middle" font-family="Liberation Sans, sans-serif">0</text>
<text x="267.6" y="640" font-size="16" font-weight="bold" text-anchor="middle" font-family="Liberation Sans, sans-serif">1</text>
<text x="7.6" y="414" font-size="25.5" font-weight="bold" stroke="#000" stroke-width="0.5" font-family="Liberation Sans, sans-serif">e</text>
<text x="90" y="501.3" font-size="21" fill="#6f6f6f" font-family="Liberation Serif, serif">Δ<tspan font-style="italic">P</tspan><tspan font-size="15" dy="5">i0</tspan><tspan dy="-5"> = Δ</tspan><tspan font-style="italic">P</tspan><tspan font-size="15" dy="5">e0</tspan></text>
<text x="132" y="566.5" font-size="21" fill="#1a9a3a" font-family="Liberation Serif, serif">Δ<tspan font-style="italic">P</tspan><tspan font-size="15" dy="5">i<tspan font-style="italic">zz</tspan></tspan></text>
<text x="115.8" y="584.5" font-size="21" fill="#e8892a" font-family="Liberation Serif, serif">Δ<tspan font-style="italic">P</tspan><tspan font-size="15" dy="5">i<tspan font-style="italic">yy</tspan></tspan></text>
<text x="104.3" y="604.7" font-size="21" fill="#2340e0" font-family="Liberation Serif, serif">Δ<tspan font-style="italic">P</tspan><tspan font-size="15" dy="5">i<tspan font-style="italic">xx</tspan></tspan></text>
<text x="210" y="473.7" font-size="21" fill="#e8261c" font-family="Liberation Serif, serif"><tspan font-style="italic">B</tspan><tspan font-size="15" dy="-7.8">2</tspan><tspan font-size="15" dx="-8.5" dy="13.5" font-style="italic">x</tspan><tspan font-size="15">i</tspan><tspan dy="-5.7" dx="1.3">/</tspan><tspan dx="1.2">8</tspan><tspan dx="0.6" font-style="italic">π</tspan></text>
<text x="271.3" y="494.6" font-size="21" fill="#000" font-family="Liberation Serif, serif"><tspan font-style="italic">B</tspan><tspan font-size="15" dy="-7.8">2</tspan><tspan dy="7.8" dx="1.5">/</tspan><tspan dx="1.5">8</tspan><tspan dx="0.8" font-style="italic">π</tspan></text>
<text x="280.7" y="545.5" font-size="16" font-weight="bold" fill="#e826e0" font-family="Liberation Sans, sans-serif">Eq.(4)</text>
<text x="280.7" y="609.7" font-size="16" font-weight="bold" fill="#e826e0" font-family="Liberation Sans, sans-serif">Eq.(6)</text>
<text x="216" y="644" font-size="21" fill="#c0201a" font-family="Liberation Serif, serif"><tspan font-style="italic">d</tspan><tspan font-size="15" dy="4.5">e</tspan></text>
<path d="M211.4,634L205.5,627" stroke="#c0201a" stroke-width="1.6"/><path d="M202.5,623.5L209,626.5L205,630Z" fill="#c0201a"/>
<text transform="translate(184.8,661.6) skewX(-13)" font-size="22.8" font-style="italic" font-family="Liberation Serif, serif">z</text><text x="193.3" y="661.6" font-size="22.8" font-family="Liberation Serif, serif"><tspan dx="2.4">/</tspan><tspan dx="0.9" font-style="italic">d</tspan><tspan font-size="16.1" dy="4.5" dx="-0.5">i</tspan></text>
<path d="M5.4,491.4H1V536.7H5.4M30,491.4H34.4V536.7H30" stroke="#000" stroke-width="1.4" fill="none"/>
<path d="M6.6,514.6H28.8" stroke="#000" stroke-width="1"/>
<text x="7.6" y="506.8" font-size="16" font-family="Liberation Serif, serif"><tspan font-style="italic">B</tspan><tspan font-size="12" dy="-6.5">2</tspan><tspan font-size="12" dx="-6" dy="10.3" font-style="italic">x</tspan><tspan font-size="12">0</tspan></text>
<text x="10" y="529.5" font-size="16" font-family="Liberation Serif, serif">8<tspan font-style="italic">π</tspan></text>
<g clip-path="url(#clipf)">
<rect x="530.4" y="405.5" width="14" height="217" fill="#dde6f7"/>
<path d="M530.6,405.5V622.5M544.2,405.5V622.5" stroke="#3050c0" stroke-width="0.9" stroke-dasharray="3,2" fill="none"/>
<path d="M405.9,568.5H668.5" stroke="#c21fc4" stroke-width="1.7" stroke-dasharray="4,2.6" fill="none"/>
<path d="M404.2,427.4L404.6,428.9L404.9,427.9L405.2,428.2L405.6,428.2L406,428.1L406.3,428.7L406.7,428.1L407,428.3L407.4,427L407.7,428L408.1,428.2L408.4,428.2L408.8,428.3L409.1,428.4L409.5,428.2L409.8,427.9L410.2,428.2L410.5,427.8L410.9,428.1L411.2,428.1L411.6,427.6L411.9,427.9L412.2,428.3L412.6,428.1L413,427.9L413.3,427.5L413.7,428.2L414,428.2L414.4,427.8L414.7,428.4L415.1,428.2L415.4,427.8L415.8,427.9L416.1,428.1L416.5,427.9L416.8,429L417.2,427.8L417.5,428.4L417.9,428.7L418.2,428L418.6,427.9L418.9,428.3L419.2,428.5L419.6,428.1L420,428.1L420.3,427.7L420.7,427.9L421,428.1L421.4,427.8L421.7,428.2L422.1,428.4L422.4,428L422.8,428L423.1,428.2L423.5,428.4L423.8,428.1L424.2,429L424.5,427.9L424.9,428L425.2,428.7L425.6,428.1L425.9,428.5L426.3,427.9L426.6,428.8L427,428.5L427.3,428L427.7,427.8L428,428.9L428.4,428.4L428.7,428.1L429.1,428.4L429.4,427.7L429.8,428.6L430.1,428.1L430.5,428.5L430.8,427.8L431.2,428.2L431.5,428.3L431.9,428.8L432.2,427.7L432.6,428L432.9,428L433.3,427.9L433.6,428.1L434,428.4L434.3,428.5L434.7,428.5L435,427.8L435.4,428.7L435.7,428.4L436.1,428.4L436.4,428.2L436.8,428.1L437.1,428.7L437.5,428.8L437.8,428.3L438.2,427.9L438.5,428L438.9,428.2L439.2,428.4L439.6,428.2L439.9,428.4L440.3,428L440.6,428.5L441,428.2L441.3,428.3L441.7,428.1L442,428.2L442.4,427.5L442.7,427.8L443.1,427.8L443.4,429L443.8,428.4L444.1,428.5L444.5,428.1L444.8,429.1L445.2,427.9L445.5,428L445.9,428.7L446.2,428.6L446.6,428.6L446.9,428.3L447.3,428.1L447.6,427.7L448,428.4L448.3,428.1L448.7,428.3L449,427.8L449.4,428.1L449.7,427.9L450.1,428.7L450.4,428.4L450.8,428.6L451.1,427.9L451.5,428.2L451.8,428.5L452.2,428.5L452.5,428.2L452.9,428.6L453.2,428.7L453.6,428.2L453.9,427.6L454.3,428.5L454.6,428.6L455,428.8L455.3,428.9L455.7,428.3L456,428.2L456.4,428.4L456.7,428.3L457.1,428.4L457.4,428.4L457.8,429L458.1,428.6L458.5,428.4L458.8,428.7L459.2,428.7L459.5,428.8L459.9,428.7L460.2,428.3L460.6,428.7L460.9,428.7L461.3,428.4L461.6,428.5L462,428.2L462.3,429.5L462.7,428.6L463,429.1L463.4,429L463.7,428.9L464.1,428.8L464.4,428.9L464.8,429.3L465.1,428.9L465.5,429.6L465.8,429.6L466.2,429.4L466.5,430L466.9,429.2L467.2,429.6L467.6,429.3L467.9,430.1L468.3,430.3L468.6,430.2L469,430.1L469.3,430.6L469.7,430.4L470,430.6L470.4,430.2L470.7,431L471.1,430.5L471.4,431.2L471.8,431.4L472.1,431.4L472.5,431.7L472.8,431.3L473.2,431.1L473.5,431.5L473.9,431.5L474.2,431.3L474.6,431.8L474.9,432L475.3,432.2L475.6,432.8L476,432.2L476.3,433.1L476.7,432.4L477,432.8L477.4,432.5L477.7,433L478.1,433.4L478.4,433.1L478.8,433.6L479.1,433.6L479.5,433.6L479.8,433.8L480.2,433.9L480.5,434.3L480.9,434.2L481.2,434.9L481.6,434.4L481.9,434.9L482.3,434.2L482.6,434.3L483,435.5L483.3,434.9L483.7,435.1L484,435.5L484.4,435.1L484.7,435.5L485.1,436.1L485.4,435.7L485.8,435.7L486.1,435.8L486.5,436.3L486.8,435.8L487.2,435.8L487.5,436.5L487.9,436.5L488.2,436.3L488.6,436.6L488.9,435.9L489.3,436.5L489.6,436.9L490,436.9L490.3,436.7L490.7,436L491,436.9L491.4,436.8L491.7,436.7L492.1,437L492.4,436.3L492.8,437.2L493.1,436.9L493.5,437.1L493.8,437L494.2,437.6L494.5,436.7L494.9,437.3L495.2,437.3L495.6,437.7L495.9,437.7L496.3,437.3L496.6,437.2L497,437.3L497.3,437.2L497.7,437.4L498,437.6L498.4,437.4L498.7,437.5L499.1,437.7L499.4,437.5L499.8,437.4L500.1,437.7L500.5,437.9L500.8,437.6L501.2,437.3L501.5,438L501.9,438L502.2,438L502.6,437.6L502.9,438.6L503.3,438L503.6,437.7L504,438.4L504.3,437.7L504.7,438L505,438.4L505.4,438.2L505.7,438.8L506.1,438.5L506.4,437.8L506.8,438.7L507.1,437.8L507.5,438.5L507.8,438.2L508.2,438.5L508.5,439.3L508.9,438.8L509.2,438.6L509.6,439L509.9,439.1L510.3,438.6L510.6,439L511,439.4L511.3,439.1L511.7,438.6L512,439.1L512.4,438.7L512.7,438.6L513.1,439.1L513.4,439.5L513.8,439.6L514.1,439.3L514.5,439L514.8,439.3L515.2,439.2L515.5,439.6L515.9,439.4L516.2,439.7L516.6,439.8L516.9,440.1L517.3,440.3L517.6,440L518,440.2L518.3,440.2L518.7,439.8L519,440.1L519.4,439.2L519.7,439.9L520.1,440.4L520.4,440L520.8,440.2L521.1,440.6L521.5,440.1L521.8,440.8L522.2,441.6L522.5,440.4L522.9,440.9L523.2,440.3L523.6,441L523.9,441.3L524.3,440.5L524.6,441.4L525,441L525.3,440.7L525.7,441.2L526,441.3L526.4,441.3L526.7,441.1L527.1,441.7L527.4,441.3L527.8,441.3L528.1,440.8L528.5,441.7L528.8,442L529.2,441.5L529.5,441.9L529.9,441.8L530.2,441.9L530.6,441.6L530.9,442.2L531.3,442.1L531.6,443L532,442.5L532.3,441.7L532.7,442.5L533,442.6L533.4,442.8L533.7,442.3L534.1,442.4L534.4,442.9L534.8,442.4L535.1,442.6L535.5,442.5L535.8,443L536.2,442.3L536.5,442.7L536.9,443L537.2,443.2L537.6,443L537.9,442.6L538.3,442.9L538.6,442.4L539,442.5L539.3,442.2L539.7,442.3L540,442.6L540.4,443.1L540.7,442.4L541.1,442.1L541.4,442.3L541.8,442.1L542.1,442.4L542.5,442.3L542.8,442.4L543.2,441.6L543.5,442L543.9,442.1L544.2,442.3L544.6,441.9L544.9,441.3L545.3,441.6L545.6,441.9L546,441.2L546.3,441.1L546.7,441.2L547,441.2L547.4,441L547.7,441.2L548.1,441.1L548.4,441.5L548.8,440.7L549.1,441.1L549.5,440.4L549.8,441.7L550.2,440.7L550.5,440.6L550.9,440.9L551.2,440.6L551.6,440.5L551.9,440.5L552.3,440.8L552.6,440.6L553,440.1L553.3,440L553.7,440.3L554,440.3L554.4,440.2L554.7,439.8L555.1,440.5L555.4,440.5L555.8,440L556.1,440.3L556.5,440.1L556.8,439.8L557.2,439.6L557.5,440.1L557.9,439.4L558.2,440.2L558.6,439.4L558.9,440L559.3,439.8L559.6,439.2L560,439.4L560.3,439.5L560.7,439.4L561,439L561.4,439.1L561.7,439.1L562.1,438.7L562.4,439.2L562.8,439.1L563.1,439L563.5,438.5L563.8,438.5L564.2,438.3L564.5,438.7L564.9,438.7L565.2,438.4L565.6,438.7L565.9,438.3L566.3,438.3L566.6,438.7L567,438.5L567.3,438.5L567.7,437.8L568,437.5L568.4,438.3L568.7,438.3L569.1,439L569.4,438.2L569.8,438.2L570.1,438.5L570.5,437.9L570.8,438.6L571.2,438.1L571.5,438L571.9,438.4L572.2,437.7L572.6,437.6L572.9,438.4L573.2,438.3L573.6,437.7L574,437.8L574.3,438.2L574.7,437.9L575,437.8L575.4,437.8L575.7,437.4L576.1,437.5L576.4,437L576.8,437.1L577.1,437.3L577.5,437.2L577.8,437.1L578.2,437.2L578.5,437.8L578.9,437.1L579.2,437.3L579.6,436.8L579.9,437.2L580.2,437.1L580.6,437.1L581,436.6L581.3,437L581.7,437.1L582,436.9L582.4,437.1L582.7,436.9L583.1,436.9L583.4,436.7L583.8,436.1L584.1,436.8L584.5,436.6L584.8,436.7L585.2,436.3L585.5,436.8L585.9,436.6L586.2,436.3L586.6,436.1L586.9,436.2L587.2,436.2L587.6,436.3L588,435.7L588.3,435.3L588.7,435.6L589,435.5L589.4,435.4L589.7,435.7L590.1,435.4L590.4,435.3L590.8,435L591.1,435L591.5,435.2L591.8,434.4L592.2,434.1L592.5,434.6L592.9,434.2L593.2,434.2L593.6,433.9L593.9,434.5L594.2,433.4L594.6,433.9L595,433.2L595.3,433.5L595.7,433.5L596,433.3L596.4,432.8L596.7,433.3L597.1,433L597.4,432.9L597.8,433.2L598.1,432.1L598.5,432.2L598.8,432.3L599.2,431.8L599.5,432.4L599.9,431.9L600.2,431.3L600.6,431.4L600.9,432.3L601.2,432.6L601.6,431.7L602,430.9L602.3,431.3L602.7,431.1L603,430.8L603.4,431.2L603.7,430.7L604.1,430.4L604.4,430.4L604.8,430.4L605.1,430.6L605.5,430.2L605.8,430.4L606.2,429.8L606.5,429.3L606.9,430.3L607.2,430.6L607.6,430L607.9,429.6L608.2,429.3L608.6,429.3L609,429.8L609.3,429.7L609.7,428.9L610,429.6L610.4,428.8L610.7,429.2L611.1,428.8L611.4,428.8L611.8,428.7L612.1,428.6L612.5,429.1L612.8,428.6L613.2,428.7L613.5,428.5L613.9,428.2L614.2,428.7L614.6,428.8L614.9,428.8L615.2,428.6L615.6,428.2L616,428.7L616.3,428.1L616.7,428.4L617,428.5L617.4,428.9L617.7,428.4L618.1,428.2L618.4,429L618.8,428L619.1,427.9L619.5,428.3L619.8,428.3L620.2,427.6L620.5,428L620.9,428.7L621.2,428.4L621.6,428.4L621.9,428.4L622.2,429.1L622.6,428.1L623,428.6L623.3,428.3L623.7,428.4L624,428.1L624.4,428.5L624.7,428.6L625.1,428.2L625.4,427.9L625.8,428.4L626.1,427.9L626.5,428.3L626.8,428.5L627.2,427.8L627.5,428.6L627.9,428L628.2,428.5L628.6,428.2L628.9,428.7L629.2,428.6L629.6,428L630,428.2L630.3,428.3L630.7,428.4L631,428.2L631.4,428.8L631.7,428.7L632.1,428.3L632.4,428.6L632.8,428.5L633.1,428.3L633.5,428.3L633.8,428.4L634.2,427.7L634.5,428L634.9,427.9L635.2,428.3L635.6,428.4L635.9,428.7L636.2,428.4L636.6,428.9L637,428.4L637.3,428L637.7,427.7L638,427.9L638.4,428.5L638.7,428.1L639.1,428.5L639.4,428L639.8,428.3L640.1,428L640.5,427.4L640.8,427.9L641.2,427.5L641.5,428.2L641.9,428.3L642.2,427.8L642.6,427.7L642.9,428.4L643.2,428.2L643.6,428.7L644,428.3L644.3,427.9L644.7,428.2L645,428.4L645.4,428.7L645.7,428.1L646.1,427.9L646.4,428L646.8,428.1L647.1,428.6L647.5,427.6L647.8,428.2L648.2,428.2L648.5,427.9L648.9,428.9L649.2,428.2L649.6,428.2L649.9,428L650.2,427.7L650.6,428L651,428.7L651.3,428.3L651.7,428.1L652,428.1L652.4,428.6L652.7,428.7L653.1,428L653.4,428L653.8,428.1L654.1,428.7L654.5,427.6L654.8,429.1L655.2,428.2L655.5,427.4L655.9,428.2L656.2,428L656.6,428.5L656.9,427.7L657.2,428.5L657.6,428L658,428.1L658.3,428.4L658.7,427.8L659,428.6L659.4,428.3L659.7,428.1L660.1,428.2L660.4,427.9L660.8,427.8L661.1,428.2L661.5,428.3L661.8,428.3L662.2,428.2L662.5,427.8L662.9,428.2L663.2,428L663.6,428.1L663.9,428.4L664.2,427.8L664.6,428.4L665,428.1L665.3,427.6L665.7,428.4L666,428.1L666.4,428.6L666.7,428.2L667.1,428.6L667.4,428.2L667.8,428.2L668.1,428L668.5,427.5L668.8,428L669.2,427.8L669.5,428.1L669.9,428.1L670.2,428.3" fill="none" stroke="#333" stroke-width="1.1" stroke-dasharray="1.5,1.2" stroke-linejoin="round"/>
<path d="M404.2,620L404.6,619.9L404.9,619.9L405.2,619.9L405.6,619.8L406,619.8L406.3,619.8L406.7,619.8L407,619.7L407.4,619.7L407.7,619.7L408.1,619.6L408.4,619.6L408.8,619.6L409.1,619.6L409.5,619.5L409.8,619.5L410.2,619.5L410.5,619.4L410.9,619.4L411.2,619.4L411.6,619.4L411.9,619.3L412.2,619.3L412.6,619.3L413,619.3L413.3,619.2L413.7,619.2L414,619.2L414.4,619.1L414.7,619.1L415.1,619.1L415.4,619.1L415.8,619L416.1,619L416.5,619L416.8,618.9L417.2,618.9L417.5,618.9L417.9,618.9L418.2,618.8L418.6,618.8L418.9,618.8L419.2,618.7L419.6,618.7L420,618.7L420.3,618.6L420.7,618.6L421,618.6L421.4,618.5L421.7,618.5L422.1,618.5L422.4,618.4L422.8,618.4L423.1,618.4L423.5,618.3L423.8,618.3L424.2,618.3L424.5,618.2L424.9,618.2L425.2,618.2L425.6,618.1L425.9,618.1L426.3,618.1L426.6,618L427,618L427.3,617.9L427.7,617.9L428,617.9L428.4,617.8L428.7,617.8L429.1,617.7L429.4,617.7L429.8,617.7L430.1,617.6L430.5,617.6L430.8,617.5L431.2,617.5L431.5,617.4L431.9,617.4L432.2,617.3L432.6,617.3L432.9,617.2L433.3,617.2L433.6,617.1L434,617.1L434.3,617L434.7,617L435,616.9L435.4,616.9L435.7,616.8L436.1,616.8L436.4,616.7L436.8,616.6L437.1,616.6L437.5,616.5L437.8,616.5L438.2,616.4L438.5,616.3L438.9,616.3L439.2,616.2L439.6,616.1L439.9,616.1L440.3,616L440.6,615.9L441,615.9L441.3,615.8L441.7,615.7L442,615.7L442.4,615.6L442.7,615.5L443.1,615.5L443.4,615.4L443.8,615.3L444.1,615.2L444.5,615.2L444.8,615.1L445.2,615L445.5,615L445.9,614.9L446.2,614.8L446.6,614.7L446.9,614.7L447.3,614.6L447.6,614.5L448,614.4L448.3,614.3L448.7,614.3L449,614.2L449.4,614.1L449.7,614L450.1,613.9L450.4,613.9L450.8,613.8L451.1,613.7L451.5,613.6L451.8,613.5L452.2,613.4L452.5,613.3L452.9,613.2L453.2,613.1L453.6,613L453.9,613L454.3,612.9L454.6,612.8L455,612.7L455.3,612.6L455.7,612.5L456,612.4L456.4,612.3L456.7,612.2L457.1,612.1L457.4,611.9L457.8,611.8L458.1,611.7L458.5,611.6L458.8,611.5L459.2,611.4L459.5,611.3L459.9,611.2L460.2,611.1L460.6,610.9L460.9,610.8L461.3,610.7L461.6,610.6L462,610.4L462.3,610.3L462.7,610.2L463,610L463.4,609.9L463.7,609.8L464.1,609.6L464.4,609.5L464.8,609.3L465.1,609.2L465.5,609L465.8,608.9L466.2,608.7L466.5,608.6L466.9,608.4L467.2,608.3L467.6,608.1L467.9,608L468.3,607.8L468.6,607.6L469,607.5L469.3,607.3L469.7,607.2L470,607L470.4,606.8L470.7,606.7L471.1,606.5L471.4,606.3L471.8,606.2L472.1,606L472.5,605.8L472.8,605.6L473.2,605.5L473.5,605.3L473.9,605.1L474.2,604.9L474.6,604.7L474.9,604.6L475.3,604.4L475.6,604.2L476,604L476.3,603.8L476.7,603.6L477,603.4L477.4,603.3L477.7,603.1L478.1,602.9L478.4,602.7L478.8,602.5L479.1,602.3L479.5,602.1L479.8,601.9L480.2,601.7L480.5,601.5L480.9,601.3L481.2,601.1L481.6,600.9L481.9,600.7L482.3,600.5L482.6,600.3L483,600.1L483.3,599.9L483.7,599.7L484,599.4L484.4,599.2L484.7,599L485.1,598.8L485.4,598.6L485.8,598.3L486.1,598.1L486.5,597.9L486.8,597.6L487.2,597.4L487.5,597.2L487.9,596.9L488.2,596.7L488.6,596.4L488.9,596.2L489.3,595.9L489.6,595.6L490,595.4L490.3,595.1L490.7,594.8L491,594.5L491.4,594.3L491.7,594L492.1,593.7L492.4,593.4L492.8,593.1L493.1,592.8L493.5,592.5L493.8,592.2L494.2,591.9L494.5,591.6L494.9,591.3L495.2,591L495.6,590.7L495.9,590.4L496.3,590.1L496.6,589.8L497,589.5L497.3,589.2L497.7,588.8L498,588.5L498.4,588.2L498.7,587.9L499.1,587.5L499.4,587.2L499.8,586.9L500.1,586.5L500.5,586.2L500.8,585.8L501.2,585.5L501.5,585.1L501.9,584.8L502.2,584.4L502.6,584.1L502.9,583.7L503.3,583.4L503.6,583L504,582.6L504.3,582.2L504.7,581.9L505,581.5L505.4,581.1L505.7,580.7L506.1,580.3L506.4,579.9L506.8,579.6L507.1,579.2L507.5,578.8L507.8,578.4L508.2,577.9L508.5,577.5L508.9,577.1L509.2,576.7L509.6,576.3L509.9,575.9L510.3,575.4L510.6,575L511,574.6L511.3,574.1L511.7,573.7L512,573.2L512.4,572.8L512.7,572.3L513.1,571.8L513.4,571.3L513.8,570.9L514.1,570.4L514.5,569.9L514.8,569.4L515.2,568.9L515.5,568.3L515.9,567.8L516.2,567.3L516.6,566.7L516.9,566.2L517.3,565.6L517.6,565L518,564.5L518.3,563.9L518.7,563.3L519,562.7L519.4,562.1L519.7,561.5L520.1,560.9L520.4,560.2L520.8,559.6L521.1,559L521.5,558.3L521.8,557.7L522.2,557L522.5,556.4L522.9,555.7L523.2,555L523.6,554.3L523.9,553.6L524.3,552.8L524.6,552.1L525,551.3L525.3,550.5L525.7,549.7L526,548.9L526.4,548.1L526.7,547.2L527.1,546.3L527.4,545.3L527.8,544.4L528.1,543.4L528.5,542.3L528.8,541.2L529.2,540.1L529.5,539L529.9,537.9L530.2,536.7L530.6,535.4L530.9,534L531.3,532.6L531.6,531.1L532,529.5L532.3,528L532.7,526.6L533,525.1L533.4,523.8L533.7,522.6L534.1,521.5L534.4,520.4L534.8,519.4L535.1,518.3L535.5,517.4L535.8,516.4L536.2,515.5L536.5,514.7L536.9,513.9L537.2,513.1L537.6,513.9L537.9,514.7L538.3,515.5L538.6,516.4L539,517.4L539.3,518.3L539.7,519.4L540,520.4L540.4,521.5L540.7,522.6L541.1,523.8L541.4,525.1L541.8,526.6L542.1,528L542.5,529.5L542.8,531.1L543.2,532.6L543.5,534L543.9,535.4L544.2,536.7L544.6,537.9L544.9,539L545.3,540.1L545.6,541.2L546,542.3L546.3,543.4L546.7,544.4L547,545.3L547.4,546.3L547.7,547.2L548.1,548.1L548.4,548.9L548.8,549.7L549.1,550.5L549.5,551.3L549.8,552.1L550.2,552.8L550.5,553.6L550.9,554.3L551.2,555L551.6,555.7L551.9,556.4L552.3,557L552.6,557.7L553,558.3L553.3,559L553.7,559.6L554,560.2L554.4,560.9L554.7,561.5L555.1,562.1L555.4,562.7L555.8,563.3L556.1,563.9L556.5,564.5L556.8,565L557.2,565.6L557.5,566.2L557.9,566.7L558.2,567.3L558.6,567.8L558.9,568.3L559.3,568.9L559.6,569.4L560,569.9L560.3,570.4L560.7,570.9L561,571.3L561.4,571.8L561.7,572.3L562.1,572.8L562.4,573.2L562.8,573.7L563.1,574.1L563.5,574.6L563.8,575L564.2,575.4L564.5,575.9L564.9,576.3L565.2,576.7L565.6,577.1L565.9,577.5L566.3,577.9L566.6,578.4L567,578.8L567.3,579.2L567.7,579.6L568,579.9L568.4,580.3L568.7,580.7L569.1,581.1L569.4,581.5L569.8,581.9L570.1,582.2L570.5,582.6L570.8,583L571.2,583.4L571.5,583.7L571.9,584.1L572.2,584.4L572.6,584.8L572.9,585.1L573.2,585.5L573.6,585.8L574,586.2L574.3,586.5L574.7,586.9L575,587.2L575.4,587.5L575.7,587.9L576.1,588.2L576.4,588.5L576.8,588.8L577.1,589.2L577.5,589.5L577.8,589.8L578.2,590.1L578.5,590.4L578.9,590.7L579.2,591L579.6,591.3L579.9,591.6L580.2,591.9L580.6,592.2L581,592.5L581.3,592.8L581.7,593.1L582,593.4L582.4,593.7L582.7,594L583.1,594.3L583.4,594.5L583.8,594.8L584.1,595.1L584.5,595.4L584.8,595.6L585.2,595.9L585.5,596.2L585.9,596.4L586.2,596.7L586.6,596.9L586.9,597.2L587.2,597.4L587.6,597.6L588,597.9L588.3,598.1L588.7,598.3L589,598.6L589.4,598.8L589.7,599L590.1,599.2L590.4,599.4L590.8,599.7L591.1,599.9L591.5,600.1L591.8,600.3L592.2,600.5L592.5,600.7L592.9,600.9L593.2,601.1L593.6,601.3L593.9,601.5L594.2,601.7L594.6,601.9L595,602.1L595.3,602.3L595.7,602.5L596,602.7L596.4,602.9L596.7,603.1L597.1,603.3L597.4,603.4L597.8,603.6L598.1,603.8L598.5,604L598.8,604.2L599.2,604.4L599.5,604.6L599.9,604.7L600.2,604.9L600.6,605.1L600.9,605.3L601.2,605.5L601.6,605.6L602,605.8L602.3,606L602.7,606.2L603,606.3L603.4,606.5L603.7,606.7L604.1,606.8L604.4,607L604.8,607.2L605.1,607.3L605.5,607.5L605.8,607.6L606.2,607.8L606.5,608L606.9,608.1L607.2,608.3L607.6,608.4L607.9,608.6L608.2,608.7L608.6,608.9L609,609L609.3,609.2L609.7,609.3L610,609.5L610.4,609.6L610.7,609.8L611.1,609.9L611.4,610L611.8,610.2L612.1,610.3L612.5,610.4L612.8,610.6L613.2,610.7L613.5,610.8L613.9,610.9L614.2,611.1L614.6,611.2L614.9,611.3L615.2,611.4L615.6,611.5L616,611.6L616.3,611.7L616.7,611.8L617,611.9L617.4,612.1L617.7,612.2L618.1,612.3L618.4,612.4L618.8,612.5L619.1,612.6L619.5,612.7L619.8,612.8L620.2,612.9L620.5,613L620.9,613L621.2,613.1L621.6,613.2L621.9,613.3L622.2,613.4L622.6,613.5L623,613.6L623.3,613.7L623.7,613.8L624,613.9L624.4,613.9L624.7,614L625.1,614.1L625.4,614.2L625.8,614.3L626.1,614.3L626.5,614.4L626.8,614.5L627.2,614.6L627.5,614.7L627.9,614.7L628.2,614.8L628.6,614.9L628.9,615L629.2,615L629.6,615.1L630,615.2L630.3,615.2L630.7,615.3L631,615.4L631.4,615.5L631.7,615.5L632.1,615.6L632.4,615.7L632.8,615.7L633.1,615.8L633.5,615.9L633.8,615.9L634.2,616L634.5,616.1L634.9,616.1L635.2,616.2L635.6,616.3L635.9,616.3L636.2,616.4L636.6,616.5L637,616.5L637.3,616.6L637.7,616.6L638,616.7L638.4,616.8L638.7,616.8L639.1,616.9L639.4,616.9L639.8,617L640.1,617L640.5,617.1L640.8,617.1L641.2,617.2L641.5,617.2L641.9,617.3L642.2,617.3L642.6,617.4L642.9,617.4L643.2,617.5L643.6,617.5L644,617.6L644.3,617.6L644.7,617.7L645,617.7L645.4,617.7L645.7,617.8L646.1,617.8L646.4,617.9L646.8,617.9L647.1,617.9L647.5,618L647.8,618L648.2,618.1L648.5,618.1L648.9,618.1L649.2,618.2L649.6,618.2L649.9,618.2L650.2,618.3L650.6,618.3L651,618.3L651.3,618.4L651.7,618.4L652,618.4L652.4,618.5L652.7,618.5L653.1,618.5L653.4,618.6L653.8,618.6L654.1,618.6L654.5,618.7L654.8,618.7L655.2,618.7L655.5,618.8L655.9,618.8L656.2,618.8L656.6,618.9L656.9,618.9L657.2,618.9L657.6,618.9L658,619L658.3,619L658.7,619L659,619.1L659.4,619.1L659.7,619.1L660.1,619.1L660.4,619.2L660.8,619.2L661.1,619.2L661.5,619.3L661.8,619.3L662.2,619.3L662.5,619.3L662.9,619.4L663.2,619.4L663.6,619.4L663.9,619.4L664.2,619.5L664.6,619.5L665,619.5L665.3,619.6L665.7,619.6L666,619.6L666.4,619.6L666.7,619.7L667.1,619.7L667.4,619.7L667.8,619.8L668.1,619.8L668.5,619.8L668.8,619.8L669.2,619.9L669.5,619.9L669.9,619.9L670.2,620" fill="none" stroke="#3a4aa8" stroke-width="2.6" stroke-linejoin="round"/>
<path d="M404.2,432.4L404.6,432.5L404.9,432.5L405.2,432.5L405.6,432.6L406,432.6L406.3,432.6L406.7,432.7L407,432.7L407.4,432.7L407.7,432.8L408.1,432.8L408.4,432.8L408.8,432.9L409.1,432.9L409.5,432.9L409.8,433L410.2,433L410.5,433.1L410.9,433.1L411.2,433.1L411.6,433.2L411.9,433.2L412.2,433.2L412.6,433.3L413,433.3L413.3,433.4L413.7,433.4L414,433.4L414.4,433.5L414.7,433.5L415.1,433.6L415.4,433.6L415.8,433.7L416.1,433.7L416.5,433.7L416.8,433.8L417.2,433.8L417.5,433.9L417.9,433.9L418.2,434L418.6,434L418.9,434.1L419.2,434.1L419.6,434.1L420,434.2L420.3,434.2L420.7,434.3L421,434.3L421.4,434.4L421.7,434.4L422.1,434.5L422.4,434.5L422.8,434.6L423.1,434.6L423.5,434.7L423.8,434.7L424.2,434.8L424.5,434.8L424.9,434.9L425.2,434.9L425.6,435L425.9,435L426.3,435.1L426.6,435.1L427,435.2L427.3,435.2L427.7,435.3L428,435.3L428.4,435.4L428.7,435.5L429.1,435.5L429.4,435.6L429.8,435.6L430.1,435.7L430.5,435.7L430.8,435.8L431.2,435.9L431.5,435.9L431.9,436L432.2,436L432.6,436.1L432.9,436.2L433.3,436.2L433.6,436.3L434,436.3L434.3,436.4L434.7,436.5L435,436.5L435.4,436.6L435.7,436.7L436.1,436.7L436.4,436.8L436.8,436.9L437.1,436.9L437.5,437L437.8,437.1L438.2,437.1L438.5,437.2L438.9,437.3L439.2,437.3L439.6,437.4L439.9,437.5L440.3,437.6L440.6,437.6L441,437.7L441.3,437.8L441.7,437.9L442,437.9L442.4,438L442.7,438.1L443.1,438.2L443.4,438.2L443.8,438.3L444.1,438.4L444.5,438.5L444.8,438.5L445.2,438.6L445.5,438.7L445.9,438.8L446.2,438.9L446.6,439L446.9,439L447.3,439.1L447.6,439.2L448,439.3L448.3,439.4L448.7,439.5L449,439.6L449.4,439.6L449.7,439.7L450.1,439.8L450.4,439.9L450.8,440L451.1,440.1L451.5,440.2L451.8,440.3L452.2,440.4L452.5,440.5L452.9,440.6L453.2,440.7L453.6,440.8L453.9,440.9L454.3,441L454.6,441.1L455,441.2L455.3,441.3L455.7,441.4L456,441.5L456.4,441.6L456.7,441.7L457.1,441.8L457.4,442L457.8,442.1L458.1,442.2L458.5,442.3L458.8,442.5L459.2,442.6L459.5,442.7L459.9,442.9L460.2,443L460.6,443.2L460.9,443.3L461.3,443.5L461.6,443.6L462,443.8L462.3,444L462.7,444.2L463,444.4L463.4,444.6L463.7,444.8L464.1,445L464.4,445.2L464.8,445.4L465.1,445.7L465.5,445.9L465.8,446.1L466.2,446.4L466.5,446.6L466.9,446.8L467.2,447.1L467.6,447.3L467.9,447.6L468.3,447.8L468.6,448.1L469,448.3L469.3,448.6L469.7,448.9L470,449.1L470.4,449.4L470.7,449.7L471.1,450L471.4,450.3L471.8,450.6L472.1,450.9L472.5,451.2L472.8,451.5L473.2,451.8L473.5,452.1L473.9,452.4L474.2,452.8L474.6,453.1L474.9,453.4L475.3,453.7L475.6,454.1L476,454.4L476.3,454.7L476.7,455.1L477,455.4L477.4,455.7L477.7,456L478.1,456.4L478.4,456.7L478.8,457L479.1,457.3L479.5,457.6L479.8,458L480.2,458.3L480.5,458.6L480.9,458.9L481.2,459.2L481.6,459.5L481.9,459.8L482.3,460.1L482.6,460.5L483,460.8L483.3,461.1L483.7,461.4L484,461.7L484.4,462L484.7,462.3L485.1,462.6L485.4,463L485.8,463.3L486.1,463.6L486.5,463.9L486.8,464.2L487.2,464.5L487.5,464.9L487.9,465.2L488.2,465.5L488.6,465.8L488.9,466.2L489.3,466.5L489.6,466.8L490,467.2L490.3,467.5L490.7,467.8L491,468.2L491.4,468.5L491.7,468.8L492.1,469.2L492.4,469.5L492.8,469.8L493.1,470.2L493.5,470.5L493.8,470.9L494.2,471.2L494.5,471.5L494.9,471.9L495.2,472.2L495.6,472.6L495.9,472.9L496.3,473.3L496.6,473.6L497,474L497.3,474.3L497.7,474.7L498,475.1L498.4,475.4L498.7,475.8L499.1,476.2L499.4,476.5L499.8,476.9L500.1,477.3L500.5,477.7L500.8,478.1L501.2,478.5L501.5,478.9L501.9,479.2L502.2,479.6L502.6,480L502.9,480.4L503.3,480.9L503.6,481.3L504,481.7L504.3,482.1L504.7,482.5L505,482.9L505.4,483.3L505.7,483.8L506.1,484.2L506.4,484.6L506.8,485L507.1,485.5L507.5,485.9L507.8,486.4L508.2,486.8L508.5,487.3L508.9,487.7L509.2,488.2L509.6,488.6L509.9,489.1L510.3,489.5L510.6,490L511,490.5L511.3,490.9L511.7,491.4L512,491.9L512.4,492.4L512.7,492.8L513.1,493.3L513.4,493.8L513.8,494.3L514.1,494.8L514.5,495.3L514.8,495.8L515.2,496.3L515.5,496.8L515.9,497.3L516.2,497.9L516.6,498.4L516.9,498.9L517.3,499.5L517.6,500.1L518,500.6L518.3,501.2L518.7,501.8L519,502.4L519.4,503.1L519.7,503.7L520.1,504.3L520.4,505L520.8,505.7L521.1,506.4L521.5,507.1L521.8,507.8L522.2,508.6L522.5,509.3L522.9,510.1L523.2,510.9L523.6,511.7L523.9,512.5L524.3,513.3L524.6,514.1L525,515L525.3,515.9L525.7,516.7L526,517.6L526.4,518.6L526.7,519.5L527.1,520.5L527.4,521.4L527.8,522.5L528.1,523.5L528.5,524.6L528.8,525.7L529.2,526.9L529.5,528.1L529.9,529.4L530.2,530.7" fill="none" stroke="#e8401c" stroke-width="2.6" stroke-linejoin="round"/>
<path d="M543.9,532L544.2,530.7L544.6,529.4L544.9,528.1L545.3,526.9L545.6,525.7L546,524.6L546.3,523.5L546.7,522.5L547,521.4L547.4,520.5L547.7,519.5L548.1,518.6L548.4,517.6L548.8,516.7L549.1,515.9L549.5,515L549.8,514.1L550.2,513.3L550.5,512.5L550.9,511.7L551.2,510.9L551.6,510.1L551.9,509.3L552.3,508.6L552.6,507.8L553,507.1L553.3,506.4L553.7,505.7L554,505L554.4,504.3L554.7,503.7L555.1,503.1L555.4,502.4L555.8,501.8L556.1,501.2L556.5,500.6L556.8,500.1L557.2,499.5L557.5,498.9L557.9,498.4L558.2,497.9L558.6,497.3L558.9,496.8L559.3,496.3L559.6,495.8L560,495.3L560.3,494.8L560.7,494.3L561,493.8L561.4,493.3L561.7,492.8L562.1,492.4L562.4,491.9L562.8,491.4L563.1,490.9L563.5,490.5L563.8,490L564.2,489.5L564.5,489.1L564.9,488.6L565.2,488.2L565.6,487.7L565.9,487.3L566.3,486.8L566.6,486.4L567,485.9L567.3,485.5L567.7,485L568,484.6L568.4,484.2L568.7,483.8L569.1,483.3L569.4,482.9L569.8,482.5L570.1,482.1L570.5,481.7L570.8,481.3L571.2,480.9L571.5,480.4L571.9,480L572.2,479.6L572.6,479.2L572.9,478.9L573.2,478.5L573.6,478.1L574,477.7L574.3,477.3L574.7,476.9L575,476.5L575.4,476.2L575.7,475.8L576.1,475.4L576.4,475.1L576.8,474.7L577.1,474.3L577.5,474L577.8,473.6L578.2,473.3L578.5,472.9L578.9,472.6L579.2,472.2L579.6,471.9L579.9,471.5L580.2,471.2L580.6,470.9L581,470.5L581.3,470.2L581.7,469.8L582,469.5L582.4,469.2L582.7,468.8L583.1,468.5L583.4,468.2L583.8,467.8L584.1,467.5L584.5,467.2L584.8,466.8L585.2,466.5L585.5,466.2L585.9,465.8L586.2,465.5L586.6,465.2L586.9,464.9L587.2,464.5L587.6,464.2L588,463.9L588.3,463.6L588.7,463.3L589,463L589.4,462.6L589.7,462.3L590.1,462L590.4,461.7L590.8,461.4L591.1,461.1L591.5,460.8L591.8,460.5L592.2,460.1L592.5,459.8L592.9,459.5L593.2,459.2L593.6,458.9L593.9,458.6L594.2,458.3L594.6,458L595,457.6L595.3,457.3L595.7,457L596,456.7L596.4,456.4L596.7,456L597.1,455.7L597.4,455.4L597.8,455.1L598.1,454.7L598.5,454.4L598.8,454.1L599.2,453.7L599.5,453.4L599.9,453.1L600.2,452.8L600.6,452.4L600.9,452.1L601.2,451.8L601.6,451.5L602,451.2L602.3,450.9L602.7,450.6L603,450.3L603.4,450L603.7,449.7L604.1,449.4L604.4,449.1L604.8,448.9L605.1,448.6L605.5,448.3L605.8,448.1L606.2,447.8L606.5,447.6L606.9,447.3L607.2,447.1L607.6,446.8L607.9,446.6L608.2,446.4L608.6,446.1L609,445.9L609.3,445.7L609.7,445.4L610,445.2L610.4,445L610.7,444.8L611.1,444.6L611.4,444.4L611.8,444.2L612.1,444L612.5,443.8L612.8,443.6L613.2,443.5L613.5,443.3L613.9,443.2L614.2,443L614.6,442.9L614.9,442.7L615.2,442.6L615.6,442.5L616,442.3L616.3,442.2L616.7,442.1L617,442L617.4,441.8L617.7,441.7L618.1,441.6L618.4,441.5L618.8,441.4L619.1,441.3L619.5,441.2L619.8,441.1L620.2,441L620.5,440.9L620.9,440.8L621.2,440.7L621.6,440.6L621.9,440.5L622.2,440.4L622.6,440.3L623,440.2L623.3,440.1L623.7,440L624,439.9L624.4,439.8L624.7,439.7L625.1,439.6L625.4,439.6L625.8,439.5L626.1,439.4L626.5,439.3L626.8,439.2L627.2,439.1L627.5,439L627.9,439L628.2,438.9L628.6,438.8L628.9,438.7L629.2,438.6L629.6,438.5L630,438.5L630.3,438.4L630.7,438.3L631,438.2L631.4,438.2L631.7,438.1L632.1,438L632.4,437.9L632.8,437.9L633.1,437.8L633.5,437.7L633.8,437.6L634.2,437.6L634.5,437.5L634.9,437.4L635.2,437.3L635.6,437.3L635.9,437.2L636.2,437.1L636.6,437.1L637,437L637.3,436.9L637.7,436.9L638,436.8L638.4,436.7L638.7,436.7L639.1,436.6L639.4,436.5L639.8,436.5L640.1,436.4L640.5,436.3L640.8,436.3L641.2,436.2L641.5,436.2L641.9,436.1L642.2,436L642.6,436L642.9,435.9L643.2,435.9L643.6,435.8L644,435.7L644.3,435.7L644.7,435.6L645,435.6L645.4,435.5L645.7,435.5L646.1,435.4L646.4,435.3L646.8,435.3L647.1,435.2L647.5,435.2L647.8,435.1L648.2,435.1L648.5,435L648.9,435L649.2,434.9L649.6,434.9L649.9,434.8L650.2,434.8L650.6,434.7L651,434.7L651.3,434.6L651.7,434.6L652,434.5L652.4,434.5L652.7,434.4L653.1,434.4L653.4,434.3L653.8,434.3L654.1,434.2L654.5,434.2L654.8,434.1L655.2,434.1L655.5,434.1L655.9,434L656.2,434L656.6,433.9L656.9,433.9L657.2,433.8L657.6,433.8L658,433.7L658.3,433.7L658.7,433.7L659,433.6L659.4,433.6L659.7,433.5L660.1,433.5L660.4,433.4L660.8,433.4L661.1,433.4L661.5,433.3L661.8,433.3L662.2,433.2L662.5,433.2L662.9,433.2L663.2,433.1L663.6,433.1L663.9,433.1L664.2,433L664.6,433L665,432.9L665.3,432.9L665.7,432.9L666,432.8L666.4,432.8L666.7,432.8L667.1,432.7L667.4,432.7L667.8,432.7L668.1,432.6L668.5,432.6L668.8,432.6L669.2,432.5L669.5,432.5L669.9,432.5L670.2,432.4" fill="none" stroke="#e8401c" stroke-width="2.6" stroke-linejoin="round"/>
<path d="M530.2,530.7L530.6,532L530.9,533.4L531.3,534.8L531.6,536.4L532,538L532.3,539.8L532.7,541.7L533,543.8L533.4,546.1L533.7,548.4L534.1,551.1L534.4,554.1L534.8,557.7L535.1,561.9L535.5,566.8L535.8,574.1L536.2,585.4L536.5,597.2L536.9,609.4L537.2,622.6L537.6,609.4L537.9,597.2L538.3,585.4L538.6,574.1L539,566.8L539.3,561.9L539.7,557.7L540,554.1L540.4,551.1L540.7,548.4L541.1,546.1L541.4,543.8L541.8,541.7L542.1,539.8L542.5,538L542.8,536.4L543.2,534.8L543.5,533.4L543.9,532L544.2,530.7" fill="none" stroke="#e8401c" stroke-width="1.5" stroke-linejoin="round"/>
<path d="M404.2,621.7L405.2,621.4L406.2,620.4L407.2,620.9L408.2,622.2L409.2,621.3L410.2,621.6L411.2,621.2L412.2,622.2L413.2,621.2L414.2,621.2L415.2,620.4L416.2,621.1L417.2,621L418.2,622.1L419.2,620.1L420.2,622.3L421.2,620.7L422.2,621.5L423.2,621.8L424.2,621.7L425.2,621.7L426.2,621.1L427.2,621.4L428.2,620.5L429.2,622.3L430.2,621.3L431.2,621.8L432.2,620.9L433.2,622.4L434.2,621.5L435.2,621.2L436.2,622.1L437.2,620.8L438.2,621.2L439.2,620.8L440.2,620.8L441.2,621.8L442.2,621.7L443.2,621.4L444.2,620.9L445.2,620.8L446.2,621.7L447.2,621.6L448.2,621.7L449.2,621.6L450.2,621.4L451.2,621.4L452.2,620.2L453.2,621.6L454.2,621.5L455.2,621.1L456.2,621.8L457.2,621.5L458.2,621.3L459.2,620.9L460.2,622L461.2,620.6L462.2,621.5L463.2,621.2L464.2,620.8L465.2,620.9L466.2,620.7L467.2,621.2L468.2,621.3L469.2,621.1L470.2,621.8L471.2,620.6L472.2,621.7L473.2,622L474.2,620.2L475.2,621.4L476.2,621.9L477.2,620.3L478.2,621.5L479.2,620.7L480.2,621.8L481.2,621.4L482.2,622.2L483.2,622.3L484.2,621.8L485.2,621.3L486.2,620.9L487.2,620L488.2,621.9L489.2,620.8L490.2,621.6L491.2,621.4L492.2,622.1L493.2,622.1L494.2,621.7L495.2,621.9L496.2,621.3L497.2,621.7L498.2,620.6L499.2,621.2L500.2,621.2L501.2,620.7L502.2,621L503.2,621.3L504.2,621.4L505.2,621.4L506.2,620.7L507.2,620.9L508.2,621.1L509.2,620.9L510.2,621.6L511.2,621L512.2,622.1L513.2,620.6L514.2,621.3L515.2,621.2L516.2,621L517.2,621.3L518.2,621.4L519.2,620.7L520.2,621.2L521.2,621.8L522.2,621.1L523.2,622.2L523.6,620.4L523.9,621.4L524.2,621.3L524.6,620.1L525,620.1L525.3,621.2L525.7,620.9L526,620.7L526.4,620.3L526.7,621.3L527.1,621.1L527.4,620.5L527.8,621L528.1,620.7L528.5,620.7L528.8,621.6L529.2,621.3L529.5,622.1L529.9,620.7L530.2,619.6L530.6,620.6L530.9,618.9L531.2,618.5L531.6,618.3L532,617.3L532.3,616.1L532.7,615L533,612.7L533.4,610L533.7,606.4L534.1,602.4L534.4,598.4L534.8,591.9L535.1,586.4L535.5,579.2L535.8,571.9L536.2,565.6L536.5,560.2L536.9,556.4L537.2,555.6L537.6,556.9L537.9,560.3L538.2,565L538.6,572.2L539,578.1L539.3,585.9L539.7,594L540,598.3L540.4,601.9L540.7,606.7L541.1,610.2L541.4,613L541.8,613.8L542.1,615.6L542.5,617L542.8,618L543.2,618.2L543.5,619.1L543.9,620.6L544.2,619.9L544.6,620.4L544.9,620.8L545.2,620.4L545.6,621L546,622.6L546.3,620.3L546.7,620.6L547,621.3L547.4,621.4L547.7,621.1L548.1,621.9L548.4,621.1L548.8,621.4L549.1,621.5L549.5,621.8L549.8,621.7L550.2,620.7L550.5,620.6L550.9,621L551.2,621.3L552.2,621.8L553.2,620.9L554.2,620.4L555.2,622.2L556.2,620.7L557.2,622.5L558.2,621.5L559.2,621.1L560.2,622L561.2,622.1L562.2,621.2L563.2,620.8L564.2,621.6L565.2,620.6L566.2,621.7L567.2,620.4L568.2,621.2L569.2,621.2L570.2,621L571.2,621.1L572.2,620.3L573.2,620.1L574.2,621L575.2,621.4L576.2,621.9L577.2,621.7L578.2,621.3L579.2,621.4L580.2,621.3L581.2,621.3L582.2,621L583.2,622L584.2,621.9L585.2,620.7L586.2,620.8L587.2,621.6L588.2,620.6L589.2,621.7L590.2,621.4L591.2,622.3L592.2,620.8L593.2,621.3L594.2,620.7L595.2,620.9L596.2,621.2L597.2,621.2L598.2,620.7L599.2,621.4L600.2,621.4L601.2,621.3L602.2,620.9L603.2,620.8L604.2,620.3L605.2,621.3L606.2,620.6L607.2,621.6L608.2,621L609.2,621.2L610.2,620.3L611.2,621L612.2,621.5L613.2,621L614.2,621.1L615.2,621.4L616.2,621.4L617.2,621.8L618.2,619.8L619.2,621.2L620.2,620.7L621.2,621.9L622.2,621.9L623.2,621.4L624.2,621.4L625.2,620.8L626.2,621.8L627.2,621L628.2,620.5L629.2,621.8L630.2,620.8L631.2,621.8L632.2,621.1L633.2,621.1L634.2,620.3L635.2,621.6L636.2,621.2L637.2,620.7L638.2,621.9L639.2,621.3L640.2,621.7L641.2,621.7L642.2,620.9L643.2,620.9L644.2,619.9L645.2,620.5L646.2,620.6L647.2,621.4L648.2,621.4L649.2,621.2L650.2,622.5L651.2,620.4L652.2,621.6L653.2,621.9L654.2,621.5L655.2,620.8L656.2,620.6L657.2,621.5L658.2,621L659.2,621.3L660.2,621.8L661.2,621.2L662.2,621.3L663.2,622.1L664.2,620.7L665.2,622.1L666.2,621.2L667.2,621.9L668.2,621.7L669.2,621.7L670.2,620.9" fill="none" stroke="#1a9a3a" stroke-width="2.2" stroke-linejoin="round"/>
</g>
<path d="M405.9,622.6h5M668.5,622.6h-5M405.9,611.8h2.5M668.5,611.8h-2.5M405.9,601h2.5M668.5,601h-2.5M405.9,590.1h2.5M668.5,590.1h-2.5M405.9,579.3h5M668.5,579.3h-5M405.9,568.5h2.5M668.5,568.5h-2.5M405.9,557.7h2.5M668.5,557.7h-2.5M405.9,546.9h2.5M668.5,546.9h-2.5M405.9,536h5M668.5,536h-5M405.9,525.2h2.5M668.5,525.2h-2.5M405.9,514.4h2.5M668.5,514.4h-2.5M405.9,503.6h2.5M668.5,503.6h-2.5M405.9,492.8h5M668.5,492.8h-5M405.9,481.9h2.5M668.5,481.9h-2.5M405.9,471.1h2.5M668.5,471.1h-2.5M405.9,460.3h2.5M668.5,460.3h-2.5M405.9,449.5h5M668.5,449.5h-5M405.9,438.7h2.5M668.5,438.7h-2.5M405.9,427.8h2.5M668.5,427.8h-2.5M405.9,417h2.5M668.5,417h-2.5M405.9,406.2h5M668.5,406.2h-5M414.7,406.2v5M414.7,622.6v-5M432.2,406.2v5M432.2,622.6v-5M449.7,406.2v5M449.7,622.6v-5M467.2,406.2v10M467.2,622.6v-10M484.7,406.2v5M484.7,622.6v-5M502.2,406.2v5M502.2,622.6v-5M519.7,406.2v5M519.7,622.6v-5M537.2,406.2v10M537.2,622.6v-10M554.7,406.2v5M554.7,622.6v-5M572.2,406.2v5M572.2,622.6v-5M589.7,406.2v5M589.7,622.6v-5M607.2,406.2v10M607.2,622.6v-10M624.7,406.2v5M624.7,622.6v-5M642.2,406.2v5M642.2,622.6v-5M659.7,406.2v5M659.7,622.6v-5" stroke="#000" stroke-width="1.4" fill="none"/>
<rect x="405.9" y="406.2" width="262.6" height="216.4" fill="none" stroke="#000" stroke-width="1.8"/>
<text x="402.3" y="628.4" font-size="16" font-weight="bold" text-anchor="end" font-family="Liberation Sans, sans-serif">0.0</text>
<text x="402.3" y="585.1" font-size="16" font-weight="bold" text-anchor="end" font-family="Liberation Sans, sans-serif">0.2</text>
<text x="402.3" y="541.8" font-size="16" font-weight="bold" text-anchor="end" font-family="Liberation Sans, sans-serif">0.4</text>
<text x="402.3" y="498.6" font-size="16" font-weight="bold" text-anchor="end" font-family="Liberation Sans, sans-serif">0.6</text>
<text x="402.3" y="455.3" font-size="16" font-weight="bold" text-anchor="end" font-family="Liberation Sans, sans-serif">0.8</text>
<text x="402.3" y="412" font-size="16" font-weight="bold" text-anchor="end" font-family="Liberation Sans, sans-serif">1.0</text>
<text x="464.7" y="640" font-size="16" font-weight="bold" text-anchor="middle" font-family="Liberation Sans, sans-serif">-10</text>
<text x="537.2" y="640" font-size="16" font-weight="bold" text-anchor="middle" font-family="Liberation Sans, sans-serif">0</text>
<text x="607.2" y="640" font-size="16" font-weight="bold" text-anchor="middle" font-family="Liberation Sans, sans-serif">10</text>
<text x="358" y="413.6" font-size="25" font-weight="bold" stroke="#000" stroke-width="0.5" font-family="Liberation Sans, sans-serif">f</text>
<text x="628.6" y="423.9" font-size="18" font-family="Liberation Serif, serif">total</text>
<text x="426" y="475.5" font-size="22.5" fill="#e8401c" font-family="Liberation Serif, serif"><tspan font-style="italic">B</tspan><tspan font-size="16" dy="-8.5">2</tspan><tspan dy="8.5" dx="1.5">/</tspan><tspan dx="1.5">8</tspan><tspan dx="1" font-style="italic">π</tspan></text>
<text x="412" y="561.9" font-size="16" font-weight="bold" fill="#e826e0" font-family="Liberation Sans, sans-serif">Eq.(12)</text>
<text x="486" y="609.9" font-size="22" fill="#1a9a3a" font-family="Liberation Serif, serif">Δ<tspan font-style="italic">P</tspan><tspan font-size="16" dy="5.5" font-style="italic">zz</tspan></text>
<path d="M546.1,535.2H556.3M581.9,534.7H643.2" stroke="#1e4ff0" stroke-width="1.3"/>
<path d="M570.2,514.6 C569.2,512.6 566.6,513.2 566.2,516.5 L564.6,553 C564.2,556.4 561.8,556.8 561,554.6" fill="none" stroke="#1e4ff0" stroke-width="1.5" stroke-linecap="round"/>
<text x="571.5" y="520.5" font-size="13" fill="#1e4ff0" font-family="Liberation Serif, serif" font-style="italic">z</text>
<text x="583.6" y="524.5" font-size="18.5" fill="#1e4ff0" font-family="Liberation Serif, serif"><tspan font-weight="bold">B</tspan> · ∇<tspan dx="1.5" font-style="italic">B</tspan><tspan font-size="14" dy="6" font-style="italic">z</tspan></text>
<text x="603.2" y="554.8" font-size="19" fill="#1e4ff0" font-family="Liberation Serif, serif">4<tspan font-style="italic">π</tspan></text>
<text x="645.3" y="539.9" font-size="18.5" fill="#1e4ff0" font-family="Liberation Serif, serif" font-style="italic">dz′</text>
<text x="559.5" y="644.2" font-size="21" fill="#2a6aaa" font-family="Liberation Serif, serif"><tspan font-style="italic">d</tspan><tspan font-size="15" dy="4.5">i</tspan></text>
<path d="M555.6,633.6L549.5,627.5" stroke="#2a6aaa" stroke-width="1.6"/><path d="M546.2,624.2L552.8,626.3L549.2,630.2Z" fill="#2a6aaa"/>
<text transform="translate(521.2,661.4) skewX(-13)" font-size="22.8" font-style="italic" font-family="Liberation Serif, serif">z</text><text x="529.7" y="661.4" font-size="22.8" font-family="Liberation Serif, serif"><tspan dx="2.4">/</tspan><tspan dx="0.9" font-style="italic">d</tspan><tspan font-size="16.1" dy="4.5" dx="-0.5">i</tspan></text>
<text transform="translate(16.4,95.6) rotate(-90)" text-anchor="middle" font-size="24.5" font-family="Liberation Serif, serif"><tspan font-style="italic">ν</tspan><tspan font-size="17" dy="4.3">e<tspan font-style="italic">z</tspan></tspan><tspan dy="-4.3">/</tspan><tspan font-style="italic">ν</tspan><tspan font-size="17" dy="4.3">the</tspan></text>
<text transform="translate(365.3,98.6) rotate(-90)" text-anchor="middle" font-size="24.5" font-family="Liberation Serif, serif"><tspan font-style="italic">ν</tspan><tspan font-size="17" dy="4.3">i<tspan font-style="italic">z</tspan></tspan><tspan dy="-4.3">/</tspan><tspan font-style="italic">ν</tspan><tspan font-size="17" dy="4.3">thi</tspan></text>
<text transform="translate(16.4,269.6) rotate(-90)" text-anchor="middle" font-size="24.5" font-family="Liberation Serif, serif"><tspan font-style="italic">ν</tspan><tspan font-size="17" dy="4.3">e<tspan font-style="italic">z</tspan></tspan><tspan dy="-4.3">/</tspan><tspan font-style="italic">ν</tspan><tspan font-size="17" dy="4.3">the</tspan></text>
<text transform="translate(365.3,273) rotate(-90)" text-anchor="middle" font-size="24.5" font-family="Liberation Serif, serif"><tspan font-style="italic">ν</tspan><tspan font-size="17" dy="4.3">i<tspan font-style="italic">z</tspan></tspan><tspan dy="-4.3">/</tspan><tspan font-style="italic">ν</tspan><tspan font-size="17" dy="4.3">thi</tspan></text>
<text x="42.4" y="360.7" font-size="16" font-weight="bold" text-anchor="middle" font-family="Liberation Sans, sans-serif">-3</text>
<text x="86.1" y="360.7" font-size="16" font-weight="bold" text-anchor="middle" font-family="Liberation Sans, sans-serif">-2</text>
<text x="129.7" y="360.7" font-size="16" font-weight="bold" text-anchor="middle" font-family="Liberation Sans, sans-serif">-1</text>
<text x="174.8" y="360.7" font-size="16" font-weight="bold" text-anchor="middle" font-family="Liberation Sans, sans-serif">0</text>
<text x="218.5" y="360.7" font-size="16" font-weight="bold" text-anchor="middle" font-family="Liberation Sans, sans-serif">1</text>
<text x="262.2" y="360.7" font-size="16" font-weight="bold" text-anchor="middle" font-family="Liberation Sans, sans-serif">2</text>
<text x="305.8" y="360.7" font-size="16" font-weight="bold" text-anchor="middle" font-family="Liberation Sans, sans-serif">3</text>
<text transform="translate(165.3,379.4) skewX(-13)" font-size="21.3" font-style="italic" font-family="Liberation Serif, serif">z</text><text x="173.2" y="379.4" font-size="21.3" font-family="Liberation Serif, serif"><tspan dx="2.2">/</tspan><tspan dx="-0.3" font-style="italic">d</tspan><tspan font-size="15" dy="4.5" dx="-0.5">i</tspan></text>
<text x="391.4" y="360.7" font-size="16" font-weight="bold" text-anchor="middle" font-family="Liberation Sans, sans-serif">-3</text>
<text x="435.1" y="360.7" font-size="16" font-weight="bold" text-anchor="middle" font-family="Liberation Sans, sans-serif">-2</text>
<text x="478.7" y="360.7" font-size="16" font-weight="bold" text-anchor="middle" font-family="Liberation Sans, sans-serif">-1</text>
<text x="523.8" y="360.7" font-size="16" font-weight="bold" text-anchor="middle" font-family="Liberation Sans, sans-serif">0</text>
<text x="567.5" y="360.7" font-size="16" font-weight="bold" text-anchor="middle" font-family="Liberation Sans, sans-serif">1</text>
<text x="611.1" y="360.7" font-size="16" font-weight="bold" text-anchor="middle" font-family="Liberation Sans, sans-serif">2</text>
<text x="654.8" y="360.7" font-size="16" font-weight="bold" text-anchor="middle" font-family="Liberation Sans, sans-serif">3</text>
<text transform="translate(514.3,379.4) skewX(-13)" font-size="21.3" font-style="italic" font-family="Liberation Serif, serif">z</text><text x="522.2" y="379.4" font-size="21.3" font-family="Liberation Serif, serif"><tspan dx="2.2">/</tspan><tspan dx="-0.3" font-style="italic">d</tspan><tspan font-size="15" dy="4.5" dx="-0.5">i</tspan></text>
</svg></body></html>
